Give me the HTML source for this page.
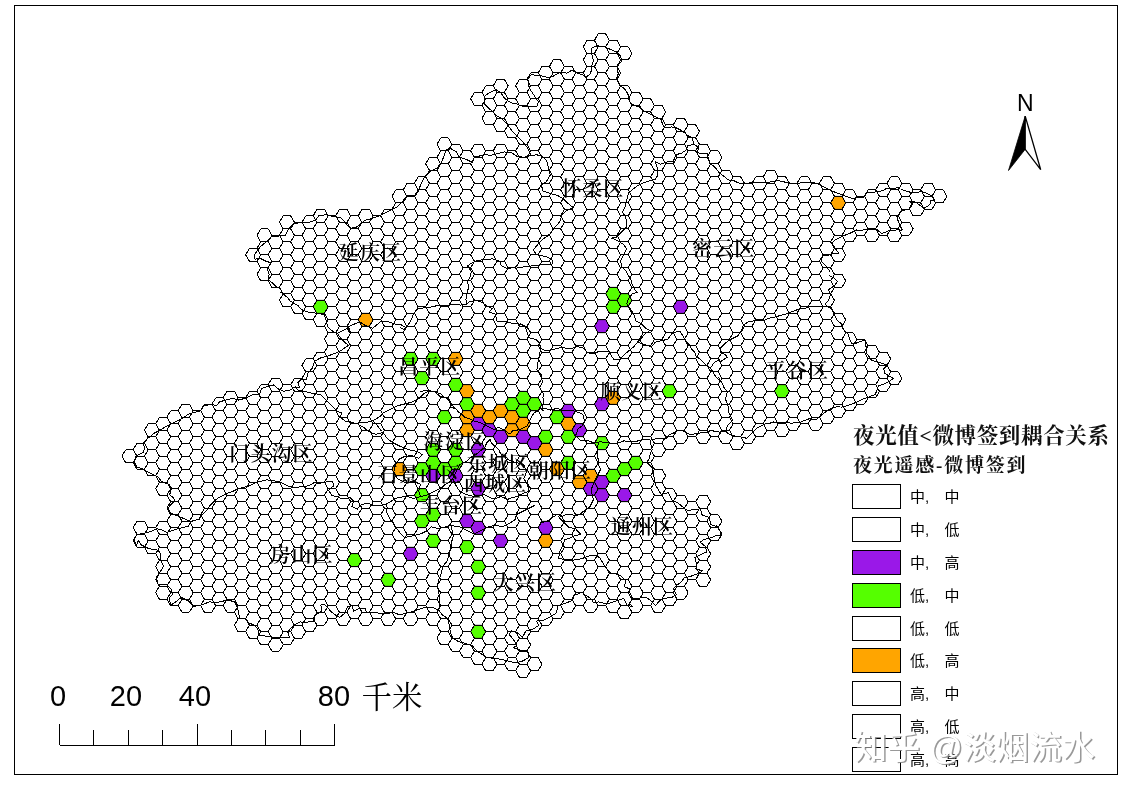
<!DOCTYPE html>
<html lang="zh"><head><meta charset="utf-8"><title>夜光值-微博签到耦合关系</title>
<style>
html,body{margin:0;padding:0;background:#fff;overflow:hidden}
svg{display:block}
.dl{font-family:"Liberation Serif","Noto Serif CJK SC",serif;font-size:20px;font-weight:600;fill:#000;letter-spacing:1.1px}
.ll{font-family:"Liberation Sans","Noto Sans CJK SC",sans-serif;font-size:15px;font-weight:400;fill:#000}
.lt{font-family:"Liberation Serif","Noto Serif CJK SC",serif;font-weight:700;fill:#111}
.sb{font-family:"Liberation Sans",sans-serif;font-size:29px;fill:#000}
.km{font-family:"Liberation Serif","Noto Serif CJK SC",serif;font-size:30.5px;fill:#000}
.wm{font-family:"Liberation Sans","Noto Sans CJK SC",sans-serif;font-size:33px;font-weight:500}
</style></head><body>
<svg width="1123" height="794" viewBox="0 0 1123 794">
<rect x="0" y="0" width="1123" height="794" fill="#fff"/>
<rect x="14.5" y="5.5" width="1103" height="769" fill="none" stroke="#000" stroke-width="1" shape-rendering="crispEdges"/>
<g id="colored"><path d="M470.68,423.74 474.43,417.24 481.93,417.24 485.68,423.74 481.93,430.24 474.43,430.24ZM481.93,430.24 485.68,423.74 493.18,423.74 496.93,430.24 493.18,436.73 485.68,436.73ZM493.18,436.73 496.93,430.24 504.43,430.24 508.18,436.73 504.43,443.23 496.93,443.23ZM515.68,436.73 519.43,430.24 526.93,430.24 530.68,436.73 526.93,443.23 519.43,443.23ZM526.93,443.23 530.68,436.73 538.18,436.73 541.93,443.23 538.18,449.73 530.68,449.73ZM470.68,449.73 474.43,443.23 481.93,443.23 485.68,449.73 481.93,456.23 474.43,456.23ZM560.68,410.74 564.43,404.25 571.93,404.25 575.68,410.74 571.93,417.24 564.43,417.24ZM571.93,430.24 575.68,423.74 583.18,423.74 586.93,430.24 583.18,436.73 575.68,436.73ZM594.43,404.25 598.18,397.75 605.68,397.75 609.43,404.25 605.68,410.74 598.18,410.74ZM425.68,475.72 429.43,469.22 436.93,469.22 440.68,475.72 436.93,482.22 429.43,482.22ZM448.18,475.72 451.93,469.22 459.43,469.22 463.18,475.72 459.43,482.22 451.93,482.22ZM470.68,488.71 474.43,482.22 481.93,482.22 485.68,488.71 481.93,495.21 474.43,495.21ZM459.43,521.2 463.18,514.7 470.68,514.7 474.43,521.2 470.68,527.7 463.18,527.7ZM470.68,527.7 474.43,521.2 481.93,521.2 485.68,527.7 481.93,534.2 474.43,534.2ZM493.18,540.69 496.93,534.2 504.43,534.2 508.18,540.69 504.43,547.19 496.93,547.19ZM403.18,553.69 406.93,547.19 414.43,547.19 418.18,553.69 414.43,560.19 406.93,560.19ZM538.18,527.7 541.93,521.2 549.43,521.2 553.18,527.7 549.43,534.2 541.93,534.2ZM583.18,488.71 586.93,482.22 594.43,482.22 598.18,488.71 594.43,495.21 586.93,495.21ZM594.43,482.22 598.18,475.72 605.68,475.72 609.43,482.22 605.68,488.71 598.18,488.71ZM594.43,495.21 598.18,488.71 605.68,488.71 609.43,495.21 605.68,501.71 598.18,501.71ZM616.93,495.21 620.68,488.71 628.18,488.71 631.93,495.21 628.18,501.71 620.68,501.71ZM594.43,326.28 598.18,319.78 605.68,319.78 609.43,326.28 605.68,332.77 598.18,332.77ZM673.18,306.78 676.93,300.29 684.43,300.29 688.18,306.78 684.43,313.28 676.93,313.28Z" fill="#9a18e8" stroke="#222" stroke-width="0.6"/><path d="M313.18,306.78 316.93,300.29 324.43,300.29 328.18,306.78 324.43,313.28 316.93,313.28ZM403.18,358.76 406.93,352.27 414.43,352.27 418.18,358.76 414.43,365.26 406.93,365.26ZM425.68,358.76 429.43,352.27 436.93,352.27 440.68,358.76 436.93,365.26 429.43,365.26ZM414.43,378.26 418.18,371.76 425.68,371.76 429.43,378.26 425.68,384.75 418.18,384.75ZM448.18,384.75 451.93,378.26 459.43,378.26 463.18,384.75 459.43,391.25 451.93,391.25ZM459.43,404.25 463.18,397.75 470.68,397.75 474.43,404.25 470.68,410.74 463.18,410.74ZM436.93,417.24 440.68,410.74 448.18,410.74 451.93,417.24 448.18,423.74 440.68,423.74ZM515.68,397.75 519.43,391.25 526.93,391.25 530.68,397.75 526.93,404.25 519.43,404.25ZM504.43,404.25 508.18,397.75 515.68,397.75 519.43,404.25 515.68,410.74 508.18,410.74ZM526.93,404.25 530.68,397.75 538.18,397.75 541.93,404.25 538.18,410.74 530.68,410.74ZM515.68,410.74 519.43,404.25 526.93,404.25 530.68,410.74 526.93,417.24 519.43,417.24ZM538.18,436.73 541.93,430.24 549.43,430.24 553.18,436.73 549.43,443.23 541.93,443.23ZM549.43,417.24 553.18,410.74 560.68,410.74 564.43,417.24 560.68,423.74 553.18,423.74ZM560.68,436.73 564.43,430.24 571.93,430.24 575.68,436.73 571.93,443.23 564.43,443.23ZM560.68,462.72 564.43,456.23 571.93,456.23 575.68,462.72 571.93,469.22 564.43,469.22ZM425.68,449.73 429.43,443.23 436.93,443.23 440.68,449.73 436.93,456.23 429.43,456.23ZM448.18,449.73 451.93,443.23 459.43,443.23 463.18,449.73 459.43,456.23 451.93,456.23ZM425.68,462.72 429.43,456.23 436.93,456.23 440.68,462.72 436.93,469.22 429.43,469.22ZM448.18,462.72 451.93,456.23 459.43,456.23 463.18,462.72 459.43,469.22 451.93,469.22ZM414.43,469.22 418.18,462.72 425.68,462.72 429.43,469.22 425.68,475.72 418.18,475.72ZM436.93,469.22 440.68,462.72 448.18,462.72 451.93,469.22 448.18,475.72 440.68,475.72ZM414.43,495.21 418.18,488.71 425.68,488.71 429.43,495.21 425.68,501.71 418.18,501.71ZM425.68,514.7 429.43,508.21 436.93,508.21 440.68,514.7 436.93,521.2 429.43,521.2ZM414.43,521.2 418.18,514.7 425.68,514.7 429.43,521.2 425.68,527.7 418.18,527.7ZM425.68,540.69 429.43,534.2 436.93,534.2 440.68,540.69 436.93,547.19 429.43,547.19ZM459.43,547.19 463.18,540.69 470.68,540.69 474.43,547.19 470.68,553.69 463.18,553.69ZM470.68,566.68 474.43,560.19 481.93,560.19 485.68,566.68 481.93,573.18 474.43,573.18ZM470.68,592.67 474.43,586.18 481.93,586.18 485.68,592.67 481.93,599.17 474.43,599.17ZM470.68,631.66 474.43,625.16 481.93,625.16 485.68,631.66 481.93,638.16 474.43,638.16ZM346.93,560.19 350.68,553.69 358.18,553.69 361.93,560.19 358.18,566.68 350.68,566.68ZM380.68,579.68 384.43,573.18 391.93,573.18 395.68,579.68 391.93,586.18 384.43,586.18ZM594.43,443.23 598.18,436.73 605.68,436.73 609.43,443.23 605.68,449.73 598.18,449.73ZM605.68,475.72 609.43,469.22 616.93,469.22 620.68,475.72 616.93,482.22 609.43,482.22ZM616.93,469.22 620.68,462.72 628.18,462.72 631.93,469.22 628.18,475.72 620.68,475.72ZM628.18,462.72 631.93,456.23 639.43,456.23 643.18,462.72 639.43,469.22 631.93,469.22ZM605.68,293.79 609.43,287.29 616.93,287.29 620.68,293.79 616.93,300.29 609.43,300.29ZM616.93,300.29 620.68,293.79 628.18,293.79 631.93,300.29 628.18,306.78 620.68,306.78ZM605.68,306.78 609.43,300.29 616.93,300.29 620.68,306.78 616.93,313.28 609.43,313.28ZM661.93,391.25 665.68,384.75 673.18,384.75 676.93,391.25 673.18,397.75 665.68,397.75ZM774.43,391.25 778.18,384.75 785.68,384.75 789.43,391.25 785.68,397.75 778.18,397.75Z" fill="#55ff00" stroke="#222" stroke-width="0.6"/><path d="M358.18,319.78 361.93,313.28 369.43,313.28 373.18,319.78 369.43,326.28 361.93,326.28ZM448.18,358.76 451.93,352.27 459.43,352.27 463.18,358.76 459.43,365.26 451.93,365.26ZM459.43,391.25 463.18,384.75 470.68,384.75 474.43,391.25 470.68,397.75 463.18,397.75ZM470.68,410.74 474.43,404.25 481.93,404.25 485.68,410.74 481.93,417.24 474.43,417.24ZM459.43,417.24 463.18,410.74 470.68,410.74 474.43,417.24 470.68,423.74 463.18,423.74ZM481.93,417.24 485.68,410.74 493.18,410.74 496.93,417.24 493.18,423.74 485.68,423.74ZM493.18,410.74 496.93,404.25 504.43,404.25 508.18,410.74 504.43,417.24 496.93,417.24ZM504.43,417.24 508.18,410.74 515.68,410.74 519.43,417.24 515.68,423.74 508.18,423.74ZM515.68,423.74 519.43,417.24 526.93,417.24 530.68,423.74 526.93,430.24 519.43,430.24ZM504.43,430.24 508.18,423.74 515.68,423.74 519.43,430.24 515.68,436.73 508.18,436.73ZM459.43,430.24 463.18,423.74 470.68,423.74 474.43,430.24 470.68,436.73 463.18,436.73ZM538.18,449.73 541.93,443.23 549.43,443.23 553.18,449.73 549.43,456.23 541.93,456.23ZM560.68,423.74 564.43,417.24 571.93,417.24 575.68,423.74 571.93,430.24 564.43,430.24ZM605.68,397.75 609.43,391.25 616.93,391.25 620.68,397.75 616.93,404.25 609.43,404.25ZM391.93,469.22 395.68,462.72 403.18,462.72 406.93,469.22 403.18,475.72 395.68,475.72ZM549.43,469.22 553.18,462.72 560.68,462.72 564.43,469.22 560.68,475.72 553.18,475.72ZM583.18,475.72 586.93,469.22 594.43,469.22 598.18,475.72 594.43,482.22 586.93,482.22ZM571.93,482.22 575.68,475.72 583.18,475.72 586.93,482.22 583.18,488.71 575.68,488.71ZM538.18,540.69 541.93,534.2 549.43,534.2 553.18,540.69 549.43,547.19 541.93,547.19ZM830.68,202.82 834.43,196.33 841.93,196.33 845.68,202.82 841.93,209.32 834.43,209.32Z" fill="#ffa500" stroke="#222" stroke-width="0.6"/></g>
<path id="grid" d="M121.93,456.23L125.68,449.73M125.68,449.73L133.18,449.73M133.18,449.73L136.93,456.23M136.93,456.23L133.18,462.72M133.18,462.72L125.68,462.72M125.68,462.72L121.93,456.23M133.18,449.73L136.93,443.23M136.93,443.23L144.43,443.23M144.43,443.23L148.18,449.73M148.18,449.73L144.43,456.23M144.43,456.23L136.93,456.23M144.43,456.23L148.18,462.72M148.18,462.72L144.43,469.22M144.43,469.22L136.93,469.22M136.93,469.22L133.18,462.72M133.18,527.7L136.93,521.2M136.93,521.2L144.43,521.2M144.43,521.2L148.18,527.7M148.18,527.7L144.43,534.2M144.43,534.2L136.93,534.2M136.93,534.2L133.18,527.7M133.18,540.69L136.93,534.2M144.43,534.2L148.18,540.69M148.18,540.69L144.43,547.19M144.43,547.19L136.93,547.19M136.93,547.19L133.18,540.69M144.43,430.24L148.18,423.74M148.18,423.74L155.68,423.74M155.68,423.74L159.43,430.24M159.43,430.24L155.68,436.73M155.68,436.73L148.18,436.73M148.18,436.73L144.43,430.24M144.43,443.23L148.18,436.73M155.68,436.73L159.43,443.23M159.43,443.23L155.68,449.73M155.68,449.73L148.18,449.73M155.68,449.73L159.43,456.23M159.43,456.23L155.68,462.72M155.68,462.72L148.18,462.72M155.68,462.72L159.43,469.22M159.43,469.22L155.68,475.72M155.68,475.72L148.18,475.72M148.18,475.72L144.43,469.22M148.18,527.7L155.68,527.7M155.68,527.7L159.43,534.2M159.43,534.2L155.68,540.69M155.68,540.69L148.18,540.69M155.68,540.69L159.43,547.19M159.43,547.19L155.68,553.69M155.68,553.69L148.18,553.69M148.18,553.69L144.43,547.19M155.68,423.74L159.43,417.24M159.43,417.24L166.93,417.24M166.93,417.24L170.68,423.74M170.68,423.74L166.93,430.24M166.93,430.24L159.43,430.24M166.93,430.24L170.68,436.73M170.68,436.73L166.93,443.23M166.93,443.23L159.43,443.23M166.93,443.23L170.68,449.73M170.68,449.73L166.93,456.23M166.93,456.23L159.43,456.23M166.93,456.23L170.68,462.72M170.68,462.72L166.93,469.22M166.93,469.22L159.43,469.22M166.93,469.22L170.68,475.72M170.68,475.72L166.93,482.22M166.93,482.22L159.43,482.22M159.43,482.22L155.68,475.72M155.68,488.71L159.43,482.22M166.93,482.22L170.68,488.71M170.68,488.71L166.93,495.21M166.93,495.21L159.43,495.21M159.43,495.21L155.68,488.71M155.68,527.7L159.43,521.2M159.43,521.2L166.93,521.2M166.93,521.2L170.68,527.7M170.68,527.7L166.93,534.2M166.93,534.2L159.43,534.2M166.93,534.2L170.68,540.69M170.68,540.69L166.93,547.19M166.93,547.19L159.43,547.19M166.93,547.19L170.68,553.69M170.68,553.69L166.93,560.19M166.93,560.19L159.43,560.19M159.43,560.19L155.68,553.69M155.68,566.68L159.43,560.19M166.93,560.19L170.68,566.68M170.68,566.68L166.93,573.18M166.93,573.18L159.43,573.18M159.43,573.18L155.68,566.68M155.68,579.68L159.43,573.18M166.93,573.18L170.68,579.68M170.68,579.68L166.93,586.18M166.93,586.18L159.43,586.18M159.43,586.18L155.68,579.68M155.68,592.67L159.43,586.18M166.93,586.18L170.68,592.67M170.68,592.67L166.93,599.17M166.93,599.17L159.43,599.17M159.43,599.17L155.68,592.67M166.93,417.24L170.68,410.74M170.68,410.74L178.18,410.74M178.18,410.74L181.93,417.24M181.93,417.24L178.18,423.74M178.18,423.74L170.68,423.74M178.18,423.74L181.93,430.24M181.93,430.24L178.18,436.73M178.18,436.73L170.68,436.73M178.18,436.73L181.93,443.23M181.93,443.23L178.18,449.73M178.18,449.73L170.68,449.73M178.18,449.73L181.93,456.23M181.93,456.23L178.18,462.72M178.18,462.72L170.68,462.72M178.18,462.72L181.93,469.22M181.93,469.22L178.18,475.72M178.18,475.72L170.68,475.72M178.18,475.72L181.93,482.22M181.93,482.22L178.18,488.71M178.18,488.71L170.68,488.71M178.18,488.71L181.93,495.21M181.93,495.21L178.18,501.71M178.18,501.71L170.68,501.71M170.68,501.71L166.93,495.21M166.93,508.21L170.68,501.71M178.18,501.71L181.93,508.21M181.93,508.21L178.18,514.7M178.18,514.7L170.68,514.7M170.68,514.7L166.93,508.21M166.93,521.2L170.68,514.7M178.18,514.7L181.93,521.2M181.93,521.2L178.18,527.7M178.18,527.7L170.68,527.7M178.18,527.7L181.93,534.2M181.93,534.2L178.18,540.69M178.18,540.69L170.68,540.69M178.18,540.69L181.93,547.19M181.93,547.19L178.18,553.69M178.18,553.69L170.68,553.69M178.18,553.69L181.93,560.19M181.93,560.19L178.18,566.68M178.18,566.68L170.68,566.68M178.18,566.68L181.93,573.18M181.93,573.18L178.18,579.68M178.18,579.68L170.68,579.68M178.18,579.68L181.93,586.18M181.93,586.18L178.18,592.67M178.18,592.67L170.68,592.67M178.18,592.67L181.93,599.17M181.93,599.17L178.18,605.67M178.18,605.67L170.68,605.67M170.68,605.67L166.93,599.17M178.18,410.74L181.93,404.25M181.93,404.25L189.43,404.25M189.43,404.25L193.18,410.74M193.18,410.74L189.43,417.24M189.43,417.24L181.93,417.24M189.43,417.24L193.18,423.74M193.18,423.74L189.43,430.24M189.43,430.24L181.93,430.24M189.43,430.24L193.18,436.73M193.18,436.73L189.43,443.23M189.43,443.23L181.93,443.23M189.43,443.23L193.18,449.73M193.18,449.73L189.43,456.23M189.43,456.23L181.93,456.23M189.43,456.23L193.18,462.72M193.18,462.72L189.43,469.22M189.43,469.22L181.93,469.22M189.43,469.22L193.18,475.72M193.18,475.72L189.43,482.22M189.43,482.22L181.93,482.22M189.43,482.22L193.18,488.71M193.18,488.71L189.43,495.21M189.43,495.21L181.93,495.21M189.43,495.21L193.18,501.71M193.18,501.71L189.43,508.21M189.43,508.21L181.93,508.21M189.43,508.21L193.18,514.7M193.18,514.7L189.43,521.2M189.43,521.2L181.93,521.2M189.43,521.2L193.18,527.7M193.18,527.7L189.43,534.2M189.43,534.2L181.93,534.2M189.43,534.2L193.18,540.69M193.18,540.69L189.43,547.19M189.43,547.19L181.93,547.19M189.43,547.19L193.18,553.69M193.18,553.69L189.43,560.19M189.43,560.19L181.93,560.19M189.43,560.19L193.18,566.68M193.18,566.68L189.43,573.18M189.43,573.18L181.93,573.18M189.43,573.18L193.18,579.68M193.18,579.68L189.43,586.18M189.43,586.18L181.93,586.18M189.43,586.18L193.18,592.67M193.18,592.67L189.43,599.17M189.43,599.17L181.93,599.17M189.43,599.17L193.18,605.67M193.18,605.67L189.43,612.17M189.43,612.17L181.93,612.17M181.93,612.17L178.18,605.67M193.18,410.74L200.68,410.74M200.68,410.74L204.43,417.24M204.43,417.24L200.68,423.74M200.68,423.74L193.18,423.74M200.68,423.74L204.43,430.24M204.43,430.24L200.68,436.73M200.68,436.73L193.18,436.73M200.68,436.73L204.43,443.23M204.43,443.23L200.68,449.73M200.68,449.73L193.18,449.73M200.68,449.73L204.43,456.23M204.43,456.23L200.68,462.72M200.68,462.72L193.18,462.72M200.68,462.72L204.43,469.22M204.43,469.22L200.68,475.72M200.68,475.72L193.18,475.72M200.68,475.72L204.43,482.22M204.43,482.22L200.68,488.71M200.68,488.71L193.18,488.71M200.68,488.71L204.43,495.21M204.43,495.21L200.68,501.71M200.68,501.71L193.18,501.71M200.68,501.71L204.43,508.21M204.43,508.21L200.68,514.7M200.68,514.7L193.18,514.7M200.68,514.7L204.43,521.2M204.43,521.2L200.68,527.7M200.68,527.7L193.18,527.7M200.68,527.7L204.43,534.2M204.43,534.2L200.68,540.69M200.68,540.69L193.18,540.69M200.68,540.69L204.43,547.19M204.43,547.19L200.68,553.69M200.68,553.69L193.18,553.69M200.68,553.69L204.43,560.19M204.43,560.19L200.68,566.68M200.68,566.68L193.18,566.68M200.68,566.68L204.43,573.18M204.43,573.18L200.68,579.68M200.68,579.68L193.18,579.68M200.68,579.68L204.43,586.18M204.43,586.18L200.68,592.67M200.68,592.67L193.18,592.67M200.68,592.67L204.43,599.17M204.43,599.17L200.68,605.67M200.68,605.67L193.18,605.67M200.68,410.74L204.43,404.25M204.43,404.25L211.93,404.25M211.93,404.25L215.68,410.74M215.68,410.74L211.93,417.24M211.93,417.24L204.43,417.24M211.93,417.24L215.68,423.74M215.68,423.74L211.93,430.24M211.93,430.24L204.43,430.24M211.93,430.24L215.68,436.73M215.68,436.73L211.93,443.23M211.93,443.23L204.43,443.23M211.93,443.23L215.68,449.73M215.68,449.73L211.93,456.23M211.93,456.23L204.43,456.23M211.93,456.23L215.68,462.72M215.68,462.72L211.93,469.22M211.93,469.22L204.43,469.22M211.93,469.22L215.68,475.72M215.68,475.72L211.93,482.22M211.93,482.22L204.43,482.22M211.93,482.22L215.68,488.71M215.68,488.71L211.93,495.21M211.93,495.21L204.43,495.21M211.93,495.21L215.68,501.71M215.68,501.71L211.93,508.21M211.93,508.21L204.43,508.21M211.93,508.21L215.68,514.7M215.68,514.7L211.93,521.2M211.93,521.2L204.43,521.2M211.93,521.2L215.68,527.7M215.68,527.7L211.93,534.2M211.93,534.2L204.43,534.2M211.93,534.2L215.68,540.69M215.68,540.69L211.93,547.19M211.93,547.19L204.43,547.19M211.93,547.19L215.68,553.69M215.68,553.69L211.93,560.19M211.93,560.19L204.43,560.19M211.93,560.19L215.68,566.68M215.68,566.68L211.93,573.18M211.93,573.18L204.43,573.18M211.93,573.18L215.68,579.68M215.68,579.68L211.93,586.18M211.93,586.18L204.43,586.18M211.93,586.18L215.68,592.67M215.68,592.67L211.93,599.17M211.93,599.17L204.43,599.17M211.93,599.17L215.68,605.67M215.68,605.67L211.93,612.17M211.93,612.17L204.43,612.17M204.43,612.17L200.68,605.67M211.93,404.25L215.68,397.75M215.68,397.75L223.18,397.75M223.18,397.75L226.93,404.25M226.93,404.25L223.18,410.74M223.18,410.74L215.68,410.74M223.18,410.74L226.93,417.24M226.93,417.24L223.18,423.74M223.18,423.74L215.68,423.74M223.18,423.74L226.93,430.24M226.93,430.24L223.18,436.73M223.18,436.73L215.68,436.73M223.18,436.73L226.93,443.23M226.93,443.23L223.18,449.73M223.18,449.73L215.68,449.73M223.18,449.73L226.93,456.23M226.93,456.23L223.18,462.72M223.18,462.72L215.68,462.72M223.18,462.72L226.93,469.22M226.93,469.22L223.18,475.72M223.18,475.72L215.68,475.72M223.18,475.72L226.93,482.22M226.93,482.22L223.18,488.71M223.18,488.71L215.68,488.71M223.18,488.71L226.93,495.21M226.93,495.21L223.18,501.71M223.18,501.71L215.68,501.71M223.18,501.71L226.93,508.21M226.93,508.21L223.18,514.7M223.18,514.7L215.68,514.7M223.18,514.7L226.93,521.2M226.93,521.2L223.18,527.7M223.18,527.7L215.68,527.7M223.18,527.7L226.93,534.2M226.93,534.2L223.18,540.69M223.18,540.69L215.68,540.69M223.18,540.69L226.93,547.19M226.93,547.19L223.18,553.69M223.18,553.69L215.68,553.69M223.18,553.69L226.93,560.19M226.93,560.19L223.18,566.68M223.18,566.68L215.68,566.68M223.18,566.68L226.93,573.18M226.93,573.18L223.18,579.68M223.18,579.68L215.68,579.68M223.18,579.68L226.93,586.18M226.93,586.18L223.18,592.67M223.18,592.67L215.68,592.67M223.18,592.67L226.93,599.17M226.93,599.17L223.18,605.67M223.18,605.67L215.68,605.67M223.18,397.75L226.93,391.25M226.93,391.25L234.43,391.25M234.43,391.25L238.18,397.75M238.18,397.75L234.43,404.25M234.43,404.25L226.93,404.25M234.43,404.25L238.18,410.74M238.18,410.74L234.43,417.24M234.43,417.24L226.93,417.24M234.43,417.24L238.18,423.74M238.18,423.74L234.43,430.24M234.43,430.24L226.93,430.24M234.43,430.24L238.18,436.73M238.18,436.73L234.43,443.23M234.43,443.23L226.93,443.23M234.43,443.23L238.18,449.73M238.18,449.73L234.43,456.23M234.43,456.23L226.93,456.23M234.43,456.23L238.18,462.72M238.18,462.72L234.43,469.22M234.43,469.22L226.93,469.22M234.43,469.22L238.18,475.72M238.18,475.72L234.43,482.22M234.43,482.22L226.93,482.22M234.43,482.22L238.18,488.71M238.18,488.71L234.43,495.21M234.43,495.21L226.93,495.21M234.43,495.21L238.18,501.71M238.18,501.71L234.43,508.21M234.43,508.21L226.93,508.21M234.43,508.21L238.18,514.7M238.18,514.7L234.43,521.2M234.43,521.2L226.93,521.2M234.43,521.2L238.18,527.7M238.18,527.7L234.43,534.2M234.43,534.2L226.93,534.2M234.43,534.2L238.18,540.69M238.18,540.69L234.43,547.19M234.43,547.19L226.93,547.19M234.43,547.19L238.18,553.69M238.18,553.69L234.43,560.19M234.43,560.19L226.93,560.19M234.43,560.19L238.18,566.68M238.18,566.68L234.43,573.18M234.43,573.18L226.93,573.18M234.43,573.18L238.18,579.68M238.18,579.68L234.43,586.18M234.43,586.18L226.93,586.18M234.43,586.18L238.18,592.67M238.18,592.67L234.43,599.17M234.43,599.17L226.93,599.17M234.43,599.17L238.18,605.67M238.18,605.67L234.43,612.17M234.43,612.17L226.93,612.17M226.93,612.17L223.18,605.67M238.18,397.75L245.68,397.75M245.68,397.75L249.43,404.25M249.43,404.25L245.68,410.74M245.68,410.74L238.18,410.74M245.68,410.74L249.43,417.24M249.43,417.24L245.68,423.74M245.68,423.74L238.18,423.74M245.68,423.74L249.43,430.24M249.43,430.24L245.68,436.73M245.68,436.73L238.18,436.73M245.68,436.73L249.43,443.23M249.43,443.23L245.68,449.73M245.68,449.73L238.18,449.73M245.68,449.73L249.43,456.23M249.43,456.23L245.68,462.72M245.68,462.72L238.18,462.72M245.68,462.72L249.43,469.22M249.43,469.22L245.68,475.72M245.68,475.72L238.18,475.72M245.68,475.72L249.43,482.22M249.43,482.22L245.68,488.71M245.68,488.71L238.18,488.71M245.68,488.71L249.43,495.21M249.43,495.21L245.68,501.71M245.68,501.71L238.18,501.71M245.68,501.71L249.43,508.21M249.43,508.21L245.68,514.7M245.68,514.7L238.18,514.7M245.68,514.7L249.43,521.2M249.43,521.2L245.68,527.7M245.68,527.7L238.18,527.7M245.68,527.7L249.43,534.2M249.43,534.2L245.68,540.69M245.68,540.69L238.18,540.69M245.68,540.69L249.43,547.19M249.43,547.19L245.68,553.69M245.68,553.69L238.18,553.69M245.68,553.69L249.43,560.19M249.43,560.19L245.68,566.68M245.68,566.68L238.18,566.68M245.68,566.68L249.43,573.18M249.43,573.18L245.68,579.68M245.68,579.68L238.18,579.68M245.68,579.68L249.43,586.18M249.43,586.18L245.68,592.67M245.68,592.67L238.18,592.67M245.68,592.67L249.43,599.17M249.43,599.17L245.68,605.67M245.68,605.67L238.18,605.67M245.68,605.67L249.43,612.17M249.43,612.17L245.68,618.66M245.68,618.66L238.18,618.66M238.18,618.66L234.43,612.17M234.43,625.16L238.18,618.66M245.68,618.66L249.43,625.16M249.43,625.16L245.68,631.66M245.68,631.66L238.18,631.66M238.18,631.66L234.43,625.16M245.68,254.8L249.43,248.31M249.43,248.31L256.93,248.31M256.93,248.31L260.68,254.8M260.68,254.8L256.93,261.3M256.93,261.3L249.43,261.3M249.43,261.3L245.68,254.8M245.68,397.75L249.43,391.25M249.43,391.25L256.93,391.25M256.93,391.25L260.68,397.75M260.68,397.75L256.93,404.25M256.93,404.25L249.43,404.25M256.93,404.25L260.68,410.74M260.68,410.74L256.93,417.24M256.93,417.24L249.43,417.24M256.93,417.24L260.68,423.74M260.68,423.74L256.93,430.24M256.93,430.24L249.43,430.24M256.93,430.24L260.68,436.73M260.68,436.73L256.93,443.23M256.93,443.23L249.43,443.23M256.93,443.23L260.68,449.73M260.68,449.73L256.93,456.23M256.93,456.23L249.43,456.23M256.93,456.23L260.68,462.72M260.68,462.72L256.93,469.22M256.93,469.22L249.43,469.22M256.93,469.22L260.68,475.72M260.68,475.72L256.93,482.22M256.93,482.22L249.43,482.22M256.93,482.22L260.68,488.71M260.68,488.71L256.93,495.21M256.93,495.21L249.43,495.21M256.93,495.21L260.68,501.71M260.68,501.71L256.93,508.21M256.93,508.21L249.43,508.21M256.93,508.21L260.68,514.7M260.68,514.7L256.93,521.2M256.93,521.2L249.43,521.2M256.93,521.2L260.68,527.7M260.68,527.7L256.93,534.2M256.93,534.2L249.43,534.2M256.93,534.2L260.68,540.69M260.68,540.69L256.93,547.19M256.93,547.19L249.43,547.19M256.93,547.19L260.68,553.69M260.68,553.69L256.93,560.19M256.93,560.19L249.43,560.19M256.93,560.19L260.68,566.68M260.68,566.68L256.93,573.18M256.93,573.18L249.43,573.18M256.93,573.18L260.68,579.68M260.68,579.68L256.93,586.18M256.93,586.18L249.43,586.18M256.93,586.18L260.68,592.67M260.68,592.67L256.93,599.17M256.93,599.17L249.43,599.17M256.93,599.17L260.68,605.67M260.68,605.67L256.93,612.17M256.93,612.17L249.43,612.17M256.93,612.17L260.68,618.66M260.68,618.66L256.93,625.16M256.93,625.16L249.43,625.16M256.93,625.16L260.68,631.66M260.68,631.66L256.93,638.16M256.93,638.16L249.43,638.16M249.43,638.16L245.68,631.66M256.93,235.31L260.68,228.81M260.68,228.81L268.18,228.81M268.18,228.81L271.93,235.31M271.93,235.31L268.18,241.81M268.18,241.81L260.68,241.81M260.68,241.81L256.93,235.31M256.93,248.31L260.68,241.81M268.18,241.81L271.93,248.31M271.93,248.31L268.18,254.81M268.18,254.81L260.68,254.81M268.18,254.8L271.93,261.3M271.93,261.3L268.18,267.8M268.18,267.8L260.68,267.8M260.68,267.8L256.93,261.3M256.93,274.3L260.68,267.8M268.18,267.8L271.93,274.3M271.93,274.3L268.18,280.79M268.18,280.79L260.68,280.79M260.68,280.79L256.93,274.3M256.93,391.25L260.68,384.75M260.68,384.75L268.18,384.75M268.18,384.75L271.93,391.25M271.93,391.25L268.18,397.75M268.18,397.75L260.68,397.75M268.18,397.75L271.93,404.25M271.93,404.25L268.18,410.74M268.18,410.74L260.68,410.74M268.18,410.74L271.93,417.24M271.93,417.24L268.18,423.74M268.18,423.74L260.68,423.74M268.18,423.74L271.93,430.24M271.93,430.24L268.18,436.73M268.18,436.73L260.68,436.73M268.18,436.73L271.93,443.23M271.93,443.23L268.18,449.73M268.18,449.73L260.68,449.73M268.18,449.73L271.93,456.23M271.93,456.23L268.18,462.72M268.18,462.72L260.68,462.72M268.18,462.72L271.93,469.22M271.93,469.22L268.18,475.72M268.18,475.72L260.68,475.72M268.18,475.72L271.93,482.22M271.93,482.22L268.18,488.71M268.18,488.71L260.68,488.71M268.18,488.71L271.93,495.21M271.93,495.21L268.18,501.71M268.18,501.71L260.68,501.71M268.18,501.71L271.93,508.21M271.93,508.21L268.18,514.7M268.18,514.7L260.68,514.7M268.18,514.7L271.93,521.2M271.93,521.2L268.18,527.7M268.18,527.7L260.68,527.7M268.18,527.7L271.93,534.2M271.93,534.2L268.18,540.69M268.18,540.69L260.68,540.69M268.18,540.69L271.93,547.19M271.93,547.19L268.18,553.69M268.18,553.69L260.68,553.69M268.18,553.69L271.93,560.19M271.93,560.19L268.18,566.68M268.18,566.68L260.68,566.68M268.18,566.68L271.93,573.18M271.93,573.18L268.18,579.68M268.18,579.68L260.68,579.68M268.18,579.68L271.93,586.18M271.93,586.18L268.18,592.67M268.18,592.67L260.68,592.67M268.18,592.67L271.93,599.17M271.93,599.17L268.18,605.67M268.18,605.67L260.68,605.67M268.18,605.67L271.93,612.17M271.93,612.17L268.18,618.66M268.18,618.66L260.68,618.66M268.18,618.66L271.93,625.16M271.93,625.16L268.18,631.66M268.18,631.66L260.68,631.66M268.18,631.66L271.93,638.16M271.93,638.16L268.18,644.65M268.18,644.65L260.68,644.65M260.68,644.65L256.93,638.16M271.93,235.31L279.43,235.31M279.43,235.31L283.18,241.81M283.18,241.81L279.43,248.31M279.43,248.31L271.93,248.31M279.43,248.31L283.18,254.8M283.18,254.8L279.43,261.3M279.43,261.3L271.93,261.3M279.43,261.3L283.18,267.8M283.18,267.8L279.43,274.3M279.43,274.3L271.93,274.3M279.43,274.3L283.18,280.79M283.18,280.79L279.43,287.29M279.43,287.29L271.93,287.29M271.93,287.29L268.18,280.79M268.18,384.75L271.93,378.26M271.93,378.26L279.43,378.26M279.43,378.26L283.18,384.75M283.18,384.75L279.43,391.25M279.43,391.25L271.93,391.25M279.43,391.25L283.18,397.75M283.18,397.75L279.43,404.25M279.43,404.25L271.93,404.25M279.43,404.25L283.18,410.74M283.18,410.74L279.43,417.24M279.43,417.24L271.93,417.24M279.43,417.24L283.18,423.74M283.18,423.74L279.43,430.24M279.43,430.24L271.93,430.24M279.43,430.24L283.18,436.73M283.18,436.73L279.43,443.23M279.43,443.23L271.93,443.23M279.43,443.23L283.18,449.73M283.18,449.73L279.43,456.23M279.43,456.23L271.93,456.23M279.43,456.23L283.18,462.72M283.18,462.72L279.43,469.22M279.43,469.22L271.93,469.22M279.43,469.22L283.18,475.72M283.18,475.72L279.43,482.22M279.43,482.22L271.93,482.22M279.43,482.22L283.18,488.71M283.18,488.71L279.43,495.21M279.43,495.21L271.93,495.21M279.43,495.21L283.18,501.71M283.18,501.71L279.43,508.21M279.43,508.21L271.93,508.21M279.43,508.21L283.18,514.7M283.18,514.7L279.43,521.2M279.43,521.2L271.93,521.2M279.43,521.2L283.18,527.7M283.18,527.7L279.43,534.2M279.43,534.2L271.93,534.2M279.43,534.2L283.18,540.69M283.18,540.69L279.43,547.19M279.43,547.19L271.93,547.19M279.43,547.19L283.18,553.69M283.18,553.69L279.43,560.19M279.43,560.19L271.93,560.19M279.43,560.19L283.18,566.68M283.18,566.68L279.43,573.18M279.43,573.18L271.93,573.18M279.43,573.18L283.18,579.68M283.18,579.68L279.43,586.18M279.43,586.18L271.93,586.18M279.43,586.18L283.18,592.67M283.18,592.67L279.43,599.17M279.43,599.17L271.93,599.17M279.43,599.17L283.18,605.67M283.18,605.67L279.43,612.17M279.43,612.17L271.93,612.17M279.43,612.17L283.18,618.66M283.18,618.66L279.43,625.16M279.43,625.16L271.93,625.16M279.43,625.16L283.18,631.66M283.18,631.66L279.43,638.16M279.43,638.16L271.93,638.16M279.43,638.16L283.18,644.65M283.18,644.65L279.43,651.15M279.43,651.15L271.93,651.15M271.93,651.15L268.18,644.65M279.43,222.32L283.18,215.82M283.18,215.82L290.68,215.82M290.68,215.82L294.43,222.32M294.43,222.32L290.68,228.81M290.68,228.81L283.18,228.81M283.18,228.81L279.43,222.32M279.43,235.31L283.18,228.81M290.68,228.81L294.43,235.31M294.43,235.31L290.68,241.81M290.68,241.81L283.18,241.81M290.68,241.81L294.43,248.31M294.43,248.31L290.68,254.81M290.68,254.81L283.18,254.81M290.68,254.8L294.43,261.3M294.43,261.3L290.68,267.8M290.68,267.8L283.18,267.8M290.68,267.8L294.43,274.3M294.43,274.3L290.68,280.79M290.68,280.79L283.18,280.79M290.68,280.79L294.43,287.29M294.43,287.29L290.68,293.79M290.68,293.79L283.18,293.79M283.18,293.79L279.43,287.29M279.43,300.29L283.18,293.79M290.68,293.79L294.43,300.29M294.43,300.29L290.68,306.78M290.68,306.78L283.18,306.78M283.18,306.78L279.43,300.29M283.18,384.75L290.68,384.75M290.68,384.75L294.43,391.25M294.43,391.25L290.68,397.75M290.68,397.75L283.18,397.75M290.68,397.75L294.43,404.25M294.43,404.25L290.68,410.74M290.68,410.74L283.18,410.74M290.68,410.74L294.43,417.24M294.43,417.24L290.68,423.74M290.68,423.74L283.18,423.74M290.68,423.74L294.43,430.24M294.43,430.24L290.68,436.73M290.68,436.73L283.18,436.73M290.68,436.73L294.43,443.23M294.43,443.23L290.68,449.73M290.68,449.73L283.18,449.73M290.68,449.73L294.43,456.23M294.43,456.23L290.68,462.72M290.68,462.72L283.18,462.72M290.68,462.72L294.43,469.22M294.43,469.22L290.68,475.72M290.68,475.72L283.18,475.72M290.68,475.72L294.43,482.22M294.43,482.22L290.68,488.71M290.68,488.71L283.18,488.71M290.68,488.71L294.43,495.21M294.43,495.21L290.68,501.71M290.68,501.71L283.18,501.71M290.68,501.71L294.43,508.21M294.43,508.21L290.68,514.7M290.68,514.7L283.18,514.7M290.68,514.7L294.43,521.2M294.43,521.2L290.68,527.7M290.68,527.7L283.18,527.7M290.68,527.7L294.43,534.2M294.43,534.2L290.68,540.69M290.68,540.69L283.18,540.69M290.68,540.69L294.43,547.19M294.43,547.19L290.68,553.69M290.68,553.69L283.18,553.69M290.68,553.69L294.43,560.19M294.43,560.19L290.68,566.68M290.68,566.68L283.18,566.68M290.68,566.68L294.43,573.18M294.43,573.18L290.68,579.68M290.68,579.68L283.18,579.68M290.68,579.68L294.43,586.18M294.43,586.18L290.68,592.67M290.68,592.67L283.18,592.67M290.68,592.67L294.43,599.17M294.43,599.17L290.68,605.67M290.68,605.67L283.18,605.67M290.68,605.67L294.43,612.17M294.43,612.17L290.68,618.66M290.68,618.66L283.18,618.66M290.68,618.66L294.43,625.16M294.43,625.16L290.68,631.66M290.68,631.66L283.18,631.66M290.68,631.66L294.43,638.16M294.43,638.16L290.68,644.65M290.68,644.65L283.18,644.65M294.43,222.32L301.93,222.32M301.93,222.32L305.68,228.81M305.68,228.81L301.93,235.31M301.93,235.31L294.43,235.31M301.93,235.31L305.68,241.81M305.68,241.81L301.93,248.31M301.93,248.31L294.43,248.31M301.93,248.31L305.68,254.8M305.68,254.8L301.93,261.3M301.93,261.3L294.43,261.3M301.93,261.3L305.68,267.8M305.68,267.8L301.93,274.3M301.93,274.3L294.43,274.3M301.93,274.3L305.68,280.79M305.68,280.79L301.93,287.29M301.93,287.29L294.43,287.29M301.93,287.29L305.68,293.79M305.68,293.79L301.93,300.29M301.93,300.29L294.43,300.29M301.93,300.29L305.68,306.78M305.68,306.78L301.93,313.28M301.93,313.28L294.43,313.28M294.43,313.28L290.68,306.78M290.68,384.75L294.43,378.26M294.43,378.26L301.93,378.26M301.93,378.26L305.68,384.75M305.68,384.75L301.93,391.25M301.93,391.25L294.43,391.25M301.93,391.25L305.68,397.75M305.68,397.75L301.93,404.25M301.93,404.25L294.43,404.25M301.93,404.25L305.68,410.74M305.68,410.74L301.93,417.24M301.93,417.24L294.43,417.24M301.93,417.24L305.68,423.74M305.68,423.74L301.93,430.24M301.93,430.24L294.43,430.24M301.93,430.24L305.68,436.73M305.68,436.73L301.93,443.23M301.93,443.23L294.43,443.23M301.93,443.23L305.68,449.73M305.68,449.73L301.93,456.23M301.93,456.23L294.43,456.23M301.93,456.23L305.68,462.72M305.68,462.72L301.93,469.22M301.93,469.22L294.43,469.22M301.93,469.22L305.68,475.72M305.68,475.72L301.93,482.22M301.93,482.22L294.43,482.22M301.93,482.22L305.68,488.71M305.68,488.71L301.93,495.21M301.93,495.21L294.43,495.21M301.93,495.21L305.68,501.71M305.68,501.71L301.93,508.21M301.93,508.21L294.43,508.21M301.93,508.21L305.68,514.7M305.68,514.7L301.93,521.2M301.93,521.2L294.43,521.2M301.93,521.2L305.68,527.7M305.68,527.7L301.93,534.2M301.93,534.2L294.43,534.2M301.93,534.2L305.68,540.69M305.68,540.69L301.93,547.19M301.93,547.19L294.43,547.19M301.93,547.19L305.68,553.69M305.68,553.69L301.93,560.19M301.93,560.19L294.43,560.19M301.93,560.19L305.68,566.68M305.68,566.68L301.93,573.18M301.93,573.18L294.43,573.18M301.93,573.18L305.68,579.68M305.68,579.68L301.93,586.18M301.93,586.18L294.43,586.18M301.93,586.18L305.68,592.67M305.68,592.67L301.93,599.17M301.93,599.17L294.43,599.17M301.93,599.17L305.68,605.67M305.68,605.67L301.93,612.17M301.93,612.17L294.43,612.17M301.93,612.17L305.68,618.66M305.68,618.66L301.93,625.16M301.93,625.16L294.43,625.16M301.93,625.16L305.68,631.66M305.68,631.66L301.93,638.16M301.93,638.16L294.43,638.16M301.93,222.32L305.68,215.82M305.68,215.82L313.18,215.82M313.18,215.82L316.93,222.32M316.93,222.32L313.18,228.81M313.18,228.81L305.68,228.81M313.18,228.81L316.93,235.31M316.93,235.31L313.18,241.81M313.18,241.81L305.68,241.81M313.18,241.81L316.93,248.31M316.93,248.31L313.18,254.81M313.18,254.81L305.68,254.81M313.18,254.8L316.93,261.3M316.93,261.3L313.18,267.8M313.18,267.8L305.68,267.8M313.18,267.8L316.93,274.3M316.93,274.3L313.18,280.79M313.18,280.79L305.68,280.79M313.18,280.79L316.93,287.29M316.93,287.29L313.18,293.79M313.18,293.79L305.68,293.79M313.18,293.79L316.93,300.29M316.93,300.29L313.18,306.78M313.18,306.78L305.68,306.78M313.18,306.78L316.93,313.28M316.93,313.28L313.18,319.78M313.18,319.78L305.68,319.78M305.68,319.78L301.93,313.28M301.93,365.26L305.68,358.76M305.68,358.76L313.18,358.76M313.18,358.76L316.93,365.26M316.93,365.26L313.18,371.76M313.18,371.76L305.68,371.76M305.68,371.76L301.93,365.26M301.93,378.26L305.68,371.76M313.18,371.76L316.93,378.26M316.93,378.26L313.18,384.75M313.18,384.75L305.68,384.75M313.18,384.75L316.93,391.25M316.93,391.25L313.18,397.75M313.18,397.75L305.68,397.75M313.18,397.75L316.93,404.25M316.93,404.25L313.18,410.74M313.18,410.74L305.68,410.74M313.18,410.74L316.93,417.24M316.93,417.24L313.18,423.74M313.18,423.74L305.68,423.74M313.18,423.74L316.93,430.24M316.93,430.24L313.18,436.73M313.18,436.73L305.68,436.73M313.18,436.73L316.93,443.23M316.93,443.23L313.18,449.73M313.18,449.73L305.68,449.73M313.18,449.73L316.93,456.23M316.93,456.23L313.18,462.72M313.18,462.72L305.68,462.72M313.18,462.72L316.93,469.22M316.93,469.22L313.18,475.72M313.18,475.72L305.68,475.72M313.18,475.72L316.93,482.22M316.93,482.22L313.18,488.71M313.18,488.71L305.68,488.71M313.18,488.71L316.93,495.21M316.93,495.21L313.18,501.71M313.18,501.71L305.68,501.71M313.18,501.71L316.93,508.21M316.93,508.21L313.18,514.7M313.18,514.7L305.68,514.7M313.18,514.7L316.93,521.2M316.93,521.2L313.18,527.7M313.18,527.7L305.68,527.7M313.18,527.7L316.93,534.2M316.93,534.2L313.18,540.69M313.18,540.69L305.68,540.69M313.18,540.69L316.93,547.19M316.93,547.19L313.18,553.69M313.18,553.69L305.68,553.69M313.18,553.69L316.93,560.19M316.93,560.19L313.18,566.68M313.18,566.68L305.68,566.68M313.18,566.68L316.93,573.18M316.93,573.18L313.18,579.68M313.18,579.68L305.68,579.68M313.18,579.68L316.93,586.18M316.93,586.18L313.18,592.67M313.18,592.67L305.68,592.67M313.18,592.67L316.93,599.17M316.93,599.17L313.18,605.67M313.18,605.67L305.68,605.67M313.18,605.67L316.93,612.17M316.93,612.17L313.18,618.66M313.18,618.66L305.68,618.66M313.18,618.66L316.93,625.16M316.93,625.16L313.18,631.66M313.18,631.66L305.68,631.66M313.18,215.82L316.93,209.32M316.93,209.32L324.43,209.32M324.43,209.32L328.18,215.82M328.18,215.82L324.43,222.32M324.43,222.32L316.93,222.32M324.43,222.32L328.18,228.81M328.18,228.81L324.43,235.31M324.43,235.31L316.93,235.31M324.43,235.31L328.18,241.81M328.18,241.81L324.43,248.31M324.43,248.31L316.93,248.31M324.43,248.31L328.18,254.8M328.18,254.8L324.43,261.3M324.43,261.3L316.93,261.3M324.43,261.3L328.18,267.8M328.18,267.8L324.43,274.3M324.43,274.3L316.93,274.3M324.43,274.3L328.18,280.79M328.18,280.79L324.43,287.29M324.43,287.29L316.93,287.29M324.43,287.29L328.18,293.79M328.18,293.79L324.43,300.29M324.43,300.29L316.93,300.29M324.43,300.29L328.18,306.78M328.18,306.78L324.43,313.28M324.43,313.28L316.93,313.28M324.43,313.28L328.18,319.78M328.18,319.78L324.43,326.28M324.43,326.28L316.93,326.28M316.93,326.28L313.18,319.78M313.18,358.76L316.93,352.27M316.93,352.27L324.43,352.27M324.43,352.27L328.18,358.76M328.18,358.76L324.43,365.26M324.43,365.26L316.93,365.26M324.43,365.26L328.18,371.76M328.18,371.76L324.43,378.26M324.43,378.26L316.93,378.26M324.43,378.26L328.18,384.75M328.18,384.75L324.43,391.25M324.43,391.25L316.93,391.25M324.43,391.25L328.18,397.75M328.18,397.75L324.43,404.25M324.43,404.25L316.93,404.25M324.43,404.25L328.18,410.74M328.18,410.74L324.43,417.24M324.43,417.24L316.93,417.24M324.43,417.24L328.18,423.74M328.18,423.74L324.43,430.24M324.43,430.24L316.93,430.24M324.43,430.24L328.18,436.73M328.18,436.73L324.43,443.23M324.43,443.23L316.93,443.23M324.43,443.23L328.18,449.73M328.18,449.73L324.43,456.23M324.43,456.23L316.93,456.23M324.43,456.23L328.18,462.72M328.18,462.72L324.43,469.22M324.43,469.22L316.93,469.22M324.43,469.22L328.18,475.72M328.18,475.72L324.43,482.22M324.43,482.22L316.93,482.22M324.43,482.22L328.18,488.71M328.18,488.71L324.43,495.21M324.43,495.21L316.93,495.21M324.43,495.21L328.18,501.71M328.18,501.71L324.43,508.21M324.43,508.21L316.93,508.21M324.43,508.21L328.18,514.7M328.18,514.7L324.43,521.2M324.43,521.2L316.93,521.2M324.43,521.2L328.18,527.7M328.18,527.7L324.43,534.2M324.43,534.2L316.93,534.2M324.43,534.2L328.18,540.69M328.18,540.69L324.43,547.19M324.43,547.19L316.93,547.19M324.43,547.19L328.18,553.69M328.18,553.69L324.43,560.19M324.43,560.19L316.93,560.19M324.43,560.19L328.18,566.68M328.18,566.68L324.43,573.18M324.43,573.18L316.93,573.18M324.43,573.18L328.18,579.68M328.18,579.68L324.43,586.18M324.43,586.18L316.93,586.18M324.43,586.18L328.18,592.67M328.18,592.67L324.43,599.17M324.43,599.17L316.93,599.17M324.43,599.17L328.18,605.67M328.18,605.67L324.43,612.17M324.43,612.17L316.93,612.17M324.43,612.17L328.18,618.66M328.18,618.66L324.43,625.16M324.43,625.16L316.93,625.16M328.18,215.82L335.68,215.82M335.68,215.82L339.43,222.32M339.43,222.32L335.68,228.81M335.68,228.81L328.18,228.81M335.68,228.81L339.43,235.31M339.43,235.31L335.68,241.81M335.68,241.81L328.18,241.81M335.68,241.81L339.43,248.31M339.43,248.31L335.68,254.81M335.68,254.81L328.18,254.81M335.68,254.8L339.43,261.3M339.43,261.3L335.68,267.8M335.68,267.8L328.18,267.8M335.68,267.8L339.43,274.3M339.43,274.3L335.68,280.79M335.68,280.79L328.18,280.79M335.68,280.79L339.43,287.29M339.43,287.29L335.68,293.79M335.68,293.79L328.18,293.79M335.68,293.79L339.43,300.29M339.43,300.29L335.68,306.78M335.68,306.78L328.18,306.78M335.68,306.78L339.43,313.28M339.43,313.28L335.68,319.78M335.68,319.78L328.18,319.78M335.68,319.78L339.43,326.28M339.43,326.28L335.68,332.77M335.68,332.77L328.18,332.77M328.18,332.77L324.43,326.28M324.43,339.27L328.18,332.77M335.68,332.77L339.43,339.27M339.43,339.27L335.68,345.77M335.68,345.77L328.18,345.77M328.18,345.77L324.43,339.27M324.43,352.27L328.18,345.77M335.68,345.77L339.43,352.27M339.43,352.27L335.68,358.76M335.68,358.76L328.18,358.76M335.68,358.76L339.43,365.26M339.43,365.26L335.68,371.76M335.68,371.76L328.18,371.76M335.68,371.76L339.43,378.26M339.43,378.26L335.68,384.75M335.68,384.75L328.18,384.75M335.68,384.75L339.43,391.25M339.43,391.25L335.68,397.75M335.68,397.75L328.18,397.75M335.68,397.75L339.43,404.25M339.43,404.25L335.68,410.74M335.68,410.74L328.18,410.74M335.68,410.74L339.43,417.24M339.43,417.24L335.68,423.74M335.68,423.74L328.18,423.74M335.68,423.74L339.43,430.24M339.43,430.24L335.68,436.73M335.68,436.73L328.18,436.73M335.68,436.73L339.43,443.23M339.43,443.23L335.68,449.73M335.68,449.73L328.18,449.73M335.68,449.73L339.43,456.23M339.43,456.23L335.68,462.72M335.68,462.72L328.18,462.72M335.68,462.72L339.43,469.22M339.43,469.22L335.68,475.72M335.68,475.72L328.18,475.72M335.68,475.72L339.43,482.22M339.43,482.22L335.68,488.71M335.68,488.71L328.18,488.71M335.68,488.71L339.43,495.21M339.43,495.21L335.68,501.71M335.68,501.71L328.18,501.71M335.68,501.71L339.43,508.21M339.43,508.21L335.68,514.7M335.68,514.7L328.18,514.7M335.68,514.7L339.43,521.2M339.43,521.2L335.68,527.7M335.68,527.7L328.18,527.7M335.68,527.7L339.43,534.2M339.43,534.2L335.68,540.69M335.68,540.69L328.18,540.69M335.68,540.69L339.43,547.19M339.43,547.19L335.68,553.69M335.68,553.69L328.18,553.69M335.68,553.69L339.43,560.19M339.43,560.19L335.68,566.68M335.68,566.68L328.18,566.68M335.68,566.68L339.43,573.18M339.43,573.18L335.68,579.68M335.68,579.68L328.18,579.68M335.68,579.68L339.43,586.18M339.43,586.18L335.68,592.67M335.68,592.67L328.18,592.67M335.68,592.67L339.43,599.17M339.43,599.17L335.68,605.67M335.68,605.67L328.18,605.67M335.68,605.67L339.43,612.17M339.43,612.17L335.68,618.66M335.68,618.66L328.18,618.66M335.68,215.82L339.43,209.32M339.43,209.32L346.93,209.32M346.93,209.32L350.68,215.82M350.68,215.82L346.93,222.32M346.93,222.32L339.43,222.32M346.93,222.32L350.68,228.81M350.68,228.81L346.93,235.31M346.93,235.31L339.43,235.31M346.93,235.31L350.68,241.81M350.68,241.81L346.93,248.31M346.93,248.31L339.43,248.31M346.93,248.31L350.68,254.8M350.68,254.8L346.93,261.3M346.93,261.3L339.43,261.3M346.93,261.3L350.68,267.8M350.68,267.8L346.93,274.3M346.93,274.3L339.43,274.3M346.93,274.3L350.68,280.79M350.68,280.79L346.93,287.29M346.93,287.29L339.43,287.29M346.93,287.29L350.68,293.79M350.68,293.79L346.93,300.29M346.93,300.29L339.43,300.29M346.93,300.29L350.68,306.78M350.68,306.78L346.93,313.28M346.93,313.28L339.43,313.28M346.93,313.28L350.68,319.78M350.68,319.78L346.93,326.28M346.93,326.28L339.43,326.28M346.93,326.28L350.68,332.77M350.68,332.77L346.93,339.27M346.93,339.27L339.43,339.27M346.93,339.27L350.68,345.77M350.68,345.77L346.93,352.27M346.93,352.27L339.43,352.27M346.93,352.27L350.68,358.76M350.68,358.76L346.93,365.26M346.93,365.26L339.43,365.26M346.93,365.26L350.68,371.76M350.68,371.76L346.93,378.26M346.93,378.26L339.43,378.26M346.93,378.26L350.68,384.75M350.68,384.75L346.93,391.25M346.93,391.25L339.43,391.25M346.93,391.25L350.68,397.75M350.68,397.75L346.93,404.25M346.93,404.25L339.43,404.25M346.93,404.25L350.68,410.74M350.68,410.74L346.93,417.24M346.93,417.24L339.43,417.24M346.93,417.24L350.68,423.74M350.68,423.74L346.93,430.24M346.93,430.24L339.43,430.24M346.93,430.24L350.68,436.73M350.68,436.73L346.93,443.23M346.93,443.23L339.43,443.23M346.93,443.23L350.68,449.73M350.68,449.73L346.93,456.23M346.93,456.23L339.43,456.23M346.93,456.23L350.68,462.72M350.68,462.72L346.93,469.22M346.93,469.22L339.43,469.22M346.93,469.22L350.68,475.72M350.68,475.72L346.93,482.22M346.93,482.22L339.43,482.22M346.93,482.22L350.68,488.71M350.68,488.71L346.93,495.21M346.93,495.21L339.43,495.21M346.93,495.21L350.68,501.71M350.68,501.71L346.93,508.21M346.93,508.21L339.43,508.21M346.93,508.21L350.68,514.7M350.68,514.7L346.93,521.2M346.93,521.2L339.43,521.2M346.93,521.2L350.68,527.7M350.68,527.7L346.93,534.2M346.93,534.2L339.43,534.2M346.93,534.2L350.68,540.69M350.68,540.69L346.93,547.19M346.93,547.19L339.43,547.19M346.93,547.19L350.68,553.69M350.68,553.69L346.93,560.19M346.93,560.19L339.43,560.19M346.93,560.19L350.68,566.68M350.68,566.68L346.93,573.18M346.93,573.18L339.43,573.18M346.93,573.18L350.68,579.68M350.68,579.68L346.93,586.18M346.93,586.18L339.43,586.18M346.93,586.18L350.68,592.67M350.68,592.67L346.93,599.17M346.93,599.17L339.43,599.17M346.93,599.17L350.68,605.67M350.68,605.67L346.93,612.17M346.93,612.17L339.43,612.17M346.93,612.17L350.68,618.66M350.68,618.66L346.93,625.16M346.93,625.16L339.43,625.16M339.43,625.16L335.68,618.66M350.68,215.82L358.18,215.82M358.18,215.82L361.93,222.32M361.93,222.32L358.18,228.81M358.18,228.81L350.68,228.81M358.18,228.81L361.93,235.31M361.93,235.31L358.18,241.81M358.18,241.81L350.68,241.81M358.18,241.81L361.93,248.31M361.93,248.31L358.18,254.81M358.18,254.81L350.68,254.81M358.18,254.8L361.93,261.3M361.93,261.3L358.18,267.8M358.18,267.8L350.68,267.8M358.18,267.8L361.93,274.3M361.93,274.3L358.18,280.79M358.18,280.79L350.68,280.79M358.18,280.79L361.93,287.29M361.93,287.29L358.18,293.79M358.18,293.79L350.68,293.79M358.18,293.79L361.93,300.29M361.93,300.29L358.18,306.78M358.18,306.78L350.68,306.78M358.18,306.78L361.93,313.28M361.93,313.28L358.18,319.78M358.18,319.78L350.68,319.78M358.18,319.78L361.93,326.28M361.93,326.28L358.18,332.77M358.18,332.77L350.68,332.77M358.18,332.77L361.93,339.27M361.93,339.27L358.18,345.77M358.18,345.77L350.68,345.77M358.18,345.77L361.93,352.27M361.93,352.27L358.18,358.76M358.18,358.76L350.68,358.76M358.18,358.76L361.93,365.26M361.93,365.26L358.18,371.76M358.18,371.76L350.68,371.76M358.18,371.76L361.93,378.26M361.93,378.26L358.18,384.75M358.18,384.75L350.68,384.75M358.18,384.75L361.93,391.25M361.93,391.25L358.18,397.75M358.18,397.75L350.68,397.75M358.18,397.75L361.93,404.25M361.93,404.25L358.18,410.74M358.18,410.74L350.68,410.74M358.18,410.74L361.93,417.24M361.93,417.24L358.18,423.74M358.18,423.74L350.68,423.74M358.18,423.74L361.93,430.24M361.93,430.24L358.18,436.73M358.18,436.73L350.68,436.73M358.18,436.73L361.93,443.23M361.93,443.23L358.18,449.73M358.18,449.73L350.68,449.73M358.18,449.73L361.93,456.23M361.93,456.23L358.18,462.72M358.18,462.72L350.68,462.72M358.18,462.72L361.93,469.22M361.93,469.22L358.18,475.72M358.18,475.72L350.68,475.72M358.18,475.72L361.93,482.22M361.93,482.22L358.18,488.71M358.18,488.71L350.68,488.71M358.18,488.71L361.93,495.21M361.93,495.21L358.18,501.71M358.18,501.71L350.68,501.71M358.18,501.71L361.93,508.21M361.93,508.21L358.18,514.7M358.18,514.7L350.68,514.7M358.18,514.7L361.93,521.2M361.93,521.2L358.18,527.7M358.18,527.7L350.68,527.7M358.18,527.7L361.93,534.2M361.93,534.2L358.18,540.69M358.18,540.69L350.68,540.69M358.18,540.69L361.93,547.19M361.93,547.19L358.18,553.69M358.18,553.69L350.68,553.69M358.18,553.69L361.93,560.19M361.93,560.19L358.18,566.68M358.18,566.68L350.68,566.68M358.18,566.68L361.93,573.18M361.93,573.18L358.18,579.68M358.18,579.68L350.68,579.68M358.18,579.68L361.93,586.18M361.93,586.18L358.18,592.67M358.18,592.67L350.68,592.67M358.18,592.67L361.93,599.17M361.93,599.17L358.18,605.67M358.18,605.67L350.68,605.67M358.18,605.67L361.93,612.17M361.93,612.17L358.18,618.66M358.18,618.66L350.68,618.66M358.18,215.82L361.93,209.32M361.93,209.32L369.43,209.32M369.43,209.32L373.18,215.82M373.18,215.82L369.43,222.32M369.43,222.32L361.93,222.32M369.43,222.32L373.18,228.81M373.18,228.81L369.43,235.31M369.43,235.31L361.93,235.31M369.43,235.31L373.18,241.81M373.18,241.81L369.43,248.31M369.43,248.31L361.93,248.31M369.43,248.31L373.18,254.8M373.18,254.8L369.43,261.3M369.43,261.3L361.93,261.3M369.43,261.3L373.18,267.8M373.18,267.8L369.43,274.3M369.43,274.3L361.93,274.3M369.43,274.3L373.18,280.79M373.18,280.79L369.43,287.29M369.43,287.29L361.93,287.29M369.43,287.29L373.18,293.79M373.18,293.79L369.43,300.29M369.43,300.29L361.93,300.29M369.43,300.29L373.18,306.78M373.18,306.78L369.43,313.28M369.43,313.28L361.93,313.28M369.43,313.28L373.18,319.78M373.18,319.78L369.43,326.28M369.43,326.28L361.93,326.28M369.43,326.28L373.18,332.77M373.18,332.77L369.43,339.27M369.43,339.27L361.93,339.27M369.43,339.27L373.18,345.77M373.18,345.77L369.43,352.27M369.43,352.27L361.93,352.27M369.43,352.27L373.18,358.76M373.18,358.76L369.43,365.26M369.43,365.26L361.93,365.26M369.43,365.26L373.18,371.76M373.18,371.76L369.43,378.26M369.43,378.26L361.93,378.26M369.43,378.26L373.18,384.75M373.18,384.75L369.43,391.25M369.43,391.25L361.93,391.25M369.43,391.25L373.18,397.75M373.18,397.75L369.43,404.25M369.43,404.25L361.93,404.25M369.43,404.25L373.18,410.74M373.18,410.74L369.43,417.24M369.43,417.24L361.93,417.24M369.43,417.24L373.18,423.74M373.18,423.74L369.43,430.24M369.43,430.24L361.93,430.24M369.43,430.24L373.18,436.73M373.18,436.73L369.43,443.23M369.43,443.23L361.93,443.23M369.43,443.23L373.18,449.73M373.18,449.73L369.43,456.23M369.43,456.23L361.93,456.23M369.43,456.23L373.18,462.72M373.18,462.72L369.43,469.22M369.43,469.22L361.93,469.22M369.43,469.22L373.18,475.72M373.18,475.72L369.43,482.22M369.43,482.22L361.93,482.22M369.43,482.22L373.18,488.71M373.18,488.71L369.43,495.21M369.43,495.21L361.93,495.21M369.43,495.21L373.18,501.71M373.18,501.71L369.43,508.21M369.43,508.21L361.93,508.21M369.43,508.21L373.18,514.7M373.18,514.7L369.43,521.2M369.43,521.2L361.93,521.2M369.43,521.2L373.18,527.7M373.18,527.7L369.43,534.2M369.43,534.2L361.93,534.2M369.43,534.2L373.18,540.69M373.18,540.69L369.43,547.19M369.43,547.19L361.93,547.19M369.43,547.19L373.18,553.69M373.18,553.69L369.43,560.19M369.43,560.19L361.93,560.19M369.43,560.19L373.18,566.68M373.18,566.68L369.43,573.18M369.43,573.18L361.93,573.18M369.43,573.18L373.18,579.68M373.18,579.68L369.43,586.18M369.43,586.18L361.93,586.18M369.43,586.18L373.18,592.67M373.18,592.67L369.43,599.17M369.43,599.17L361.93,599.17M369.43,599.17L373.18,605.67M373.18,605.67L369.43,612.17M369.43,612.17L361.93,612.17M369.43,612.17L373.18,618.66M373.18,618.66L369.43,625.16M369.43,625.16L361.93,625.16M361.93,625.16L358.18,618.66M373.18,215.82L380.68,215.82M380.68,215.82L384.43,222.32M384.43,222.32L380.68,228.81M380.68,228.81L373.18,228.81M380.68,228.81L384.43,235.31M384.43,235.31L380.68,241.81M380.68,241.81L373.18,241.81M380.68,241.81L384.43,248.31M384.43,248.31L380.68,254.81M380.68,254.81L373.18,254.81M380.68,254.8L384.43,261.3M384.43,261.3L380.68,267.8M380.68,267.8L373.18,267.8M380.68,267.8L384.43,274.3M384.43,274.3L380.68,280.79M380.68,280.79L373.18,280.79M380.68,280.79L384.43,287.29M384.43,287.29L380.68,293.79M380.68,293.79L373.18,293.79M380.68,293.79L384.43,300.29M384.43,300.29L380.68,306.78M380.68,306.78L373.18,306.78M380.68,306.78L384.43,313.28M384.43,313.28L380.68,319.78M380.68,319.78L373.18,319.78M380.68,319.78L384.43,326.28M384.43,326.28L380.68,332.77M380.68,332.77L373.18,332.77M380.68,332.77L384.43,339.27M384.43,339.27L380.68,345.77M380.68,345.77L373.18,345.77M380.68,345.77L384.43,352.27M384.43,352.27L380.68,358.76M380.68,358.76L373.18,358.76M380.68,358.76L384.43,365.26M384.43,365.26L380.68,371.76M380.68,371.76L373.18,371.76M380.68,371.76L384.43,378.26M384.43,378.26L380.68,384.75M380.68,384.75L373.18,384.75M380.68,384.75L384.43,391.25M384.43,391.25L380.68,397.75M380.68,397.75L373.18,397.75M380.68,397.75L384.43,404.25M384.43,404.25L380.68,410.74M380.68,410.74L373.18,410.74M380.68,410.74L384.43,417.24M384.43,417.24L380.68,423.74M380.68,423.74L373.18,423.74M380.68,423.74L384.43,430.24M384.43,430.24L380.68,436.73M380.68,436.73L373.18,436.73M380.68,436.73L384.43,443.23M384.43,443.23L380.68,449.73M380.68,449.73L373.18,449.73M380.68,449.73L384.43,456.23M384.43,456.23L380.68,462.72M380.68,462.72L373.18,462.72M380.68,462.72L384.43,469.22M384.43,469.22L380.68,475.72M380.68,475.72L373.18,475.72M380.68,475.72L384.43,482.22M384.43,482.22L380.68,488.71M380.68,488.71L373.18,488.71M380.68,488.71L384.43,495.21M384.43,495.21L380.68,501.71M380.68,501.71L373.18,501.71M380.68,501.71L384.43,508.21M384.43,508.21L380.68,514.7M380.68,514.7L373.18,514.7M380.68,514.7L384.43,521.2M384.43,521.2L380.68,527.7M380.68,527.7L373.18,527.7M380.68,527.7L384.43,534.2M384.43,534.2L380.68,540.69M380.68,540.69L373.18,540.69M380.68,540.69L384.43,547.19M384.43,547.19L380.68,553.69M380.68,553.69L373.18,553.69M380.68,553.69L384.43,560.19M384.43,560.19L380.68,566.68M380.68,566.68L373.18,566.68M380.68,566.68L384.43,573.18M384.43,573.18L380.68,579.68M380.68,579.68L373.18,579.68M380.68,579.68L384.43,586.18M384.43,586.18L380.68,592.67M380.68,592.67L373.18,592.67M380.68,592.67L384.43,599.17M384.43,599.17L380.68,605.67M380.68,605.67L373.18,605.67M380.68,605.67L384.43,612.17M384.43,612.17L380.68,618.66M380.68,618.66L373.18,618.66M380.68,215.82L384.43,209.32M384.43,209.32L391.93,209.32M391.93,209.32L395.68,215.82M395.68,215.82L391.93,222.32M391.93,222.32L384.43,222.32M391.93,222.32L395.68,228.81M395.68,228.81L391.93,235.31M391.93,235.31L384.43,235.31M391.93,235.31L395.68,241.81M395.68,241.81L391.93,248.31M391.93,248.31L384.43,248.31M391.93,248.31L395.68,254.8M395.68,254.8L391.93,261.3M391.93,261.3L384.43,261.3M391.93,261.3L395.68,267.8M395.68,267.8L391.93,274.3M391.93,274.3L384.43,274.3M391.93,274.3L395.68,280.79M395.68,280.79L391.93,287.29M391.93,287.29L384.43,287.29M391.93,287.29L395.68,293.79M395.68,293.79L391.93,300.29M391.93,300.29L384.43,300.29M391.93,300.29L395.68,306.78M395.68,306.78L391.93,313.28M391.93,313.28L384.43,313.28M391.93,313.28L395.68,319.78M395.68,319.78L391.93,326.28M391.93,326.28L384.43,326.28M391.93,326.28L395.68,332.77M395.68,332.77L391.93,339.27M391.93,339.27L384.43,339.27M391.93,339.27L395.68,345.77M395.68,345.77L391.93,352.27M391.93,352.27L384.43,352.27M391.93,352.27L395.68,358.76M395.68,358.76L391.93,365.26M391.93,365.26L384.43,365.26M391.93,365.26L395.68,371.76M395.68,371.76L391.93,378.26M391.93,378.26L384.43,378.26M391.93,378.26L395.68,384.75M395.68,384.75L391.93,391.25M391.93,391.25L384.43,391.25M391.93,391.25L395.68,397.75M395.68,397.75L391.93,404.25M391.93,404.25L384.43,404.25M391.93,404.25L395.68,410.74M395.68,410.74L391.93,417.24M391.93,417.24L384.43,417.24M391.93,417.24L395.68,423.74M395.68,423.74L391.93,430.24M391.93,430.24L384.43,430.24M391.93,430.24L395.68,436.73M395.68,436.73L391.93,443.23M391.93,443.23L384.43,443.23M391.93,443.23L395.68,449.73M395.68,449.73L391.93,456.23M391.93,456.23L384.43,456.23M391.93,456.23L395.68,462.72M395.68,462.72L391.93,469.22M391.93,469.22L384.43,469.22M391.93,469.22L395.68,475.72M395.68,475.72L391.93,482.22M391.93,482.22L384.43,482.22M391.93,482.22L395.68,488.71M395.68,488.71L391.93,495.21M391.93,495.21L384.43,495.21M391.93,495.21L395.68,501.71M395.68,501.71L391.93,508.21M391.93,508.21L384.43,508.21M391.93,508.21L395.68,514.7M395.68,514.7L391.93,521.2M391.93,521.2L384.43,521.2M391.93,521.2L395.68,527.7M395.68,527.7L391.93,534.2M391.93,534.2L384.43,534.2M391.93,534.2L395.68,540.69M395.68,540.69L391.93,547.19M391.93,547.19L384.43,547.19M391.93,547.19L395.68,553.69M395.68,553.69L391.93,560.19M391.93,560.19L384.43,560.19M391.93,560.19L395.68,566.68M395.68,566.68L391.93,573.18M391.93,573.18L384.43,573.18M391.93,573.18L395.68,579.68M395.68,579.68L391.93,586.18M391.93,586.18L384.43,586.18M391.93,586.18L395.68,592.67M395.68,592.67L391.93,599.17M391.93,599.17L384.43,599.17M391.93,599.17L395.68,605.67M395.68,605.67L391.93,612.17M391.93,612.17L384.43,612.17M391.93,612.17L395.68,618.66M395.68,618.66L391.93,625.16M391.93,625.16L384.43,625.16M384.43,625.16L380.68,618.66M391.93,196.33L395.68,189.83M395.68,189.83L403.18,189.83M403.18,189.83L406.93,196.33M406.93,196.33L403.18,202.82M403.18,202.82L395.68,202.82M395.68,202.82L391.93,196.33M391.93,209.32L395.68,202.82M403.18,202.82L406.93,209.32M406.93,209.32L403.18,215.82M403.18,215.82L395.68,215.82M403.18,215.82L406.93,222.32M406.93,222.32L403.18,228.81M403.18,228.81L395.68,228.81M403.18,228.81L406.93,235.31M406.93,235.31L403.18,241.81M403.18,241.81L395.68,241.81M403.18,241.81L406.93,248.31M406.93,248.31L403.18,254.81M403.18,254.81L395.68,254.81M403.18,254.8L406.93,261.3M406.93,261.3L403.18,267.8M403.18,267.8L395.68,267.8M403.18,267.8L406.93,274.3M406.93,274.3L403.18,280.79M403.18,280.79L395.68,280.79M403.18,280.79L406.93,287.29M406.93,287.29L403.18,293.79M403.18,293.79L395.68,293.79M403.18,293.79L406.93,300.29M406.93,300.29L403.18,306.78M403.18,306.78L395.68,306.78M403.18,306.78L406.93,313.28M406.93,313.28L403.18,319.78M403.18,319.78L395.68,319.78M403.18,319.78L406.93,326.28M406.93,326.28L403.18,332.77M403.18,332.77L395.68,332.77M403.18,332.77L406.93,339.27M406.93,339.27L403.18,345.77M403.18,345.77L395.68,345.77M403.18,345.77L406.93,352.27M406.93,352.27L403.18,358.76M403.18,358.76L395.68,358.76M403.18,358.76L406.93,365.26M406.93,365.26L403.18,371.76M403.18,371.76L395.68,371.76M403.18,371.76L406.93,378.26M406.93,378.26L403.18,384.75M403.18,384.75L395.68,384.75M403.18,384.75L406.93,391.25M406.93,391.25L403.18,397.75M403.18,397.75L395.68,397.75M403.18,397.75L406.93,404.25M406.93,404.25L403.18,410.74M403.18,410.74L395.68,410.74M403.18,410.74L406.93,417.24M406.93,417.24L403.18,423.74M403.18,423.74L395.68,423.74M403.18,423.74L406.93,430.24M406.93,430.24L403.18,436.73M403.18,436.73L395.68,436.73M403.18,436.73L406.93,443.23M406.93,443.23L403.18,449.73M403.18,449.73L395.68,449.73M403.18,449.73L406.93,456.23M406.93,456.23L403.18,462.72M403.18,462.72L395.68,462.72M403.18,462.72L406.93,469.22M406.93,469.22L403.18,475.72M403.18,475.72L395.68,475.72M403.18,475.72L406.93,482.22M406.93,482.22L403.18,488.71M403.18,488.71L395.68,488.71M403.18,488.71L406.93,495.21M406.93,495.21L403.18,501.71M403.18,501.71L395.68,501.71M403.18,501.71L406.93,508.21M406.93,508.21L403.18,514.7M403.18,514.7L395.68,514.7M403.18,514.7L406.93,521.2M406.93,521.2L403.18,527.7M403.18,527.7L395.68,527.7M403.18,527.7L406.93,534.2M406.93,534.2L403.18,540.69M403.18,540.69L395.68,540.69M403.18,540.69L406.93,547.19M406.93,547.19L403.18,553.69M403.18,553.69L395.68,553.69M403.18,553.69L406.93,560.19M406.93,560.19L403.18,566.68M403.18,566.68L395.68,566.68M403.18,566.68L406.93,573.18M406.93,573.18L403.18,579.68M403.18,579.68L395.68,579.68M403.18,579.68L406.93,586.18M406.93,586.18L403.18,592.67M403.18,592.67L395.68,592.67M403.18,592.67L406.93,599.17M406.93,599.17L403.18,605.67M403.18,605.67L395.68,605.67M403.18,605.67L406.93,612.17M406.93,612.17L403.18,618.66M403.18,618.66L395.68,618.66M403.18,189.83L406.93,183.33M406.93,183.33L414.43,183.33M414.43,183.33L418.18,189.83M418.18,189.83L414.43,196.33M414.43,196.33L406.93,196.33M414.43,196.33L418.18,202.82M418.18,202.82L414.43,209.32M414.43,209.32L406.93,209.32M414.43,209.32L418.18,215.82M418.18,215.82L414.43,222.32M414.43,222.32L406.93,222.32M414.43,222.32L418.18,228.81M418.18,228.81L414.43,235.31M414.43,235.31L406.93,235.31M414.43,235.31L418.18,241.81M418.18,241.81L414.43,248.31M414.43,248.31L406.93,248.31M414.43,248.31L418.18,254.8M418.18,254.8L414.43,261.3M414.43,261.3L406.93,261.3M414.43,261.3L418.18,267.8M418.18,267.8L414.43,274.3M414.43,274.3L406.93,274.3M414.43,274.3L418.18,280.79M418.18,280.79L414.43,287.29M414.43,287.29L406.93,287.29M414.43,287.29L418.18,293.79M418.18,293.79L414.43,300.29M414.43,300.29L406.93,300.29M414.43,300.29L418.18,306.78M418.18,306.78L414.43,313.28M414.43,313.28L406.93,313.28M414.43,313.28L418.18,319.78M418.18,319.78L414.43,326.28M414.43,326.28L406.93,326.28M414.43,326.28L418.18,332.77M418.18,332.77L414.43,339.27M414.43,339.27L406.93,339.27M414.43,339.27L418.18,345.77M418.18,345.77L414.43,352.27M414.43,352.27L406.93,352.27M414.43,352.27L418.18,358.76M418.18,358.76L414.43,365.26M414.43,365.26L406.93,365.26M414.43,365.26L418.18,371.76M418.18,371.76L414.43,378.26M414.43,378.26L406.93,378.26M414.43,378.26L418.18,384.75M418.18,384.75L414.43,391.25M414.43,391.25L406.93,391.25M414.43,391.25L418.18,397.75M418.18,397.75L414.43,404.25M414.43,404.25L406.93,404.25M414.43,404.25L418.18,410.74M418.18,410.74L414.43,417.24M414.43,417.24L406.93,417.24M414.43,417.24L418.18,423.74M418.18,423.74L414.43,430.24M414.43,430.24L406.93,430.24M414.43,430.24L418.18,436.73M418.18,436.73L414.43,443.23M414.43,443.23L406.93,443.23M414.43,443.23L418.18,449.73M418.18,449.73L414.43,456.23M414.43,456.23L406.93,456.23M414.43,456.23L418.18,462.72M418.18,462.72L414.43,469.22M414.43,469.22L406.93,469.22M414.43,469.22L418.18,475.72M418.18,475.72L414.43,482.22M414.43,482.22L406.93,482.22M414.43,482.22L418.18,488.71M418.18,488.71L414.43,495.21M414.43,495.21L406.93,495.21M414.43,495.21L418.18,501.71M418.18,501.71L414.43,508.21M414.43,508.21L406.93,508.21M414.43,508.21L418.18,514.7M418.18,514.7L414.43,521.2M414.43,521.2L406.93,521.2M414.43,521.2L418.18,527.7M418.18,527.7L414.43,534.2M414.43,534.2L406.93,534.2M414.43,534.2L418.18,540.69M418.18,540.69L414.43,547.19M414.43,547.19L406.93,547.19M414.43,547.19L418.18,553.69M418.18,553.69L414.43,560.19M414.43,560.19L406.93,560.19M414.43,560.19L418.18,566.68M418.18,566.68L414.43,573.18M414.43,573.18L406.93,573.18M414.43,573.18L418.18,579.68M418.18,579.68L414.43,586.18M414.43,586.18L406.93,586.18M414.43,586.18L418.18,592.67M418.18,592.67L414.43,599.17M414.43,599.17L406.93,599.17M414.43,599.17L418.18,605.67M418.18,605.67L414.43,612.17M414.43,612.17L406.93,612.17M414.43,612.17L418.18,618.66M418.18,618.66L414.43,625.16M414.43,625.16L406.93,625.16M406.93,625.16L403.18,618.66M414.43,183.33L418.18,176.84M418.18,176.84L425.68,176.84M425.68,176.84L429.43,183.33M429.43,183.33L425.68,189.83M425.68,189.83L418.18,189.83M425.68,189.83L429.43,196.33M429.43,196.33L425.68,202.82M425.68,202.82L418.18,202.82M425.68,202.82L429.43,209.32M429.43,209.32L425.68,215.82M425.68,215.82L418.18,215.82M425.68,215.82L429.43,222.32M429.43,222.32L425.68,228.81M425.68,228.81L418.18,228.81M425.68,228.81L429.43,235.31M429.43,235.31L425.68,241.81M425.68,241.81L418.18,241.81M425.68,241.81L429.43,248.31M429.43,248.31L425.68,254.81M425.68,254.81L418.18,254.81M425.68,254.8L429.43,261.3M429.43,261.3L425.68,267.8M425.68,267.8L418.18,267.8M425.68,267.8L429.43,274.3M429.43,274.3L425.68,280.79M425.68,280.79L418.18,280.79M425.68,280.79L429.43,287.29M429.43,287.29L425.68,293.79M425.68,293.79L418.18,293.79M425.68,293.79L429.43,300.29M429.43,300.29L425.68,306.78M425.68,306.78L418.18,306.78M425.68,306.78L429.43,313.28M429.43,313.28L425.68,319.78M425.68,319.78L418.18,319.78M425.68,319.78L429.43,326.28M429.43,326.28L425.68,332.77M425.68,332.77L418.18,332.77M425.68,332.77L429.43,339.27M429.43,339.27L425.68,345.77M425.68,345.77L418.18,345.77M425.68,345.77L429.43,352.27M429.43,352.27L425.68,358.76M425.68,358.76L418.18,358.76M425.68,358.76L429.43,365.26M429.43,365.26L425.68,371.76M425.68,371.76L418.18,371.76M425.68,371.76L429.43,378.26M429.43,378.26L425.68,384.75M425.68,384.75L418.18,384.75M425.68,384.75L429.43,391.25M429.43,391.25L425.68,397.75M425.68,397.75L418.18,397.75M425.68,397.75L429.43,404.25M429.43,404.25L425.68,410.74M425.68,410.74L418.18,410.74M425.68,410.74L429.43,417.24M429.43,417.24L425.68,423.74M425.68,423.74L418.18,423.74M425.68,423.74L429.43,430.24M429.43,430.24L425.68,436.73M425.68,436.73L418.18,436.73M425.68,436.73L429.43,443.23M429.43,443.23L425.68,449.73M425.68,449.73L418.18,449.73M425.68,449.73L429.43,456.23M429.43,456.23L425.68,462.72M425.68,462.72L418.18,462.72M425.68,462.72L429.43,469.22M429.43,469.22L425.68,475.72M425.68,475.72L418.18,475.72M425.68,475.72L429.43,482.22M429.43,482.22L425.68,488.71M425.68,488.71L418.18,488.71M425.68,488.71L429.43,495.21M429.43,495.21L425.68,501.71M425.68,501.71L418.18,501.71M425.68,501.71L429.43,508.21M429.43,508.21L425.68,514.7M425.68,514.7L418.18,514.7M425.68,514.7L429.43,521.2M429.43,521.2L425.68,527.7M425.68,527.7L418.18,527.7M425.68,527.7L429.43,534.2M429.43,534.2L425.68,540.69M425.68,540.69L418.18,540.69M425.68,540.69L429.43,547.19M429.43,547.19L425.68,553.69M425.68,553.69L418.18,553.69M425.68,553.69L429.43,560.19M429.43,560.19L425.68,566.68M425.68,566.68L418.18,566.68M425.68,566.68L429.43,573.18M429.43,573.18L425.68,579.68M425.68,579.68L418.18,579.68M425.68,579.68L429.43,586.18M429.43,586.18L425.68,592.67M425.68,592.67L418.18,592.67M425.68,592.67L429.43,599.17M429.43,599.17L425.68,605.67M425.68,605.67L418.18,605.67M425.68,605.67L429.43,612.17M429.43,612.17L425.68,618.66M425.68,618.66L418.18,618.66M425.68,163.84L429.43,157.34M429.43,157.34L436.93,157.34M436.93,157.34L440.68,163.84M440.68,163.84L436.93,170.34M436.93,170.34L429.43,170.34M429.43,170.34L425.68,163.84M425.68,176.84L429.43,170.34M436.93,170.34L440.68,176.84M440.68,176.84L436.93,183.33M436.93,183.33L429.43,183.33M436.93,183.33L440.68,189.83M440.68,189.83L436.93,196.33M436.93,196.33L429.43,196.33M436.93,196.33L440.68,202.82M440.68,202.82L436.93,209.32M436.93,209.32L429.43,209.32M436.93,209.32L440.68,215.82M440.68,215.82L436.93,222.32M436.93,222.32L429.43,222.32M436.93,222.32L440.68,228.81M440.68,228.81L436.93,235.31M436.93,235.31L429.43,235.31M436.93,235.31L440.68,241.81M440.68,241.81L436.93,248.31M436.93,248.31L429.43,248.31M436.93,248.31L440.68,254.8M440.68,254.8L436.93,261.3M436.93,261.3L429.43,261.3M436.93,261.3L440.68,267.8M440.68,267.8L436.93,274.3M436.93,274.3L429.43,274.3M436.93,274.3L440.68,280.79M440.68,280.79L436.93,287.29M436.93,287.29L429.43,287.29M436.93,287.29L440.68,293.79M440.68,293.79L436.93,300.29M436.93,300.29L429.43,300.29M436.93,300.29L440.68,306.78M440.68,306.78L436.93,313.28M436.93,313.28L429.43,313.28M436.93,313.28L440.68,319.78M440.68,319.78L436.93,326.28M436.93,326.28L429.43,326.28M436.93,326.28L440.68,332.77M440.68,332.77L436.93,339.27M436.93,339.27L429.43,339.27M436.93,339.27L440.68,345.77M440.68,345.77L436.93,352.27M436.93,352.27L429.43,352.27M436.93,352.27L440.68,358.76M440.68,358.76L436.93,365.26M436.93,365.26L429.43,365.26M436.93,365.26L440.68,371.76M440.68,371.76L436.93,378.26M436.93,378.26L429.43,378.26M436.93,378.26L440.68,384.75M440.68,384.75L436.93,391.25M436.93,391.25L429.43,391.25M436.93,391.25L440.68,397.75M440.68,397.75L436.93,404.25M436.93,404.25L429.43,404.25M436.93,404.25L440.68,410.74M440.68,410.74L436.93,417.24M436.93,417.24L429.43,417.24M436.93,417.24L440.68,423.74M440.68,423.74L436.93,430.24M436.93,430.24L429.43,430.24M436.93,430.24L440.68,436.73M440.68,436.73L436.93,443.23M436.93,443.23L429.43,443.23M436.93,443.23L440.68,449.73M440.68,449.73L436.93,456.23M436.93,456.23L429.43,456.23M436.93,456.23L440.68,462.72M440.68,462.72L436.93,469.22M436.93,469.22L429.43,469.22M436.93,469.22L440.68,475.72M440.68,475.72L436.93,482.22M436.93,482.22L429.43,482.22M436.93,482.22L440.68,488.71M440.68,488.71L436.93,495.21M436.93,495.21L429.43,495.21M436.93,495.21L440.68,501.71M440.68,501.71L436.93,508.21M436.93,508.21L429.43,508.21M436.93,508.21L440.68,514.7M440.68,514.7L436.93,521.2M436.93,521.2L429.43,521.2M436.93,521.2L440.68,527.7M440.68,527.7L436.93,534.2M436.93,534.2L429.43,534.2M436.93,534.2L440.68,540.69M440.68,540.69L436.93,547.19M436.93,547.19L429.43,547.19M436.93,547.19L440.68,553.69M440.68,553.69L436.93,560.19M436.93,560.19L429.43,560.19M436.93,560.19L440.68,566.68M440.68,566.68L436.93,573.18M436.93,573.18L429.43,573.18M436.93,573.18L440.68,579.68M440.68,579.68L436.93,586.18M436.93,586.18L429.43,586.18M436.93,586.18L440.68,592.67M440.68,592.67L436.93,599.17M436.93,599.17L429.43,599.17M436.93,599.17L440.68,605.67M440.68,605.67L436.93,612.17M436.93,612.17L429.43,612.17M436.93,612.17L440.68,618.66M440.68,618.66L436.93,625.16M436.93,625.16L429.43,625.16M429.43,625.16L425.68,618.66M436.93,144.35L440.68,137.85M440.68,137.85L448.18,137.85M448.18,137.85L451.93,144.35M451.93,144.35L448.18,150.84M448.18,150.84L440.68,150.84M440.68,150.84L436.93,144.35M436.93,157.34L440.68,150.84M448.18,150.84L451.93,157.34M451.93,157.34L448.18,163.84M448.18,163.84L440.68,163.84M448.18,163.84L451.93,170.34M451.93,170.34L448.18,176.84M448.18,176.84L440.68,176.84M448.18,176.84L451.93,183.33M451.93,183.33L448.18,189.83M448.18,189.83L440.68,189.83M448.18,189.83L451.93,196.33M451.93,196.33L448.18,202.82M448.18,202.82L440.68,202.82M448.18,202.82L451.93,209.32M451.93,209.32L448.18,215.82M448.18,215.82L440.68,215.82M448.18,215.82L451.93,222.32M451.93,222.32L448.18,228.81M448.18,228.81L440.68,228.81M448.18,228.81L451.93,235.31M451.93,235.31L448.18,241.81M448.18,241.81L440.68,241.81M448.18,241.81L451.93,248.31M451.93,248.31L448.18,254.81M448.18,254.81L440.68,254.81M448.18,254.8L451.93,261.3M451.93,261.3L448.18,267.8M448.18,267.8L440.68,267.8M448.18,267.8L451.93,274.3M451.93,274.3L448.18,280.79M448.18,280.79L440.68,280.79M448.18,280.79L451.93,287.29M451.93,287.29L448.18,293.79M448.18,293.79L440.68,293.79M448.18,293.79L451.93,300.29M451.93,300.29L448.18,306.78M448.18,306.78L440.68,306.78M448.18,306.78L451.93,313.28M451.93,313.28L448.18,319.78M448.18,319.78L440.68,319.78M448.18,319.78L451.93,326.28M451.93,326.28L448.18,332.77M448.18,332.77L440.68,332.77M448.18,332.77L451.93,339.27M451.93,339.27L448.18,345.77M448.18,345.77L440.68,345.77M448.18,345.77L451.93,352.27M451.93,352.27L448.18,358.76M448.18,358.76L440.68,358.76M448.18,358.76L451.93,365.26M451.93,365.26L448.18,371.76M448.18,371.76L440.68,371.76M448.18,371.76L451.93,378.26M451.93,378.26L448.18,384.75M448.18,384.75L440.68,384.75M448.18,384.75L451.93,391.25M451.93,391.25L448.18,397.75M448.18,397.75L440.68,397.75M448.18,397.75L451.93,404.25M451.93,404.25L448.18,410.74M448.18,410.74L440.68,410.74M448.18,410.74L451.93,417.24M451.93,417.24L448.18,423.74M448.18,423.74L440.68,423.74M448.18,423.74L451.93,430.24M451.93,430.24L448.18,436.73M448.18,436.73L440.68,436.73M448.18,436.73L451.93,443.23M451.93,443.23L448.18,449.73M448.18,449.73L440.68,449.73M448.18,449.73L451.93,456.23M451.93,456.23L448.18,462.72M448.18,462.72L440.68,462.72M448.18,462.72L451.93,469.22M451.93,469.22L448.18,475.72M448.18,475.72L440.68,475.72M448.18,475.72L451.93,482.22M451.93,482.22L448.18,488.71M448.18,488.71L440.68,488.71M448.18,488.71L451.93,495.21M451.93,495.21L448.18,501.71M448.18,501.71L440.68,501.71M448.18,501.71L451.93,508.21M451.93,508.21L448.18,514.7M448.18,514.7L440.68,514.7M448.18,514.7L451.93,521.2M451.93,521.2L448.18,527.7M448.18,527.7L440.68,527.7M448.18,527.7L451.93,534.2M451.93,534.2L448.18,540.69M448.18,540.69L440.68,540.69M448.18,540.69L451.93,547.19M451.93,547.19L448.18,553.69M448.18,553.69L440.68,553.69M448.18,553.69L451.93,560.19M451.93,560.19L448.18,566.68M448.18,566.68L440.68,566.68M448.18,566.68L451.93,573.18M451.93,573.18L448.18,579.68M448.18,579.68L440.68,579.68M448.18,579.68L451.93,586.18M451.93,586.18L448.18,592.67M448.18,592.67L440.68,592.67M448.18,592.67L451.93,599.17M451.93,599.17L448.18,605.67M448.18,605.67L440.68,605.67M448.18,605.67L451.93,612.17M451.93,612.17L448.18,618.66M448.18,618.66L440.68,618.66M448.18,618.66L451.93,625.16M451.93,625.16L448.18,631.66M448.18,631.66L440.68,631.66M440.68,631.66L436.93,625.16M436.93,638.16L440.68,631.66M448.18,631.66L451.93,638.16M451.93,638.16L448.18,644.65M448.18,644.65L440.68,644.65M440.68,644.65L436.93,638.16M451.93,144.35L459.43,144.35M459.43,144.35L463.18,150.84M463.18,150.84L459.43,157.34M459.43,157.34L451.93,157.34M459.43,157.34L463.18,163.84M463.18,163.84L459.43,170.34M459.43,170.34L451.93,170.34M459.43,170.34L463.18,176.84M463.18,176.84L459.43,183.33M459.43,183.33L451.93,183.33M459.43,183.33L463.18,189.83M463.18,189.83L459.43,196.33M459.43,196.33L451.93,196.33M459.43,196.33L463.18,202.82M463.18,202.82L459.43,209.32M459.43,209.32L451.93,209.32M459.43,209.32L463.18,215.82M463.18,215.82L459.43,222.32M459.43,222.32L451.93,222.32M459.43,222.32L463.18,228.81M463.18,228.81L459.43,235.31M459.43,235.31L451.93,235.31M459.43,235.31L463.18,241.81M463.18,241.81L459.43,248.31M459.43,248.31L451.93,248.31M459.43,248.31L463.18,254.8M463.18,254.8L459.43,261.3M459.43,261.3L451.93,261.3M459.43,261.3L463.18,267.8M463.18,267.8L459.43,274.3M459.43,274.3L451.93,274.3M459.43,274.3L463.18,280.79M463.18,280.79L459.43,287.29M459.43,287.29L451.93,287.29M459.43,287.29L463.18,293.79M463.18,293.79L459.43,300.29M459.43,300.29L451.93,300.29M459.43,300.29L463.18,306.78M463.18,306.78L459.43,313.28M459.43,313.28L451.93,313.28M459.43,313.28L463.18,319.78M463.18,319.78L459.43,326.28M459.43,326.28L451.93,326.28M459.43,326.28L463.18,332.77M463.18,332.77L459.43,339.27M459.43,339.27L451.93,339.27M459.43,339.27L463.18,345.77M463.18,345.77L459.43,352.27M459.43,352.27L451.93,352.27M459.43,352.27L463.18,358.76M463.18,358.76L459.43,365.26M459.43,365.26L451.93,365.26M459.43,365.26L463.18,371.76M463.18,371.76L459.43,378.26M459.43,378.26L451.93,378.26M459.43,378.26L463.18,384.75M463.18,384.75L459.43,391.25M459.43,391.25L451.93,391.25M459.43,391.25L463.18,397.75M463.18,397.75L459.43,404.25M459.43,404.25L451.93,404.25M459.43,404.25L463.18,410.74M463.18,410.74L459.43,417.24M459.43,417.24L451.93,417.24M459.43,417.24L463.18,423.74M463.18,423.74L459.43,430.24M459.43,430.24L451.93,430.24M459.43,430.24L463.18,436.73M463.18,436.73L459.43,443.23M459.43,443.23L451.93,443.23M459.43,443.23L463.18,449.73M463.18,449.73L459.43,456.23M459.43,456.23L451.93,456.23M459.43,456.23L463.18,462.72M463.18,462.72L459.43,469.22M459.43,469.22L451.93,469.22M459.43,469.22L463.18,475.72M463.18,475.72L459.43,482.22M459.43,482.22L451.93,482.22M459.43,482.22L463.18,488.71M463.18,488.71L459.43,495.21M459.43,495.21L451.93,495.21M459.43,495.21L463.18,501.71M463.18,501.71L459.43,508.21M459.43,508.21L451.93,508.21M459.43,508.21L463.18,514.7M463.18,514.7L459.43,521.2M459.43,521.2L451.93,521.2M459.43,521.2L463.18,527.7M463.18,527.7L459.43,534.2M459.43,534.2L451.93,534.2M459.43,534.2L463.18,540.69M463.18,540.69L459.43,547.19M459.43,547.19L451.93,547.19M459.43,547.19L463.18,553.69M463.18,553.69L459.43,560.19M459.43,560.19L451.93,560.19M459.43,560.19L463.18,566.68M463.18,566.68L459.43,573.18M459.43,573.18L451.93,573.18M459.43,573.18L463.18,579.68M463.18,579.68L459.43,586.18M459.43,586.18L451.93,586.18M459.43,586.18L463.18,592.67M463.18,592.67L459.43,599.17M459.43,599.17L451.93,599.17M459.43,599.17L463.18,605.67M463.18,605.67L459.43,612.17M459.43,612.17L451.93,612.17M459.43,612.17L463.18,618.66M463.18,618.66L459.43,625.16M459.43,625.16L451.93,625.16M459.43,625.16L463.18,631.66M463.18,631.66L459.43,638.16M459.43,638.16L451.93,638.16M459.43,638.16L463.18,644.65M463.18,644.65L459.43,651.15M459.43,651.15L451.93,651.15M451.93,651.15L448.18,644.65M463.18,150.84L470.68,150.84M470.68,150.84L474.43,157.34M474.43,157.34L470.68,163.84M470.68,163.84L463.18,163.84M470.68,163.84L474.43,170.34M474.43,170.34L470.68,176.84M470.68,176.84L463.18,176.84M470.68,176.84L474.43,183.33M474.43,183.33L470.68,189.83M470.68,189.83L463.18,189.83M470.68,189.83L474.43,196.33M474.43,196.33L470.68,202.82M470.68,202.82L463.18,202.82M470.68,202.82L474.43,209.32M474.43,209.32L470.68,215.82M470.68,215.82L463.18,215.82M470.68,215.82L474.43,222.32M474.43,222.32L470.68,228.81M470.68,228.81L463.18,228.81M470.68,228.81L474.43,235.31M474.43,235.31L470.68,241.81M470.68,241.81L463.18,241.81M470.68,241.81L474.43,248.31M474.43,248.31L470.68,254.81M470.68,254.81L463.18,254.81M470.68,254.8L474.43,261.3M474.43,261.3L470.68,267.8M470.68,267.8L463.18,267.8M470.68,267.8L474.43,274.3M474.43,274.3L470.68,280.79M470.68,280.79L463.18,280.79M470.68,280.79L474.43,287.29M474.43,287.29L470.68,293.79M470.68,293.79L463.18,293.79M470.68,293.79L474.43,300.29M474.43,300.29L470.68,306.78M470.68,306.78L463.18,306.78M470.68,306.78L474.43,313.28M474.43,313.28L470.68,319.78M470.68,319.78L463.18,319.78M470.68,319.78L474.43,326.28M474.43,326.28L470.68,332.77M470.68,332.77L463.18,332.77M470.68,332.77L474.43,339.27M474.43,339.27L470.68,345.77M470.68,345.77L463.18,345.77M470.68,345.77L474.43,352.27M474.43,352.27L470.68,358.76M470.68,358.76L463.18,358.76M470.68,358.76L474.43,365.26M474.43,365.26L470.68,371.76M470.68,371.76L463.18,371.76M470.68,371.76L474.43,378.26M474.43,378.26L470.68,384.75M470.68,384.75L463.18,384.75M470.68,384.75L474.43,391.25M474.43,391.25L470.68,397.75M470.68,397.75L463.18,397.75M470.68,397.75L474.43,404.25M474.43,404.25L470.68,410.74M470.68,410.74L463.18,410.74M470.68,410.74L474.43,417.24M474.43,417.24L470.68,423.74M470.68,423.74L463.18,423.74M470.68,423.74L474.43,430.24M474.43,430.24L470.68,436.73M470.68,436.73L463.18,436.73M470.68,436.73L474.43,443.23M474.43,443.23L470.68,449.73M470.68,449.73L463.18,449.73M470.68,449.73L474.43,456.23M474.43,456.23L470.68,462.72M470.68,462.72L463.18,462.72M470.68,462.72L474.43,469.22M474.43,469.22L470.68,475.72M470.68,475.72L463.18,475.72M470.68,475.72L474.43,482.22M474.43,482.22L470.68,488.71M470.68,488.71L463.18,488.71M470.68,488.71L474.43,495.21M474.43,495.21L470.68,501.71M470.68,501.71L463.18,501.71M470.68,501.71L474.43,508.21M474.43,508.21L470.68,514.7M470.68,514.7L463.18,514.7M470.68,514.7L474.43,521.2M474.43,521.2L470.68,527.7M470.68,527.7L463.18,527.7M470.68,527.7L474.43,534.2M474.43,534.2L470.68,540.69M470.68,540.69L463.18,540.69M470.68,540.69L474.43,547.19M474.43,547.19L470.68,553.69M470.68,553.69L463.18,553.69M470.68,553.69L474.43,560.19M474.43,560.19L470.68,566.68M470.68,566.68L463.18,566.68M470.68,566.68L474.43,573.18M474.43,573.18L470.68,579.68M470.68,579.68L463.18,579.68M470.68,579.68L474.43,586.18M474.43,586.18L470.68,592.67M470.68,592.67L463.18,592.67M470.68,592.67L474.43,599.17M474.43,599.17L470.68,605.67M470.68,605.67L463.18,605.67M470.68,605.67L474.43,612.17M474.43,612.17L470.68,618.66M470.68,618.66L463.18,618.66M470.68,618.66L474.43,625.16M474.43,625.16L470.68,631.66M470.68,631.66L463.18,631.66M470.68,631.66L474.43,638.16M474.43,638.16L470.68,644.65M470.68,644.65L463.18,644.65M470.68,644.65L474.43,651.15M474.43,651.15L470.68,657.65M470.68,657.65L463.18,657.65M463.18,657.65L459.43,651.15M470.68,98.86L474.43,92.37M474.43,92.37L481.93,92.37M481.93,92.37L485.68,98.86M485.68,98.86L481.93,105.36M481.93,105.36L474.43,105.36M474.43,105.36L470.68,98.86M470.68,150.84L474.43,144.35M474.43,144.35L481.93,144.35M481.93,144.35L485.68,150.84M485.68,150.84L481.93,157.34M481.93,157.34L474.43,157.34M481.93,157.34L485.68,163.84M485.68,163.84L481.93,170.34M481.93,170.34L474.43,170.34M481.93,170.34L485.68,176.84M485.68,176.84L481.93,183.33M481.93,183.33L474.43,183.33M481.93,183.33L485.68,189.83M485.68,189.83L481.93,196.33M481.93,196.33L474.43,196.33M481.93,196.33L485.68,202.82M485.68,202.82L481.93,209.32M481.93,209.32L474.43,209.32M481.93,209.32L485.68,215.82M485.68,215.82L481.93,222.32M481.93,222.32L474.43,222.32M481.93,222.32L485.68,228.81M485.68,228.81L481.93,235.31M481.93,235.31L474.43,235.31M481.93,235.31L485.68,241.81M485.68,241.81L481.93,248.31M481.93,248.31L474.43,248.31M481.93,248.31L485.68,254.8M485.68,254.8L481.93,261.3M481.93,261.3L474.43,261.3M481.93,261.3L485.68,267.8M485.68,267.8L481.93,274.3M481.93,274.3L474.43,274.3M481.93,274.3L485.68,280.79M485.68,280.79L481.93,287.29M481.93,287.29L474.43,287.29M481.93,287.29L485.68,293.79M485.68,293.79L481.93,300.29M481.93,300.29L474.43,300.29M481.93,300.29L485.68,306.78M485.68,306.78L481.93,313.28M481.93,313.28L474.43,313.28M481.93,313.28L485.68,319.78M485.68,319.78L481.93,326.28M481.93,326.28L474.43,326.28M481.93,326.28L485.68,332.77M485.68,332.77L481.93,339.27M481.93,339.27L474.43,339.27M481.93,339.27L485.68,345.77M485.68,345.77L481.93,352.27M481.93,352.27L474.43,352.27M481.93,352.27L485.68,358.76M485.68,358.76L481.93,365.26M481.93,365.26L474.43,365.26M481.93,365.26L485.68,371.76M485.68,371.76L481.93,378.26M481.93,378.26L474.43,378.26M481.93,378.26L485.68,384.75M485.68,384.75L481.93,391.25M481.93,391.25L474.43,391.25M481.93,391.25L485.68,397.75M485.68,397.75L481.93,404.25M481.93,404.25L474.43,404.25M481.93,404.25L485.68,410.74M485.68,410.74L481.93,417.24M481.93,417.24L474.43,417.24M481.93,417.24L485.68,423.74M485.68,423.74L481.93,430.24M481.93,430.24L474.43,430.24M481.93,430.24L485.68,436.73M485.68,436.73L481.93,443.23M481.93,443.23L474.43,443.23M481.93,443.23L485.68,449.73M485.68,449.73L481.93,456.23M481.93,456.23L474.43,456.23M481.93,456.23L485.68,462.72M485.68,462.72L481.93,469.22M481.93,469.22L474.43,469.22M481.93,469.22L485.68,475.72M485.68,475.72L481.93,482.22M481.93,482.22L474.43,482.22M481.93,482.22L485.68,488.71M485.68,488.71L481.93,495.21M481.93,495.21L474.43,495.21M481.93,495.21L485.68,501.71M485.68,501.71L481.93,508.21M481.93,508.21L474.43,508.21M481.93,508.21L485.68,514.7M485.68,514.7L481.93,521.2M481.93,521.2L474.43,521.2M481.93,521.2L485.68,527.7M485.68,527.7L481.93,534.2M481.93,534.2L474.43,534.2M481.93,534.2L485.68,540.69M485.68,540.69L481.93,547.19M481.93,547.19L474.43,547.19M481.93,547.19L485.68,553.69M485.68,553.69L481.93,560.19M481.93,560.19L474.43,560.19M481.93,560.19L485.68,566.68M485.68,566.68L481.93,573.18M481.93,573.18L474.43,573.18M481.93,573.18L485.68,579.68M485.68,579.68L481.93,586.18M481.93,586.18L474.43,586.18M481.93,586.18L485.68,592.67M485.68,592.67L481.93,599.17M481.93,599.17L474.43,599.17M481.93,599.17L485.68,605.67M485.68,605.67L481.93,612.17M481.93,612.17L474.43,612.17M481.93,612.17L485.68,618.66M485.68,618.66L481.93,625.16M481.93,625.16L474.43,625.16M481.93,625.16L485.68,631.66M485.68,631.66L481.93,638.16M481.93,638.16L474.43,638.16M481.93,638.16L485.68,644.65M485.68,644.65L481.93,651.15M481.93,651.15L474.43,651.15M481.93,651.15L485.68,657.65M485.68,657.65L481.93,664.15M481.93,664.15L474.43,664.15M474.43,664.15L470.68,657.65M481.93,92.37L485.68,85.87M485.68,85.87L493.18,85.87M493.18,85.87L496.93,92.37M496.93,92.37L493.18,98.87M493.18,98.87L485.68,98.87M493.18,98.86L496.93,105.36M496.93,105.36L493.18,111.86M493.18,111.86L485.68,111.86M485.68,111.86L481.93,105.36M481.93,118.36L485.68,111.86M493.18,111.86L496.93,118.36M496.93,118.36L493.18,124.86M493.18,124.86L485.68,124.86M485.68,124.86L481.93,118.36M485.68,150.84L493.18,150.84M493.18,150.84L496.93,157.34M496.93,157.34L493.18,163.84M493.18,163.84L485.68,163.84M493.18,163.84L496.93,170.34M496.93,170.34L493.18,176.84M493.18,176.84L485.68,176.84M493.18,176.84L496.93,183.33M496.93,183.33L493.18,189.83M493.18,189.83L485.68,189.83M493.18,189.83L496.93,196.33M496.93,196.33L493.18,202.82M493.18,202.82L485.68,202.82M493.18,202.82L496.93,209.32M496.93,209.32L493.18,215.82M493.18,215.82L485.68,215.82M493.18,215.82L496.93,222.32M496.93,222.32L493.18,228.81M493.18,228.81L485.68,228.81M493.18,228.81L496.93,235.31M496.93,235.31L493.18,241.81M493.18,241.81L485.68,241.81M493.18,241.81L496.93,248.31M496.93,248.31L493.18,254.81M493.18,254.81L485.68,254.81M493.18,254.8L496.93,261.3M496.93,261.3L493.18,267.8M493.18,267.8L485.68,267.8M493.18,267.8L496.93,274.3M496.93,274.3L493.18,280.79M493.18,280.79L485.68,280.79M493.18,280.79L496.93,287.29M496.93,287.29L493.18,293.79M493.18,293.79L485.68,293.79M493.18,293.79L496.93,300.29M496.93,300.29L493.18,306.78M493.18,306.78L485.68,306.78M493.18,306.78L496.93,313.28M496.93,313.28L493.18,319.78M493.18,319.78L485.68,319.78M493.18,319.78L496.93,326.28M496.93,326.28L493.18,332.77M493.18,332.77L485.68,332.77M493.18,332.77L496.93,339.27M496.93,339.27L493.18,345.77M493.18,345.77L485.68,345.77M493.18,345.77L496.93,352.27M496.93,352.27L493.18,358.76M493.18,358.76L485.68,358.76M493.18,358.76L496.93,365.26M496.93,365.26L493.18,371.76M493.18,371.76L485.68,371.76M493.18,371.76L496.93,378.26M496.93,378.26L493.18,384.75M493.18,384.75L485.68,384.75M493.18,384.75L496.93,391.25M496.93,391.25L493.18,397.75M493.18,397.75L485.68,397.75M493.18,397.75L496.93,404.25M496.93,404.25L493.18,410.74M493.18,410.74L485.68,410.74M493.18,410.74L496.93,417.24M496.93,417.24L493.18,423.74M493.18,423.74L485.68,423.74M493.18,423.74L496.93,430.24M496.93,430.24L493.18,436.73M493.18,436.73L485.68,436.73M493.18,436.73L496.93,443.23M496.93,443.23L493.18,449.73M493.18,449.73L485.68,449.73M493.18,449.73L496.93,456.23M496.93,456.23L493.18,462.72M493.18,462.72L485.68,462.72M493.18,462.72L496.93,469.22M496.93,469.22L493.18,475.72M493.18,475.72L485.68,475.72M493.18,475.72L496.93,482.22M496.93,482.22L493.18,488.71M493.18,488.71L485.68,488.71M493.18,488.71L496.93,495.21M496.93,495.21L493.18,501.71M493.18,501.71L485.68,501.71M493.18,501.71L496.93,508.21M496.93,508.21L493.18,514.7M493.18,514.7L485.68,514.7M493.18,514.7L496.93,521.2M496.93,521.2L493.18,527.7M493.18,527.7L485.68,527.7M493.18,527.7L496.93,534.2M496.93,534.2L493.18,540.69M493.18,540.69L485.68,540.69M493.18,540.69L496.93,547.19M496.93,547.19L493.18,553.69M493.18,553.69L485.68,553.69M493.18,553.69L496.93,560.19M496.93,560.19L493.18,566.68M493.18,566.68L485.68,566.68M493.18,566.68L496.93,573.18M496.93,573.18L493.18,579.68M493.18,579.68L485.68,579.68M493.18,579.68L496.93,586.18M496.93,586.18L493.18,592.67M493.18,592.67L485.68,592.67M493.18,592.67L496.93,599.17M496.93,599.17L493.18,605.67M493.18,605.67L485.68,605.67M493.18,605.67L496.93,612.17M496.93,612.17L493.18,618.66M493.18,618.66L485.68,618.66M493.18,618.66L496.93,625.16M496.93,625.16L493.18,631.66M493.18,631.66L485.68,631.66M493.18,631.66L496.93,638.16M496.93,638.16L493.18,644.65M493.18,644.65L485.68,644.65M493.18,644.65L496.93,651.15M496.93,651.15L493.18,657.65M493.18,657.65L485.68,657.65M493.18,657.65L496.93,664.15M496.93,664.15L493.18,670.64M493.18,670.64L485.68,670.64M485.68,670.64L481.93,664.15M493.18,85.87L496.93,79.37M496.93,79.37L504.43,79.37M504.43,79.37L508.18,85.87M508.18,85.87L504.43,92.37M504.43,92.37L496.93,92.37M504.43,92.37L508.18,98.86M508.18,98.86L504.43,105.36M504.43,105.36L496.93,105.36M504.43,105.36L508.18,111.86M508.18,111.86L504.43,118.36M504.43,118.36L496.93,118.36M504.43,118.36L508.18,124.86M508.18,124.86L504.43,131.35M504.43,131.35L496.93,131.35M496.93,131.35L493.18,124.86M493.18,150.84L496.93,144.35M496.93,144.35L504.43,144.35M504.43,144.35L508.18,150.84M508.18,150.84L504.43,157.34M504.43,157.34L496.93,157.34M504.43,157.34L508.18,163.84M508.18,163.84L504.43,170.34M504.43,170.34L496.93,170.34M504.43,170.34L508.18,176.84M508.18,176.84L504.43,183.33M504.43,183.33L496.93,183.33M504.43,183.33L508.18,189.83M508.18,189.83L504.43,196.33M504.43,196.33L496.93,196.33M504.43,196.33L508.18,202.82M508.18,202.82L504.43,209.32M504.43,209.32L496.93,209.32M504.43,209.32L508.18,215.82M508.18,215.82L504.43,222.32M504.43,222.32L496.93,222.32M504.43,222.32L508.18,228.81M508.18,228.81L504.43,235.31M504.43,235.31L496.93,235.31M504.43,235.31L508.18,241.81M508.18,241.81L504.43,248.31M504.43,248.31L496.93,248.31M504.43,248.31L508.18,254.8M508.18,254.8L504.43,261.3M504.43,261.3L496.93,261.3M504.43,261.3L508.18,267.8M508.18,267.8L504.43,274.3M504.43,274.3L496.93,274.3M504.43,274.3L508.18,280.79M508.18,280.79L504.43,287.29M504.43,287.29L496.93,287.29M504.43,287.29L508.18,293.79M508.18,293.79L504.43,300.29M504.43,300.29L496.93,300.29M504.43,300.29L508.18,306.78M508.18,306.78L504.43,313.28M504.43,313.28L496.93,313.28M504.43,313.28L508.18,319.78M508.18,319.78L504.43,326.28M504.43,326.28L496.93,326.28M504.43,326.28L508.18,332.77M508.18,332.77L504.43,339.27M504.43,339.27L496.93,339.27M504.43,339.27L508.18,345.77M508.18,345.77L504.43,352.27M504.43,352.27L496.93,352.27M504.43,352.27L508.18,358.76M508.18,358.76L504.43,365.26M504.43,365.26L496.93,365.26M504.43,365.26L508.18,371.76M508.18,371.76L504.43,378.26M504.43,378.26L496.93,378.26M504.43,378.26L508.18,384.75M508.18,384.75L504.43,391.25M504.43,391.25L496.93,391.25M504.43,391.25L508.18,397.75M508.18,397.75L504.43,404.25M504.43,404.25L496.93,404.25M504.43,404.25L508.18,410.74M508.18,410.74L504.43,417.24M504.43,417.24L496.93,417.24M504.43,417.24L508.18,423.74M508.18,423.74L504.43,430.24M504.43,430.24L496.93,430.24M504.43,430.24L508.18,436.73M508.18,436.73L504.43,443.23M504.43,443.23L496.93,443.23M504.43,443.23L508.18,449.73M508.18,449.73L504.43,456.23M504.43,456.23L496.93,456.23M504.43,456.23L508.18,462.72M508.18,462.72L504.43,469.22M504.43,469.22L496.93,469.22M504.43,469.22L508.18,475.72M508.18,475.72L504.43,482.22M504.43,482.22L496.93,482.22M504.43,482.22L508.18,488.71M508.18,488.71L504.43,495.21M504.43,495.21L496.93,495.21M504.43,495.21L508.18,501.71M508.18,501.71L504.43,508.21M504.43,508.21L496.93,508.21M504.43,508.21L508.18,514.7M508.18,514.7L504.43,521.2M504.43,521.2L496.93,521.2M504.43,521.2L508.18,527.7M508.18,527.7L504.43,534.2M504.43,534.2L496.93,534.2M504.43,534.2L508.18,540.69M508.18,540.69L504.43,547.19M504.43,547.19L496.93,547.19M504.43,547.19L508.18,553.69M508.18,553.69L504.43,560.19M504.43,560.19L496.93,560.19M504.43,560.19L508.18,566.68M508.18,566.68L504.43,573.18M504.43,573.18L496.93,573.18M504.43,573.18L508.18,579.68M508.18,579.68L504.43,586.18M504.43,586.18L496.93,586.18M504.43,586.18L508.18,592.67M508.18,592.67L504.43,599.17M504.43,599.17L496.93,599.17M504.43,599.17L508.18,605.67M508.18,605.67L504.43,612.17M504.43,612.17L496.93,612.17M504.43,612.17L508.18,618.66M508.18,618.66L504.43,625.16M504.43,625.16L496.93,625.16M504.43,625.16L508.18,631.66M508.18,631.66L504.43,638.16M504.43,638.16L496.93,638.16M504.43,638.16L508.18,644.65M508.18,644.65L504.43,651.15M504.43,651.15L496.93,651.15M504.43,651.15L508.18,657.65M508.18,657.65L504.43,664.15M504.43,664.15L496.93,664.15M508.18,98.86L515.68,98.86M515.68,98.86L519.43,105.36M519.43,105.36L515.68,111.86M515.68,111.86L508.18,111.86M515.68,111.86L519.43,118.36M519.43,118.36L515.68,124.86M515.68,124.86L508.18,124.86M515.68,124.85L519.43,131.35M519.43,131.35L515.68,137.85M515.68,137.85L508.18,137.85M508.18,137.85L504.43,131.35M508.18,150.84L515.68,150.84M515.68,150.84L519.43,157.34M519.43,157.34L515.68,163.84M515.68,163.84L508.18,163.84M515.68,163.84L519.43,170.34M519.43,170.34L515.68,176.84M515.68,176.84L508.18,176.84M515.68,176.84L519.43,183.33M519.43,183.33L515.68,189.83M515.68,189.83L508.18,189.83M515.68,189.83L519.43,196.33M519.43,196.33L515.68,202.82M515.68,202.82L508.18,202.82M515.68,202.82L519.43,209.32M519.43,209.32L515.68,215.82M515.68,215.82L508.18,215.82M515.68,215.82L519.43,222.32M519.43,222.32L515.68,228.81M515.68,228.81L508.18,228.81M515.68,228.81L519.43,235.31M519.43,235.31L515.68,241.81M515.68,241.81L508.18,241.81M515.68,241.81L519.43,248.31M519.43,248.31L515.68,254.81M515.68,254.81L508.18,254.81M515.68,254.8L519.43,261.3M519.43,261.3L515.68,267.8M515.68,267.8L508.18,267.8M515.68,267.8L519.43,274.3M519.43,274.3L515.68,280.79M515.68,280.79L508.18,280.79M515.68,280.79L519.43,287.29M519.43,287.29L515.68,293.79M515.68,293.79L508.18,293.79M515.68,293.79L519.43,300.29M519.43,300.29L515.68,306.78M515.68,306.78L508.18,306.78M515.68,306.78L519.43,313.28M519.43,313.28L515.68,319.78M515.68,319.78L508.18,319.78M515.68,319.78L519.43,326.28M519.43,326.28L515.68,332.77M515.68,332.77L508.18,332.77M515.68,332.77L519.43,339.27M519.43,339.27L515.68,345.77M515.68,345.77L508.18,345.77M515.68,345.77L519.43,352.27M519.43,352.27L515.68,358.76M515.68,358.76L508.18,358.76M515.68,358.76L519.43,365.26M519.43,365.26L515.68,371.76M515.68,371.76L508.18,371.76M515.68,371.76L519.43,378.26M519.43,378.26L515.68,384.75M515.68,384.75L508.18,384.75M515.68,384.75L519.43,391.25M519.43,391.25L515.68,397.75M515.68,397.75L508.18,397.75M515.68,397.75L519.43,404.25M519.43,404.25L515.68,410.74M515.68,410.74L508.18,410.74M515.68,410.74L519.43,417.24M519.43,417.24L515.68,423.74M515.68,423.74L508.18,423.74M515.68,423.74L519.43,430.24M519.43,430.24L515.68,436.73M515.68,436.73L508.18,436.73M515.68,436.73L519.43,443.23M519.43,443.23L515.68,449.73M515.68,449.73L508.18,449.73M515.68,449.73L519.43,456.23M519.43,456.23L515.68,462.72M515.68,462.72L508.18,462.72M515.68,462.72L519.43,469.22M519.43,469.22L515.68,475.72M515.68,475.72L508.18,475.72M515.68,475.72L519.43,482.22M519.43,482.22L515.68,488.71M515.68,488.71L508.18,488.71M515.68,488.71L519.43,495.21M519.43,495.21L515.68,501.71M515.68,501.71L508.18,501.71M515.68,501.71L519.43,508.21M519.43,508.21L515.68,514.7M515.68,514.7L508.18,514.7M515.68,514.7L519.43,521.2M519.43,521.2L515.68,527.7M515.68,527.7L508.18,527.7M515.68,527.7L519.43,534.2M519.43,534.2L515.68,540.69M515.68,540.69L508.18,540.69M515.68,540.69L519.43,547.19M519.43,547.19L515.68,553.69M515.68,553.69L508.18,553.69M515.68,553.69L519.43,560.19M519.43,560.19L515.68,566.68M515.68,566.68L508.18,566.68M515.68,566.68L519.43,573.18M519.43,573.18L515.68,579.68M515.68,579.68L508.18,579.68M515.68,579.68L519.43,586.18M519.43,586.18L515.68,592.67M515.68,592.67L508.18,592.67M515.68,592.67L519.43,599.17M519.43,599.17L515.68,605.67M515.68,605.67L508.18,605.67M515.68,605.67L519.43,612.17M519.43,612.17L515.68,618.66M515.68,618.66L508.18,618.66M515.68,618.66L519.43,625.16M519.43,625.16L515.68,631.66M515.68,631.66L508.18,631.66M515.68,631.66L519.43,638.16M519.43,638.16L515.68,644.65M515.68,644.65L508.18,644.65M515.68,644.65L519.43,651.15M519.43,651.15L515.68,657.65M515.68,657.65L508.18,657.65M515.68,657.65L519.43,664.15M519.43,664.15L515.68,670.64M515.68,670.64L508.18,670.64M508.18,670.64L504.43,664.15M515.68,85.87L519.43,79.37M519.43,79.37L526.93,79.37M526.93,79.37L530.68,85.87M530.68,85.87L526.93,92.37M526.93,92.37L519.43,92.37M519.43,92.37L515.68,85.87M515.68,98.86L519.43,92.37M526.93,92.37L530.68,98.86M530.68,98.86L526.93,105.36M526.93,105.36L519.43,105.36M526.93,105.36L530.68,111.86M530.68,111.86L526.93,118.36M526.93,118.36L519.43,118.36M526.93,118.36L530.68,124.86M530.68,124.86L526.93,131.35M526.93,131.35L519.43,131.35M526.93,131.35L530.68,137.85M530.68,137.85L526.93,144.35M526.93,144.35L519.43,144.35M519.43,144.35L515.68,137.85M515.68,150.84L519.43,144.35M526.93,144.35L530.68,150.84M530.68,150.84L526.93,157.34M526.93,157.34L519.43,157.34M526.93,157.34L530.68,163.84M530.68,163.84L526.93,170.34M526.93,170.34L519.43,170.34M526.93,170.34L530.68,176.84M530.68,176.84L526.93,183.33M526.93,183.33L519.43,183.33M526.93,183.33L530.68,189.83M530.68,189.83L526.93,196.33M526.93,196.33L519.43,196.33M526.93,196.33L530.68,202.82M530.68,202.82L526.93,209.32M526.93,209.32L519.43,209.32M526.93,209.32L530.68,215.82M530.68,215.82L526.93,222.32M526.93,222.32L519.43,222.32M526.93,222.32L530.68,228.81M530.68,228.81L526.93,235.31M526.93,235.31L519.43,235.31M526.93,235.31L530.68,241.81M530.68,241.81L526.93,248.31M526.93,248.31L519.43,248.31M526.93,248.31L530.68,254.8M530.68,254.8L526.93,261.3M526.93,261.3L519.43,261.3M526.93,261.3L530.68,267.8M530.68,267.8L526.93,274.3M526.93,274.3L519.43,274.3M526.93,274.3L530.68,280.79M530.68,280.79L526.93,287.29M526.93,287.29L519.43,287.29M526.93,287.29L530.68,293.79M530.68,293.79L526.93,300.29M526.93,300.29L519.43,300.29M526.93,300.29L530.68,306.78M530.68,306.78L526.93,313.28M526.93,313.28L519.43,313.28M526.93,313.28L530.68,319.78M530.68,319.78L526.93,326.28M526.93,326.28L519.43,326.28M526.93,326.28L530.68,332.77M530.68,332.77L526.93,339.27M526.93,339.27L519.43,339.27M526.93,339.27L530.68,345.77M530.68,345.77L526.93,352.27M526.93,352.27L519.43,352.27M526.93,352.27L530.68,358.76M530.68,358.76L526.93,365.26M526.93,365.26L519.43,365.26M526.93,365.26L530.68,371.76M530.68,371.76L526.93,378.26M526.93,378.26L519.43,378.26M526.93,378.26L530.68,384.75M530.68,384.75L526.93,391.25M526.93,391.25L519.43,391.25M526.93,391.25L530.68,397.75M530.68,397.75L526.93,404.25M526.93,404.25L519.43,404.25M526.93,404.25L530.68,410.74M530.68,410.74L526.93,417.24M526.93,417.24L519.43,417.24M526.93,417.24L530.68,423.74M530.68,423.74L526.93,430.24M526.93,430.24L519.43,430.24M526.93,430.24L530.68,436.73M530.68,436.73L526.93,443.23M526.93,443.23L519.43,443.23M526.93,443.23L530.68,449.73M530.68,449.73L526.93,456.23M526.93,456.23L519.43,456.23M526.93,456.23L530.68,462.72M530.68,462.72L526.93,469.22M526.93,469.22L519.43,469.22M526.93,469.22L530.68,475.72M530.68,475.72L526.93,482.22M526.93,482.22L519.43,482.22M526.93,482.22L530.68,488.71M530.68,488.71L526.93,495.21M526.93,495.21L519.43,495.21M526.93,495.21L530.68,501.71M530.68,501.71L526.93,508.21M526.93,508.21L519.43,508.21M526.93,508.21L530.68,514.7M530.68,514.7L526.93,521.2M526.93,521.2L519.43,521.2M526.93,521.2L530.68,527.7M530.68,527.7L526.93,534.2M526.93,534.2L519.43,534.2M526.93,534.2L530.68,540.69M530.68,540.69L526.93,547.19M526.93,547.19L519.43,547.19M526.93,547.19L530.68,553.69M530.68,553.69L526.93,560.19M526.93,560.19L519.43,560.19M526.93,560.19L530.68,566.68M530.68,566.68L526.93,573.18M526.93,573.18L519.43,573.18M526.93,573.18L530.68,579.68M530.68,579.68L526.93,586.18M526.93,586.18L519.43,586.18M526.93,586.18L530.68,592.67M530.68,592.67L526.93,599.17M526.93,599.17L519.43,599.17M526.93,599.17L530.68,605.67M530.68,605.67L526.93,612.17M526.93,612.17L519.43,612.17M526.93,612.17L530.68,618.66M530.68,618.66L526.93,625.16M526.93,625.16L519.43,625.16M526.93,625.16L530.68,631.66M530.68,631.66L526.93,638.16M526.93,638.16L519.43,638.16M526.93,638.16L530.68,644.65M530.68,644.65L526.93,651.15M526.93,651.15L519.43,651.15M526.93,651.15L530.68,657.65M530.68,657.65L526.93,664.15M526.93,664.15L519.43,664.15M526.93,664.15L530.68,670.64M530.68,670.64L526.93,677.14M526.93,677.14L519.43,677.14M519.43,677.14L515.68,670.64M526.93,79.37L530.68,72.88M530.68,72.88L538.18,72.88M538.18,72.88L541.93,79.37M541.93,79.37L538.18,85.87M538.18,85.87L530.68,85.87M538.18,85.87L541.93,92.37M541.93,92.37L538.18,98.87M538.18,98.87L530.68,98.87M538.18,98.86L541.93,105.36M541.93,105.36L538.18,111.86M538.18,111.86L530.68,111.86M538.18,111.86L541.93,118.36M541.93,118.36L538.18,124.86M538.18,124.86L530.68,124.86M538.18,124.85L541.93,131.35M541.93,131.35L538.18,137.85M538.18,137.85L530.68,137.85M538.18,137.85L541.93,144.35M541.93,144.35L538.18,150.84M538.18,150.84L530.68,150.84M538.18,150.84L541.93,157.34M541.93,157.34L538.18,163.84M538.18,163.84L530.68,163.84M538.18,163.84L541.93,170.34M541.93,170.34L538.18,176.84M538.18,176.84L530.68,176.84M538.18,176.84L541.93,183.33M541.93,183.33L538.18,189.83M538.18,189.83L530.68,189.83M538.18,189.83L541.93,196.33M541.93,196.33L538.18,202.82M538.18,202.82L530.68,202.82M538.18,202.82L541.93,209.32M541.93,209.32L538.18,215.82M538.18,215.82L530.68,215.82M538.18,215.82L541.93,222.32M541.93,222.32L538.18,228.81M538.18,228.81L530.68,228.81M538.18,228.81L541.93,235.31M541.93,235.31L538.18,241.81M538.18,241.81L530.68,241.81M538.18,241.81L541.93,248.31M541.93,248.31L538.18,254.81M538.18,254.81L530.68,254.81M538.18,254.8L541.93,261.3M541.93,261.3L538.18,267.8M538.18,267.8L530.68,267.8M538.18,267.8L541.93,274.3M541.93,274.3L538.18,280.79M538.18,280.79L530.68,280.79M538.18,280.79L541.93,287.29M541.93,287.29L538.18,293.79M538.18,293.79L530.68,293.79M538.18,293.79L541.93,300.29M541.93,300.29L538.18,306.78M538.18,306.78L530.68,306.78M538.18,306.78L541.93,313.28M541.93,313.28L538.18,319.78M538.18,319.78L530.68,319.78M538.18,319.78L541.93,326.28M541.93,326.28L538.18,332.77M538.18,332.77L530.68,332.77M538.18,332.77L541.93,339.27M541.93,339.27L538.18,345.77M538.18,345.77L530.68,345.77M538.18,345.77L541.93,352.27M541.93,352.27L538.18,358.76M538.18,358.76L530.68,358.76M538.18,358.76L541.93,365.26M541.93,365.26L538.18,371.76M538.18,371.76L530.68,371.76M538.18,371.76L541.93,378.26M541.93,378.26L538.18,384.75M538.18,384.75L530.68,384.75M538.18,384.75L541.93,391.25M541.93,391.25L538.18,397.75M538.18,397.75L530.68,397.75M538.18,397.75L541.93,404.25M541.93,404.25L538.18,410.74M538.18,410.74L530.68,410.74M538.18,410.74L541.93,417.24M541.93,417.24L538.18,423.74M538.18,423.74L530.68,423.74M538.18,423.74L541.93,430.24M541.93,430.24L538.18,436.73M538.18,436.73L530.68,436.73M538.18,436.73L541.93,443.23M541.93,443.23L538.18,449.73M538.18,449.73L530.68,449.73M538.18,449.73L541.93,456.23M541.93,456.23L538.18,462.72M538.18,462.72L530.68,462.72M538.18,462.72L541.93,469.22M541.93,469.22L538.18,475.72M538.18,475.72L530.68,475.72M538.18,475.72L541.93,482.22M541.93,482.22L538.18,488.71M538.18,488.71L530.68,488.71M538.18,488.71L541.93,495.21M541.93,495.21L538.18,501.71M538.18,501.71L530.68,501.71M538.18,501.71L541.93,508.21M541.93,508.21L538.18,514.7M538.18,514.7L530.68,514.7M538.18,514.7L541.93,521.2M541.93,521.2L538.18,527.7M538.18,527.7L530.68,527.7M538.18,527.7L541.93,534.2M541.93,534.2L538.18,540.69M538.18,540.69L530.68,540.69M538.18,540.69L541.93,547.19M541.93,547.19L538.18,553.69M538.18,553.69L530.68,553.69M538.18,553.69L541.93,560.19M541.93,560.19L538.18,566.68M538.18,566.68L530.68,566.68M538.18,566.68L541.93,573.18M541.93,573.18L538.18,579.68M538.18,579.68L530.68,579.68M538.18,579.68L541.93,586.18M541.93,586.18L538.18,592.67M538.18,592.67L530.68,592.67M538.18,592.67L541.93,599.17M541.93,599.17L538.18,605.67M538.18,605.67L530.68,605.67M538.18,605.67L541.93,612.17M541.93,612.17L538.18,618.66M538.18,618.66L530.68,618.66M538.18,618.66L541.93,625.16M541.93,625.16L538.18,631.66M538.18,631.66L530.68,631.66M530.68,657.65L538.18,657.65M538.18,657.65L541.93,664.15M541.93,664.15L538.18,670.64M538.18,670.64L530.68,670.64M538.18,72.88L541.93,66.38M541.93,66.38L549.43,66.38M549.43,66.38L553.18,72.88M553.18,72.88L549.43,79.37M549.43,79.37L541.93,79.37M549.43,79.37L553.18,85.87M553.18,85.87L549.43,92.37M549.43,92.37L541.93,92.37M549.43,92.37L553.18,98.86M553.18,98.86L549.43,105.36M549.43,105.36L541.93,105.36M549.43,105.36L553.18,111.86M553.18,111.86L549.43,118.36M549.43,118.36L541.93,118.36M549.43,118.36L553.18,124.86M553.18,124.86L549.43,131.35M549.43,131.35L541.93,131.35M549.43,131.35L553.18,137.85M553.18,137.85L549.43,144.35M549.43,144.35L541.93,144.35M549.43,144.35L553.18,150.84M553.18,150.84L549.43,157.34M549.43,157.34L541.93,157.34M549.43,157.34L553.18,163.84M553.18,163.84L549.43,170.34M549.43,170.34L541.93,170.34M549.43,170.34L553.18,176.84M553.18,176.84L549.43,183.33M549.43,183.33L541.93,183.33M549.43,183.33L553.18,189.83M553.18,189.83L549.43,196.33M549.43,196.33L541.93,196.33M549.43,196.33L553.18,202.82M553.18,202.82L549.43,209.32M549.43,209.32L541.93,209.32M549.43,209.32L553.18,215.82M553.18,215.82L549.43,222.32M549.43,222.32L541.93,222.32M549.43,222.32L553.18,228.81M553.18,228.81L549.43,235.31M549.43,235.31L541.93,235.31M549.43,235.31L553.18,241.81M553.18,241.81L549.43,248.31M549.43,248.31L541.93,248.31M549.43,248.31L553.18,254.8M553.18,254.8L549.43,261.3M549.43,261.3L541.93,261.3M549.43,261.3L553.18,267.8M553.18,267.8L549.43,274.3M549.43,274.3L541.93,274.3M549.43,274.3L553.18,280.79M553.18,280.79L549.43,287.29M549.43,287.29L541.93,287.29M549.43,287.29L553.18,293.79M553.18,293.79L549.43,300.29M549.43,300.29L541.93,300.29M549.43,300.29L553.18,306.78M553.18,306.78L549.43,313.28M549.43,313.28L541.93,313.28M549.43,313.28L553.18,319.78M553.18,319.78L549.43,326.28M549.43,326.28L541.93,326.28M549.43,326.28L553.18,332.77M553.18,332.77L549.43,339.27M549.43,339.27L541.93,339.27M549.43,339.27L553.18,345.77M553.18,345.77L549.43,352.27M549.43,352.27L541.93,352.27M549.43,352.27L553.18,358.76M553.18,358.76L549.43,365.26M549.43,365.26L541.93,365.26M549.43,365.26L553.18,371.76M553.18,371.76L549.43,378.26M549.43,378.26L541.93,378.26M549.43,378.26L553.18,384.75M553.18,384.75L549.43,391.25M549.43,391.25L541.93,391.25M549.43,391.25L553.18,397.75M553.18,397.75L549.43,404.25M549.43,404.25L541.93,404.25M549.43,404.25L553.18,410.74M553.18,410.74L549.43,417.24M549.43,417.24L541.93,417.24M549.43,417.24L553.18,423.74M553.18,423.74L549.43,430.24M549.43,430.24L541.93,430.24M549.43,430.24L553.18,436.73M553.18,436.73L549.43,443.23M549.43,443.23L541.93,443.23M549.43,443.23L553.18,449.73M553.18,449.73L549.43,456.23M549.43,456.23L541.93,456.23M549.43,456.23L553.18,462.72M553.18,462.72L549.43,469.22M549.43,469.22L541.93,469.22M549.43,469.22L553.18,475.72M553.18,475.72L549.43,482.22M549.43,482.22L541.93,482.22M549.43,482.22L553.18,488.71M553.18,488.71L549.43,495.21M549.43,495.21L541.93,495.21M549.43,495.21L553.18,501.71M553.18,501.71L549.43,508.21M549.43,508.21L541.93,508.21M549.43,508.21L553.18,514.7M553.18,514.7L549.43,521.2M549.43,521.2L541.93,521.2M549.43,521.2L553.18,527.7M553.18,527.7L549.43,534.2M549.43,534.2L541.93,534.2M549.43,534.2L553.18,540.69M553.18,540.69L549.43,547.19M549.43,547.19L541.93,547.19M549.43,547.19L553.18,553.69M553.18,553.69L549.43,560.19M549.43,560.19L541.93,560.19M549.43,560.19L553.18,566.68M553.18,566.68L549.43,573.18M549.43,573.18L541.93,573.18M549.43,573.18L553.18,579.68M553.18,579.68L549.43,586.18M549.43,586.18L541.93,586.18M549.43,586.18L553.18,592.67M553.18,592.67L549.43,599.17M549.43,599.17L541.93,599.17M549.43,599.17L553.18,605.67M553.18,605.67L549.43,612.17M549.43,612.17L541.93,612.17M549.43,612.17L553.18,618.66M553.18,618.66L549.43,625.16M549.43,625.16L541.93,625.16M549.43,66.38L553.18,59.88M553.18,59.88L560.68,59.88M560.68,59.88L564.43,66.38M564.43,66.38L560.68,72.88M560.68,72.88L553.18,72.88M560.68,72.88L564.43,79.37M564.43,79.37L560.68,85.87M560.68,85.87L553.18,85.87M560.68,85.87L564.43,92.37M564.43,92.37L560.68,98.87M560.68,98.87L553.18,98.87M560.68,98.86L564.43,105.36M564.43,105.36L560.68,111.86M560.68,111.86L553.18,111.86M560.68,111.86L564.43,118.36M564.43,118.36L560.68,124.86M560.68,124.86L553.18,124.86M560.68,124.85L564.43,131.35M564.43,131.35L560.68,137.85M560.68,137.85L553.18,137.85M560.68,137.85L564.43,144.35M564.43,144.35L560.68,150.84M560.68,150.84L553.18,150.84M560.68,150.84L564.43,157.34M564.43,157.34L560.68,163.84M560.68,163.84L553.18,163.84M560.68,163.84L564.43,170.34M564.43,170.34L560.68,176.84M560.68,176.84L553.18,176.84M560.68,176.84L564.43,183.33M564.43,183.33L560.68,189.83M560.68,189.83L553.18,189.83M560.68,189.83L564.43,196.33M564.43,196.33L560.68,202.82M560.68,202.82L553.18,202.82M560.68,202.82L564.43,209.32M564.43,209.32L560.68,215.82M560.68,215.82L553.18,215.82M560.68,215.82L564.43,222.32M564.43,222.32L560.68,228.81M560.68,228.81L553.18,228.81M560.68,228.81L564.43,235.31M564.43,235.31L560.68,241.81M560.68,241.81L553.18,241.81M560.68,241.81L564.43,248.31M564.43,248.31L560.68,254.81M560.68,254.81L553.18,254.81M560.68,254.8L564.43,261.3M564.43,261.3L560.68,267.8M560.68,267.8L553.18,267.8M560.68,267.8L564.43,274.3M564.43,274.3L560.68,280.79M560.68,280.79L553.18,280.79M560.68,280.79L564.43,287.29M564.43,287.29L560.68,293.79M560.68,293.79L553.18,293.79M560.68,293.79L564.43,300.29M564.43,300.29L560.68,306.78M560.68,306.78L553.18,306.78M560.68,306.78L564.43,313.28M564.43,313.28L560.68,319.78M560.68,319.78L553.18,319.78M560.68,319.78L564.43,326.28M564.43,326.28L560.68,332.77M560.68,332.77L553.18,332.77M560.68,332.77L564.43,339.27M564.43,339.27L560.68,345.77M560.68,345.77L553.18,345.77M560.68,345.77L564.43,352.27M564.43,352.27L560.68,358.76M560.68,358.76L553.18,358.76M560.68,358.76L564.43,365.26M564.43,365.26L560.68,371.76M560.68,371.76L553.18,371.76M560.68,371.76L564.43,378.26M564.43,378.26L560.68,384.75M560.68,384.75L553.18,384.75M560.68,384.75L564.43,391.25M564.43,391.25L560.68,397.75M560.68,397.75L553.18,397.75M560.68,397.75L564.43,404.25M564.43,404.25L560.68,410.74M560.68,410.74L553.18,410.74M560.68,410.74L564.43,417.24M564.43,417.24L560.68,423.74M560.68,423.74L553.18,423.74M560.68,423.74L564.43,430.24M564.43,430.24L560.68,436.73M560.68,436.73L553.18,436.73M560.68,436.73L564.43,443.23M564.43,443.23L560.68,449.73M560.68,449.73L553.18,449.73M560.68,449.73L564.43,456.23M564.43,456.23L560.68,462.72M560.68,462.72L553.18,462.72M560.68,462.72L564.43,469.22M564.43,469.22L560.68,475.72M560.68,475.72L553.18,475.72M560.68,475.72L564.43,482.22M564.43,482.22L560.68,488.71M560.68,488.71L553.18,488.71M560.68,488.71L564.43,495.21M564.43,495.21L560.68,501.71M560.68,501.71L553.18,501.71M560.68,501.71L564.43,508.21M564.43,508.21L560.68,514.7M560.68,514.7L553.18,514.7M560.68,514.7L564.43,521.2M564.43,521.2L560.68,527.7M560.68,527.7L553.18,527.7M560.68,527.7L564.43,534.2M564.43,534.2L560.68,540.69M560.68,540.69L553.18,540.69M560.68,540.69L564.43,547.19M564.43,547.19L560.68,553.69M560.68,553.69L553.18,553.69M560.68,553.69L564.43,560.19M564.43,560.19L560.68,566.68M560.68,566.68L553.18,566.68M560.68,566.68L564.43,573.18M564.43,573.18L560.68,579.68M560.68,579.68L553.18,579.68M560.68,579.68L564.43,586.18M564.43,586.18L560.68,592.67M560.68,592.67L553.18,592.67M560.68,592.67L564.43,599.17M564.43,599.17L560.68,605.67M560.68,605.67L553.18,605.67M560.68,605.67L564.43,612.17M564.43,612.17L560.68,618.66M560.68,618.66L553.18,618.66M564.43,66.38L571.93,66.38M571.93,66.38L575.68,72.88M575.68,72.88L571.93,79.37M571.93,79.37L564.43,79.37M571.93,79.37L575.68,85.87M575.68,85.87L571.93,92.37M571.93,92.37L564.43,92.37M571.93,92.37L575.68,98.86M575.68,98.86L571.93,105.36M571.93,105.36L564.43,105.36M571.93,105.36L575.68,111.86M575.68,111.86L571.93,118.36M571.93,118.36L564.43,118.36M571.93,118.36L575.68,124.86M575.68,124.86L571.93,131.35M571.93,131.35L564.43,131.35M571.93,131.35L575.68,137.85M575.68,137.85L571.93,144.35M571.93,144.35L564.43,144.35M571.93,144.35L575.68,150.84M575.68,150.84L571.93,157.34M571.93,157.34L564.43,157.34M571.93,157.34L575.68,163.84M575.68,163.84L571.93,170.34M571.93,170.34L564.43,170.34M571.93,170.34L575.68,176.84M575.68,176.84L571.93,183.33M571.93,183.33L564.43,183.33M571.93,183.33L575.68,189.83M575.68,189.83L571.93,196.33M571.93,196.33L564.43,196.33M571.93,196.33L575.68,202.82M575.68,202.82L571.93,209.32M571.93,209.32L564.43,209.32M571.93,209.32L575.68,215.82M575.68,215.82L571.93,222.32M571.93,222.32L564.43,222.32M571.93,222.32L575.68,228.81M575.68,228.81L571.93,235.31M571.93,235.31L564.43,235.31M571.93,235.31L575.68,241.81M575.68,241.81L571.93,248.31M571.93,248.31L564.43,248.31M571.93,248.31L575.68,254.8M575.68,254.8L571.93,261.3M571.93,261.3L564.43,261.3M571.93,261.3L575.68,267.8M575.68,267.8L571.93,274.3M571.93,274.3L564.43,274.3M571.93,274.3L575.68,280.79M575.68,280.79L571.93,287.29M571.93,287.29L564.43,287.29M571.93,287.29L575.68,293.79M575.68,293.79L571.93,300.29M571.93,300.29L564.43,300.29M571.93,300.29L575.68,306.78M575.68,306.78L571.93,313.28M571.93,313.28L564.43,313.28M571.93,313.28L575.68,319.78M575.68,319.78L571.93,326.28M571.93,326.28L564.43,326.28M571.93,326.28L575.68,332.77M575.68,332.77L571.93,339.27M571.93,339.27L564.43,339.27M571.93,339.27L575.68,345.77M575.68,345.77L571.93,352.27M571.93,352.27L564.43,352.27M571.93,352.27L575.68,358.76M575.68,358.76L571.93,365.26M571.93,365.26L564.43,365.26M571.93,365.26L575.68,371.76M575.68,371.76L571.93,378.26M571.93,378.26L564.43,378.26M571.93,378.26L575.68,384.75M575.68,384.75L571.93,391.25M571.93,391.25L564.43,391.25M571.93,391.25L575.68,397.75M575.68,397.75L571.93,404.25M571.93,404.25L564.43,404.25M571.93,404.25L575.68,410.74M575.68,410.74L571.93,417.24M571.93,417.24L564.43,417.24M571.93,417.24L575.68,423.74M575.68,423.74L571.93,430.24M571.93,430.24L564.43,430.24M571.93,430.24L575.68,436.73M575.68,436.73L571.93,443.23M571.93,443.23L564.43,443.23M571.93,443.23L575.68,449.73M575.68,449.73L571.93,456.23M571.93,456.23L564.43,456.23M571.93,456.23L575.68,462.72M575.68,462.72L571.93,469.22M571.93,469.22L564.43,469.22M571.93,469.22L575.68,475.72M575.68,475.72L571.93,482.22M571.93,482.22L564.43,482.22M571.93,482.22L575.68,488.71M575.68,488.71L571.93,495.21M571.93,495.21L564.43,495.21M571.93,495.21L575.68,501.71M575.68,501.71L571.93,508.21M571.93,508.21L564.43,508.21M571.93,508.21L575.68,514.7M575.68,514.7L571.93,521.2M571.93,521.2L564.43,521.2M571.93,521.2L575.68,527.7M575.68,527.7L571.93,534.2M571.93,534.2L564.43,534.2M571.93,534.2L575.68,540.69M575.68,540.69L571.93,547.19M571.93,547.19L564.43,547.19M571.93,547.19L575.68,553.69M575.68,553.69L571.93,560.19M571.93,560.19L564.43,560.19M571.93,560.19L575.68,566.68M575.68,566.68L571.93,573.18M571.93,573.18L564.43,573.18M571.93,573.18L575.68,579.68M575.68,579.68L571.93,586.18M571.93,586.18L564.43,586.18M571.93,586.18L575.68,592.67M575.68,592.67L571.93,599.17M571.93,599.17L564.43,599.17M571.93,599.17L575.68,605.67M575.68,605.67L571.93,612.17M571.93,612.17L564.43,612.17M575.68,72.88L583.18,72.88M583.18,72.88L586.93,79.37M586.93,79.37L583.18,85.87M583.18,85.87L575.68,85.87M583.18,85.87L586.93,92.37M586.93,92.37L583.18,98.87M583.18,98.87L575.68,98.87M583.18,98.86L586.93,105.36M586.93,105.36L583.18,111.86M583.18,111.86L575.68,111.86M583.18,111.86L586.93,118.36M586.93,118.36L583.18,124.86M583.18,124.86L575.68,124.86M583.18,124.85L586.93,131.35M586.93,131.35L583.18,137.85M583.18,137.85L575.68,137.85M583.18,137.85L586.93,144.35M586.93,144.35L583.18,150.84M583.18,150.84L575.68,150.84M583.18,150.84L586.93,157.34M586.93,157.34L583.18,163.84M583.18,163.84L575.68,163.84M583.18,163.84L586.93,170.34M586.93,170.34L583.18,176.84M583.18,176.84L575.68,176.84M583.18,176.84L586.93,183.33M586.93,183.33L583.18,189.83M583.18,189.83L575.68,189.83M583.18,189.83L586.93,196.33M586.93,196.33L583.18,202.82M583.18,202.82L575.68,202.82M583.18,202.82L586.93,209.32M586.93,209.32L583.18,215.82M583.18,215.82L575.68,215.82M583.18,215.82L586.93,222.32M586.93,222.32L583.18,228.81M583.18,228.81L575.68,228.81M583.18,228.81L586.93,235.31M586.93,235.31L583.18,241.81M583.18,241.81L575.68,241.81M583.18,241.81L586.93,248.31M586.93,248.31L583.18,254.81M583.18,254.81L575.68,254.81M583.18,254.8L586.93,261.3M586.93,261.3L583.18,267.8M583.18,267.8L575.68,267.8M583.18,267.8L586.93,274.3M586.93,274.3L583.18,280.79M583.18,280.79L575.68,280.79M583.18,280.79L586.93,287.29M586.93,287.29L583.18,293.79M583.18,293.79L575.68,293.79M583.18,293.79L586.93,300.29M586.93,300.29L583.18,306.78M583.18,306.78L575.68,306.78M583.18,306.78L586.93,313.28M586.93,313.28L583.18,319.78M583.18,319.78L575.68,319.78M583.18,319.78L586.93,326.28M586.93,326.28L583.18,332.77M583.18,332.77L575.68,332.77M583.18,332.77L586.93,339.27M586.93,339.27L583.18,345.77M583.18,345.77L575.68,345.77M583.18,345.77L586.93,352.27M586.93,352.27L583.18,358.76M583.18,358.76L575.68,358.76M583.18,358.76L586.93,365.26M586.93,365.26L583.18,371.76M583.18,371.76L575.68,371.76M583.18,371.76L586.93,378.26M586.93,378.26L583.18,384.75M583.18,384.75L575.68,384.75M583.18,384.75L586.93,391.25M586.93,391.25L583.18,397.75M583.18,397.75L575.68,397.75M583.18,397.75L586.93,404.25M586.93,404.25L583.18,410.74M583.18,410.74L575.68,410.74M583.18,410.74L586.93,417.24M586.93,417.24L583.18,423.74M583.18,423.74L575.68,423.74M583.18,423.74L586.93,430.24M586.93,430.24L583.18,436.73M583.18,436.73L575.68,436.73M583.18,436.73L586.93,443.23M586.93,443.23L583.18,449.73M583.18,449.73L575.68,449.73M583.18,449.73L586.93,456.23M586.93,456.23L583.18,462.72M583.18,462.72L575.68,462.72M583.18,462.72L586.93,469.22M586.93,469.22L583.18,475.72M583.18,475.72L575.68,475.72M583.18,475.72L586.93,482.22M586.93,482.22L583.18,488.71M583.18,488.71L575.68,488.71M583.18,488.71L586.93,495.21M586.93,495.21L583.18,501.71M583.18,501.71L575.68,501.71M583.18,501.71L586.93,508.21M586.93,508.21L583.18,514.7M583.18,514.7L575.68,514.7M583.18,514.7L586.93,521.2M586.93,521.2L583.18,527.7M583.18,527.7L575.68,527.7M583.18,527.7L586.93,534.2M586.93,534.2L583.18,540.69M583.18,540.69L575.68,540.69M583.18,540.69L586.93,547.19M586.93,547.19L583.18,553.69M583.18,553.69L575.68,553.69M583.18,553.69L586.93,560.19M586.93,560.19L583.18,566.68M583.18,566.68L575.68,566.68M583.18,566.68L586.93,573.18M586.93,573.18L583.18,579.68M583.18,579.68L575.68,579.68M583.18,579.68L586.93,586.18M586.93,586.18L583.18,592.67M583.18,592.67L575.68,592.67M583.18,592.67L586.93,599.17M586.93,599.17L583.18,605.67M583.18,605.67L575.68,605.67M583.18,46.88L586.93,40.39M586.93,40.39L594.43,40.39M594.43,40.39L598.18,46.88M598.18,46.88L594.43,53.38M594.43,53.38L586.93,53.38M586.93,53.38L583.18,46.88M583.18,59.88L586.93,53.38M594.43,53.38L598.18,59.88M598.18,59.88L594.43,66.38M594.43,66.38L586.93,66.38M586.93,66.38L583.18,59.88M583.18,72.88L586.93,66.38M594.43,66.38L598.18,72.88M598.18,72.88L594.43,79.37M594.43,79.37L586.93,79.37M594.43,79.37L598.18,85.87M598.18,85.87L594.43,92.37M594.43,92.37L586.93,92.37M594.43,92.37L598.18,98.86M598.18,98.86L594.43,105.36M594.43,105.36L586.93,105.36M594.43,105.36L598.18,111.86M598.18,111.86L594.43,118.36M594.43,118.36L586.93,118.36M594.43,118.36L598.18,124.86M598.18,124.86L594.43,131.35M594.43,131.35L586.93,131.35M594.43,131.35L598.18,137.85M598.18,137.85L594.43,144.35M594.43,144.35L586.93,144.35M594.43,144.35L598.18,150.84M598.18,150.84L594.43,157.34M594.43,157.34L586.93,157.34M594.43,157.34L598.18,163.84M598.18,163.84L594.43,170.34M594.43,170.34L586.93,170.34M594.43,170.34L598.18,176.84M598.18,176.84L594.43,183.33M594.43,183.33L586.93,183.33M594.43,183.33L598.18,189.83M598.18,189.83L594.43,196.33M594.43,196.33L586.93,196.33M594.43,196.33L598.18,202.82M598.18,202.82L594.43,209.32M594.43,209.32L586.93,209.32M594.43,209.32L598.18,215.82M598.18,215.82L594.43,222.32M594.43,222.32L586.93,222.32M594.43,222.32L598.18,228.81M598.18,228.81L594.43,235.31M594.43,235.31L586.93,235.31M594.43,235.31L598.18,241.81M598.18,241.81L594.43,248.31M594.43,248.31L586.93,248.31M594.43,248.31L598.18,254.8M598.18,254.8L594.43,261.3M594.43,261.3L586.93,261.3M594.43,261.3L598.18,267.8M598.18,267.8L594.43,274.3M594.43,274.3L586.93,274.3M594.43,274.3L598.18,280.79M598.18,280.79L594.43,287.29M594.43,287.29L586.93,287.29M594.43,287.29L598.18,293.79M598.18,293.79L594.43,300.29M594.43,300.29L586.93,300.29M594.43,300.29L598.18,306.78M598.18,306.78L594.43,313.28M594.43,313.28L586.93,313.28M594.43,313.28L598.18,319.78M598.18,319.78L594.43,326.28M594.43,326.28L586.93,326.28M594.43,326.28L598.18,332.77M598.18,332.77L594.43,339.27M594.43,339.27L586.93,339.27M594.43,339.27L598.18,345.77M598.18,345.77L594.43,352.27M594.43,352.27L586.93,352.27M594.43,352.27L598.18,358.76M598.18,358.76L594.43,365.26M594.43,365.26L586.93,365.26M594.43,365.26L598.18,371.76M598.18,371.76L594.43,378.26M594.43,378.26L586.93,378.26M594.43,378.26L598.18,384.75M598.18,384.75L594.43,391.25M594.43,391.25L586.93,391.25M594.43,391.25L598.18,397.75M598.18,397.75L594.43,404.25M594.43,404.25L586.93,404.25M594.43,404.25L598.18,410.74M598.18,410.74L594.43,417.24M594.43,417.24L586.93,417.24M594.43,417.24L598.18,423.74M598.18,423.74L594.43,430.24M594.43,430.24L586.93,430.24M594.43,430.24L598.18,436.73M598.18,436.73L594.43,443.23M594.43,443.23L586.93,443.23M594.43,443.23L598.18,449.73M598.18,449.73L594.43,456.23M594.43,456.23L586.93,456.23M594.43,456.23L598.18,462.72M598.18,462.72L594.43,469.22M594.43,469.22L586.93,469.22M594.43,469.22L598.18,475.72M598.18,475.72L594.43,482.22M594.43,482.22L586.93,482.22M594.43,482.22L598.18,488.71M598.18,488.71L594.43,495.21M594.43,495.21L586.93,495.21M594.43,495.21L598.18,501.71M598.18,501.71L594.43,508.21M594.43,508.21L586.93,508.21M594.43,508.21L598.18,514.7M598.18,514.7L594.43,521.2M594.43,521.2L586.93,521.2M594.43,521.2L598.18,527.7M598.18,527.7L594.43,534.2M594.43,534.2L586.93,534.2M594.43,534.2L598.18,540.69M598.18,540.69L594.43,547.19M594.43,547.19L586.93,547.19M594.43,547.19L598.18,553.69M598.18,553.69L594.43,560.19M594.43,560.19L586.93,560.19M594.43,560.19L598.18,566.68M598.18,566.68L594.43,573.18M594.43,573.18L586.93,573.18M594.43,573.18L598.18,579.68M598.18,579.68L594.43,586.18M594.43,586.18L586.93,586.18M594.43,586.18L598.18,592.67M598.18,592.67L594.43,599.17M594.43,599.17L586.93,599.17M594.43,599.17L598.18,605.67M598.18,605.67L594.43,612.17M594.43,612.17L586.93,612.17M586.93,612.17L583.18,605.67M594.43,40.39L598.18,33.89M598.18,33.89L605.68,33.89M605.68,33.89L609.43,40.39M609.43,40.39L605.68,46.89M605.68,46.89L598.18,46.89M605.68,46.88L609.43,53.38M609.43,53.38L605.68,59.88M605.68,59.88L598.18,59.88M605.68,59.88L609.43,66.38M609.43,66.38L605.68,72.88M605.68,72.88L598.18,72.88M605.68,72.88L609.43,79.37M609.43,79.37L605.68,85.87M605.68,85.87L598.18,85.87M605.68,85.87L609.43,92.37M609.43,92.37L605.68,98.87M605.68,98.87L598.18,98.87M605.68,98.86L609.43,105.36M609.43,105.36L605.68,111.86M605.68,111.86L598.18,111.86M605.68,111.86L609.43,118.36M609.43,118.36L605.68,124.86M605.68,124.86L598.18,124.86M605.68,124.85L609.43,131.35M609.43,131.35L605.68,137.85M605.68,137.85L598.18,137.85M605.68,137.85L609.43,144.35M609.43,144.35L605.68,150.84M605.68,150.84L598.18,150.84M605.68,150.84L609.43,157.34M609.43,157.34L605.68,163.84M605.68,163.84L598.18,163.84M605.68,163.84L609.43,170.34M609.43,170.34L605.68,176.84M605.68,176.84L598.18,176.84M605.68,176.84L609.43,183.33M609.43,183.33L605.68,189.83M605.68,189.83L598.18,189.83M605.68,189.83L609.43,196.33M609.43,196.33L605.68,202.82M605.68,202.82L598.18,202.82M605.68,202.82L609.43,209.32M609.43,209.32L605.68,215.82M605.68,215.82L598.18,215.82M605.68,215.82L609.43,222.32M609.43,222.32L605.68,228.81M605.68,228.81L598.18,228.81M605.68,228.81L609.43,235.31M609.43,235.31L605.68,241.81M605.68,241.81L598.18,241.81M605.68,241.81L609.43,248.31M609.43,248.31L605.68,254.81M605.68,254.81L598.18,254.81M605.68,254.8L609.43,261.3M609.43,261.3L605.68,267.8M605.68,267.8L598.18,267.8M605.68,267.8L609.43,274.3M609.43,274.3L605.68,280.79M605.68,280.79L598.18,280.79M605.68,280.79L609.43,287.29M609.43,287.29L605.68,293.79M605.68,293.79L598.18,293.79M605.68,293.79L609.43,300.29M609.43,300.29L605.68,306.78M605.68,306.78L598.18,306.78M605.68,306.78L609.43,313.28M609.43,313.28L605.68,319.78M605.68,319.78L598.18,319.78M605.68,319.78L609.43,326.28M609.43,326.28L605.68,332.77M605.68,332.77L598.18,332.77M605.68,332.77L609.43,339.27M609.43,339.27L605.68,345.77M605.68,345.77L598.18,345.77M605.68,345.77L609.43,352.27M609.43,352.27L605.68,358.76M605.68,358.76L598.18,358.76M605.68,358.76L609.43,365.26M609.43,365.26L605.68,371.76M605.68,371.76L598.18,371.76M605.68,371.76L609.43,378.26M609.43,378.26L605.68,384.75M605.68,384.75L598.18,384.75M605.68,384.75L609.43,391.25M609.43,391.25L605.68,397.75M605.68,397.75L598.18,397.75M605.68,397.75L609.43,404.25M609.43,404.25L605.68,410.74M605.68,410.74L598.18,410.74M605.68,410.74L609.43,417.24M609.43,417.24L605.68,423.74M605.68,423.74L598.18,423.74M605.68,423.74L609.43,430.24M609.43,430.24L605.68,436.73M605.68,436.73L598.18,436.73M605.68,436.73L609.43,443.23M609.43,443.23L605.68,449.73M605.68,449.73L598.18,449.73M605.68,449.73L609.43,456.23M609.43,456.23L605.68,462.72M605.68,462.72L598.18,462.72M605.68,462.72L609.43,469.22M609.43,469.22L605.68,475.72M605.68,475.72L598.18,475.72M605.68,475.72L609.43,482.22M609.43,482.22L605.68,488.71M605.68,488.71L598.18,488.71M605.68,488.71L609.43,495.21M609.43,495.21L605.68,501.71M605.68,501.71L598.18,501.71M605.68,501.71L609.43,508.21M609.43,508.21L605.68,514.7M605.68,514.7L598.18,514.7M605.68,514.7L609.43,521.2M609.43,521.2L605.68,527.7M605.68,527.7L598.18,527.7M605.68,527.7L609.43,534.2M609.43,534.2L605.68,540.69M605.68,540.69L598.18,540.69M605.68,540.69L609.43,547.19M609.43,547.19L605.68,553.69M605.68,553.69L598.18,553.69M605.68,553.69L609.43,560.19M609.43,560.19L605.68,566.68M605.68,566.68L598.18,566.68M605.68,566.68L609.43,573.18M609.43,573.18L605.68,579.68M605.68,579.68L598.18,579.68M605.68,579.68L609.43,586.18M609.43,586.18L605.68,592.67M605.68,592.67L598.18,592.67M605.68,592.67L609.43,599.17M609.43,599.17L605.68,605.67M605.68,605.67L598.18,605.67M609.43,40.39L616.93,40.39M616.93,40.39L620.68,46.88M620.68,46.88L616.93,53.38M616.93,53.38L609.43,53.38M616.93,53.38L620.68,59.88M620.68,59.88L616.93,66.38M616.93,66.38L609.43,66.38M616.93,66.38L620.68,72.88M620.68,72.88L616.93,79.37M616.93,79.37L609.43,79.37M616.93,79.37L620.68,85.87M620.68,85.87L616.93,92.37M616.93,92.37L609.43,92.37M616.93,92.37L620.68,98.86M620.68,98.86L616.93,105.36M616.93,105.36L609.43,105.36M616.93,105.36L620.68,111.86M620.68,111.86L616.93,118.36M616.93,118.36L609.43,118.36M616.93,118.36L620.68,124.86M620.68,124.86L616.93,131.35M616.93,131.35L609.43,131.35M616.93,131.35L620.68,137.85M620.68,137.85L616.93,144.35M616.93,144.35L609.43,144.35M616.93,144.35L620.68,150.84M620.68,150.84L616.93,157.34M616.93,157.34L609.43,157.34M616.93,157.34L620.68,163.84M620.68,163.84L616.93,170.34M616.93,170.34L609.43,170.34M616.93,170.34L620.68,176.84M620.68,176.84L616.93,183.33M616.93,183.33L609.43,183.33M616.93,183.33L620.68,189.83M620.68,189.83L616.93,196.33M616.93,196.33L609.43,196.33M616.93,196.33L620.68,202.82M620.68,202.82L616.93,209.32M616.93,209.32L609.43,209.32M616.93,209.32L620.68,215.82M620.68,215.82L616.93,222.32M616.93,222.32L609.43,222.32M616.93,222.32L620.68,228.81M620.68,228.81L616.93,235.31M616.93,235.31L609.43,235.31M616.93,235.31L620.68,241.81M620.68,241.81L616.93,248.31M616.93,248.31L609.43,248.31M616.93,248.31L620.68,254.8M620.68,254.8L616.93,261.3M616.93,261.3L609.43,261.3M616.93,261.3L620.68,267.8M620.68,267.8L616.93,274.3M616.93,274.3L609.43,274.3M616.93,274.3L620.68,280.79M620.68,280.79L616.93,287.29M616.93,287.29L609.43,287.29M616.93,287.29L620.68,293.79M620.68,293.79L616.93,300.29M616.93,300.29L609.43,300.29M616.93,300.29L620.68,306.78M620.68,306.78L616.93,313.28M616.93,313.28L609.43,313.28M616.93,313.28L620.68,319.78M620.68,319.78L616.93,326.28M616.93,326.28L609.43,326.28M616.93,326.28L620.68,332.77M620.68,332.77L616.93,339.27M616.93,339.27L609.43,339.27M616.93,339.27L620.68,345.77M620.68,345.77L616.93,352.27M616.93,352.27L609.43,352.27M616.93,352.27L620.68,358.76M620.68,358.76L616.93,365.26M616.93,365.26L609.43,365.26M616.93,365.26L620.68,371.76M620.68,371.76L616.93,378.26M616.93,378.26L609.43,378.26M616.93,378.26L620.68,384.75M620.68,384.75L616.93,391.25M616.93,391.25L609.43,391.25M616.93,391.25L620.68,397.75M620.68,397.75L616.93,404.25M616.93,404.25L609.43,404.25M616.93,404.25L620.68,410.74M620.68,410.74L616.93,417.24M616.93,417.24L609.43,417.24M616.93,417.24L620.68,423.74M620.68,423.74L616.93,430.24M616.93,430.24L609.43,430.24M616.93,430.24L620.68,436.73M620.68,436.73L616.93,443.23M616.93,443.23L609.43,443.23M616.93,443.23L620.68,449.73M620.68,449.73L616.93,456.23M616.93,456.23L609.43,456.23M616.93,456.23L620.68,462.72M620.68,462.72L616.93,469.22M616.93,469.22L609.43,469.22M616.93,469.22L620.68,475.72M620.68,475.72L616.93,482.22M616.93,482.22L609.43,482.22M616.93,482.22L620.68,488.71M620.68,488.71L616.93,495.21M616.93,495.21L609.43,495.21M616.93,495.21L620.68,501.71M620.68,501.71L616.93,508.21M616.93,508.21L609.43,508.21M616.93,508.21L620.68,514.7M620.68,514.7L616.93,521.2M616.93,521.2L609.43,521.2M616.93,521.2L620.68,527.7M620.68,527.7L616.93,534.2M616.93,534.2L609.43,534.2M616.93,534.2L620.68,540.69M620.68,540.69L616.93,547.19M616.93,547.19L609.43,547.19M616.93,547.19L620.68,553.69M620.68,553.69L616.93,560.19M616.93,560.19L609.43,560.19M616.93,560.19L620.68,566.68M620.68,566.68L616.93,573.18M616.93,573.18L609.43,573.18M616.93,573.18L620.68,579.68M620.68,579.68L616.93,586.18M616.93,586.18L609.43,586.18M616.93,586.18L620.68,592.67M620.68,592.67L616.93,599.17M616.93,599.17L609.43,599.17M616.93,599.17L620.68,605.67M620.68,605.67L616.93,612.17M616.93,612.17L609.43,612.17M609.43,612.17L605.68,605.67M620.68,46.88L628.18,46.88M628.18,46.88L631.93,53.38M631.93,53.38L628.18,59.88M628.18,59.88L620.68,59.88M620.68,85.87L628.18,85.87M628.18,85.87L631.93,92.37M631.93,92.37L628.18,98.87M628.18,98.87L620.68,98.87M628.18,98.86L631.93,105.36M631.93,105.36L628.18,111.86M628.18,111.86L620.68,111.86M628.18,111.86L631.93,118.36M631.93,118.36L628.18,124.86M628.18,124.86L620.68,124.86M628.18,124.85L631.93,131.35M631.93,131.35L628.18,137.85M628.18,137.85L620.68,137.85M628.18,137.85L631.93,144.35M631.93,144.35L628.18,150.84M628.18,150.84L620.68,150.84M628.18,150.84L631.93,157.34M631.93,157.34L628.18,163.84M628.18,163.84L620.68,163.84M628.18,163.84L631.93,170.34M631.93,170.34L628.18,176.84M628.18,176.84L620.68,176.84M628.18,176.84L631.93,183.33M631.93,183.33L628.18,189.83M628.18,189.83L620.68,189.83M628.18,189.83L631.93,196.33M631.93,196.33L628.18,202.82M628.18,202.82L620.68,202.82M628.18,202.82L631.93,209.32M631.93,209.32L628.18,215.82M628.18,215.82L620.68,215.82M628.18,215.82L631.93,222.32M631.93,222.32L628.18,228.81M628.18,228.81L620.68,228.81M628.18,228.81L631.93,235.31M631.93,235.31L628.18,241.81M628.18,241.81L620.68,241.81M628.18,241.81L631.93,248.31M631.93,248.31L628.18,254.81M628.18,254.81L620.68,254.81M628.18,254.8L631.93,261.3M631.93,261.3L628.18,267.8M628.18,267.8L620.68,267.8M628.18,267.8L631.93,274.3M631.93,274.3L628.18,280.79M628.18,280.79L620.68,280.79M628.18,280.79L631.93,287.29M631.93,287.29L628.18,293.79M628.18,293.79L620.68,293.79M628.18,293.79L631.93,300.29M631.93,300.29L628.18,306.78M628.18,306.78L620.68,306.78M628.18,306.78L631.93,313.28M631.93,313.28L628.18,319.78M628.18,319.78L620.68,319.78M628.18,319.78L631.93,326.28M631.93,326.28L628.18,332.77M628.18,332.77L620.68,332.77M628.18,332.77L631.93,339.27M631.93,339.27L628.18,345.77M628.18,345.77L620.68,345.77M628.18,345.77L631.93,352.27M631.93,352.27L628.18,358.76M628.18,358.76L620.68,358.76M628.18,358.76L631.93,365.26M631.93,365.26L628.18,371.76M628.18,371.76L620.68,371.76M628.18,371.76L631.93,378.26M631.93,378.26L628.18,384.75M628.18,384.75L620.68,384.75M628.18,384.75L631.93,391.25M631.93,391.25L628.18,397.75M628.18,397.75L620.68,397.75M628.18,397.75L631.93,404.25M631.93,404.25L628.18,410.74M628.18,410.74L620.68,410.74M628.18,410.74L631.93,417.24M631.93,417.24L628.18,423.74M628.18,423.74L620.68,423.74M628.18,423.74L631.93,430.24M631.93,430.24L628.18,436.73M628.18,436.73L620.68,436.73M628.18,436.73L631.93,443.23M631.93,443.23L628.18,449.73M628.18,449.73L620.68,449.73M628.18,449.73L631.93,456.23M631.93,456.23L628.18,462.72M628.18,462.72L620.68,462.72M628.18,462.72L631.93,469.22M631.93,469.22L628.18,475.72M628.18,475.72L620.68,475.72M628.18,475.72L631.93,482.22M631.93,482.22L628.18,488.71M628.18,488.71L620.68,488.71M628.18,488.71L631.93,495.21M631.93,495.21L628.18,501.71M628.18,501.71L620.68,501.71M628.18,501.71L631.93,508.21M631.93,508.21L628.18,514.7M628.18,514.7L620.68,514.7M628.18,514.7L631.93,521.2M631.93,521.2L628.18,527.7M628.18,527.7L620.68,527.7M628.18,527.7L631.93,534.2M631.93,534.2L628.18,540.69M628.18,540.69L620.68,540.69M628.18,540.69L631.93,547.19M631.93,547.19L628.18,553.69M628.18,553.69L620.68,553.69M628.18,553.69L631.93,560.19M631.93,560.19L628.18,566.68M628.18,566.68L620.68,566.68M628.18,566.68L631.93,573.18M631.93,573.18L628.18,579.68M628.18,579.68L620.68,579.68M628.18,579.68L631.93,586.18M631.93,586.18L628.18,592.67M628.18,592.67L620.68,592.67M628.18,592.67L631.93,599.17M631.93,599.17L628.18,605.67M628.18,605.67L620.68,605.67M628.18,605.67L631.93,612.17M631.93,612.17L628.18,618.66M628.18,618.66L620.68,618.66M620.68,618.66L616.93,612.17M631.93,92.37L639.43,92.37M639.43,92.37L643.18,98.86M643.18,98.86L639.43,105.36M639.43,105.36L631.93,105.36M639.43,105.36L643.18,111.86M643.18,111.86L639.43,118.36M639.43,118.36L631.93,118.36M639.43,118.36L643.18,124.86M643.18,124.86L639.43,131.35M639.43,131.35L631.93,131.35M639.43,131.35L643.18,137.85M643.18,137.85L639.43,144.35M639.43,144.35L631.93,144.35M639.43,144.35L643.18,150.84M643.18,150.84L639.43,157.34M639.43,157.34L631.93,157.34M639.43,157.34L643.18,163.84M643.18,163.84L639.43,170.34M639.43,170.34L631.93,170.34M639.43,170.34L643.18,176.84M643.18,176.84L639.43,183.33M639.43,183.33L631.93,183.33M639.43,183.33L643.18,189.83M643.18,189.83L639.43,196.33M639.43,196.33L631.93,196.33M639.43,196.33L643.18,202.82M643.18,202.82L639.43,209.32M639.43,209.32L631.93,209.32M639.43,209.32L643.18,215.82M643.18,215.82L639.43,222.32M639.43,222.32L631.93,222.32M639.43,222.32L643.18,228.81M643.18,228.81L639.43,235.31M639.43,235.31L631.93,235.31M639.43,235.31L643.18,241.81M643.18,241.81L639.43,248.31M639.43,248.31L631.93,248.31M639.43,248.31L643.18,254.8M643.18,254.8L639.43,261.3M639.43,261.3L631.93,261.3M639.43,261.3L643.18,267.8M643.18,267.8L639.43,274.3M639.43,274.3L631.93,274.3M639.43,274.3L643.18,280.79M643.18,280.79L639.43,287.29M639.43,287.29L631.93,287.29M639.43,287.29L643.18,293.79M643.18,293.79L639.43,300.29M639.43,300.29L631.93,300.29M639.43,300.29L643.18,306.78M643.18,306.78L639.43,313.28M639.43,313.28L631.93,313.28M639.43,313.28L643.18,319.78M643.18,319.78L639.43,326.28M639.43,326.28L631.93,326.28M639.43,326.28L643.18,332.77M643.18,332.77L639.43,339.27M639.43,339.27L631.93,339.27M639.43,339.27L643.18,345.77M643.18,345.77L639.43,352.27M639.43,352.27L631.93,352.27M639.43,352.27L643.18,358.76M643.18,358.76L639.43,365.26M639.43,365.26L631.93,365.26M639.43,365.26L643.18,371.76M643.18,371.76L639.43,378.26M639.43,378.26L631.93,378.26M639.43,378.26L643.18,384.75M643.18,384.75L639.43,391.25M639.43,391.25L631.93,391.25M639.43,391.25L643.18,397.75M643.18,397.75L639.43,404.25M639.43,404.25L631.93,404.25M639.43,404.25L643.18,410.74M643.18,410.74L639.43,417.24M639.43,417.24L631.93,417.24M639.43,417.24L643.18,423.74M643.18,423.74L639.43,430.24M639.43,430.24L631.93,430.24M639.43,430.24L643.18,436.73M643.18,436.73L639.43,443.23M639.43,443.23L631.93,443.23M639.43,443.23L643.18,449.73M643.18,449.73L639.43,456.23M639.43,456.23L631.93,456.23M639.43,456.23L643.18,462.72M643.18,462.72L639.43,469.22M639.43,469.22L631.93,469.22M639.43,469.22L643.18,475.72M643.18,475.72L639.43,482.22M639.43,482.22L631.93,482.22M639.43,482.22L643.18,488.71M643.18,488.71L639.43,495.21M639.43,495.21L631.93,495.21M639.43,495.21L643.18,501.71M643.18,501.71L639.43,508.21M639.43,508.21L631.93,508.21M639.43,508.21L643.18,514.7M643.18,514.7L639.43,521.2M639.43,521.2L631.93,521.2M639.43,521.2L643.18,527.7M643.18,527.7L639.43,534.2M639.43,534.2L631.93,534.2M639.43,534.2L643.18,540.69M643.18,540.69L639.43,547.19M639.43,547.19L631.93,547.19M639.43,547.19L643.18,553.69M643.18,553.69L639.43,560.19M639.43,560.19L631.93,560.19M639.43,560.19L643.18,566.68M643.18,566.68L639.43,573.18M639.43,573.18L631.93,573.18M639.43,573.18L643.18,579.68M643.18,579.68L639.43,586.18M639.43,586.18L631.93,586.18M639.43,586.18L643.18,592.67M643.18,592.67L639.43,599.17M639.43,599.17L631.93,599.17M639.43,599.17L643.18,605.67M643.18,605.67L639.43,612.17M639.43,612.17L631.93,612.17M643.18,98.86L650.68,98.86M650.68,98.86L654.43,105.36M654.43,105.36L650.68,111.86M650.68,111.86L643.18,111.86M650.68,111.86L654.43,118.36M654.43,118.36L650.68,124.86M650.68,124.86L643.18,124.86M650.68,124.85L654.43,131.35M654.43,131.35L650.68,137.85M650.68,137.85L643.18,137.85M650.68,137.85L654.43,144.35M654.43,144.35L650.68,150.84M650.68,150.84L643.18,150.84M650.68,150.84L654.43,157.34M654.43,157.34L650.68,163.84M650.68,163.84L643.18,163.84M650.68,163.84L654.43,170.34M654.43,170.34L650.68,176.84M650.68,176.84L643.18,176.84M650.68,176.84L654.43,183.33M654.43,183.33L650.68,189.83M650.68,189.83L643.18,189.83M650.68,189.83L654.43,196.33M654.43,196.33L650.68,202.82M650.68,202.82L643.18,202.82M650.68,202.82L654.43,209.32M654.43,209.32L650.68,215.82M650.68,215.82L643.18,215.82M650.68,215.82L654.43,222.32M654.43,222.32L650.68,228.81M650.68,228.81L643.18,228.81M650.68,228.81L654.43,235.31M654.43,235.31L650.68,241.81M650.68,241.81L643.18,241.81M650.68,241.81L654.43,248.31M654.43,248.31L650.68,254.81M650.68,254.81L643.18,254.81M650.68,254.8L654.43,261.3M654.43,261.3L650.68,267.8M650.68,267.8L643.18,267.8M650.68,267.8L654.43,274.3M654.43,274.3L650.68,280.79M650.68,280.79L643.18,280.79M650.68,280.79L654.43,287.29M654.43,287.29L650.68,293.79M650.68,293.79L643.18,293.79M650.68,293.79L654.43,300.29M654.43,300.29L650.68,306.78M650.68,306.78L643.18,306.78M650.68,306.78L654.43,313.28M654.43,313.28L650.68,319.78M650.68,319.78L643.18,319.78M650.68,319.78L654.43,326.28M654.43,326.28L650.68,332.77M650.68,332.77L643.18,332.77M650.68,332.77L654.43,339.27M654.43,339.27L650.68,345.77M650.68,345.77L643.18,345.77M650.68,345.77L654.43,352.27M654.43,352.27L650.68,358.76M650.68,358.76L643.18,358.76M650.68,358.76L654.43,365.26M654.43,365.26L650.68,371.76M650.68,371.76L643.18,371.76M650.68,371.76L654.43,378.26M654.43,378.26L650.68,384.75M650.68,384.75L643.18,384.75M650.68,384.75L654.43,391.25M654.43,391.25L650.68,397.75M650.68,397.75L643.18,397.75M650.68,397.75L654.43,404.25M654.43,404.25L650.68,410.74M650.68,410.74L643.18,410.74M650.68,410.74L654.43,417.24M654.43,417.24L650.68,423.74M650.68,423.74L643.18,423.74M650.68,423.74L654.43,430.24M654.43,430.24L650.68,436.73M650.68,436.73L643.18,436.73M650.68,436.73L654.43,443.23M654.43,443.23L650.68,449.73M650.68,449.73L643.18,449.73M650.68,449.73L654.43,456.23M654.43,456.23L650.68,462.72M650.68,462.72L643.18,462.72M650.68,462.72L654.43,469.22M654.43,469.22L650.68,475.72M650.68,475.72L643.18,475.72M650.68,475.72L654.43,482.22M654.43,482.22L650.68,488.71M650.68,488.71L643.18,488.71M650.68,488.71L654.43,495.21M654.43,495.21L650.68,501.71M650.68,501.71L643.18,501.71M650.68,501.71L654.43,508.21M654.43,508.21L650.68,514.7M650.68,514.7L643.18,514.7M650.68,514.7L654.43,521.2M654.43,521.2L650.68,527.7M650.68,527.7L643.18,527.7M650.68,527.7L654.43,534.2M654.43,534.2L650.68,540.69M650.68,540.69L643.18,540.69M650.68,540.69L654.43,547.19M654.43,547.19L650.68,553.69M650.68,553.69L643.18,553.69M650.68,553.69L654.43,560.19M654.43,560.19L650.68,566.68M650.68,566.68L643.18,566.68M650.68,566.68L654.43,573.18M654.43,573.18L650.68,579.68M650.68,579.68L643.18,579.68M650.68,579.68L654.43,586.18M654.43,586.18L650.68,592.67M650.68,592.67L643.18,592.67M650.68,592.67L654.43,599.17M654.43,599.17L650.68,605.67M650.68,605.67L643.18,605.67M654.43,105.36L661.93,105.36M661.93,105.36L665.68,111.86M665.68,111.86L661.93,118.36M661.93,118.36L654.43,118.36M661.93,118.36L665.68,124.86M665.68,124.86L661.93,131.35M661.93,131.35L654.43,131.35M661.93,131.35L665.68,137.85M665.68,137.85L661.93,144.35M661.93,144.35L654.43,144.35M661.93,144.35L665.68,150.84M665.68,150.84L661.93,157.34M661.93,157.34L654.43,157.34M661.93,157.34L665.68,163.84M665.68,163.84L661.93,170.34M661.93,170.34L654.43,170.34M661.93,170.34L665.68,176.84M665.68,176.84L661.93,183.33M661.93,183.33L654.43,183.33M661.93,183.33L665.68,189.83M665.68,189.83L661.93,196.33M661.93,196.33L654.43,196.33M661.93,196.33L665.68,202.82M665.68,202.82L661.93,209.32M661.93,209.32L654.43,209.32M661.93,209.32L665.68,215.82M665.68,215.82L661.93,222.32M661.93,222.32L654.43,222.32M661.93,222.32L665.68,228.81M665.68,228.81L661.93,235.31M661.93,235.31L654.43,235.31M661.93,235.31L665.68,241.81M665.68,241.81L661.93,248.31M661.93,248.31L654.43,248.31M661.93,248.31L665.68,254.8M665.68,254.8L661.93,261.3M661.93,261.3L654.43,261.3M661.93,261.3L665.68,267.8M665.68,267.8L661.93,274.3M661.93,274.3L654.43,274.3M661.93,274.3L665.68,280.79M665.68,280.79L661.93,287.29M661.93,287.29L654.43,287.29M661.93,287.29L665.68,293.79M665.68,293.79L661.93,300.29M661.93,300.29L654.43,300.29M661.93,300.29L665.68,306.78M665.68,306.78L661.93,313.28M661.93,313.28L654.43,313.28M661.93,313.28L665.68,319.78M665.68,319.78L661.93,326.28M661.93,326.28L654.43,326.28M661.93,326.28L665.68,332.77M665.68,332.77L661.93,339.27M661.93,339.27L654.43,339.27M661.93,339.27L665.68,345.77M665.68,345.77L661.93,352.27M661.93,352.27L654.43,352.27M661.93,352.27L665.68,358.76M665.68,358.76L661.93,365.26M661.93,365.26L654.43,365.26M661.93,365.26L665.68,371.76M665.68,371.76L661.93,378.26M661.93,378.26L654.43,378.26M661.93,378.26L665.68,384.75M665.68,384.75L661.93,391.25M661.93,391.25L654.43,391.25M661.93,391.25L665.68,397.75M665.68,397.75L661.93,404.25M661.93,404.25L654.43,404.25M661.93,404.25L665.68,410.74M665.68,410.74L661.93,417.24M661.93,417.24L654.43,417.24M661.93,417.24L665.68,423.74M665.68,423.74L661.93,430.24M661.93,430.24L654.43,430.24M661.93,430.24L665.68,436.73M665.68,436.73L661.93,443.23M661.93,443.23L654.43,443.23M661.93,443.23L665.68,449.73M665.68,449.73L661.93,456.23M661.93,456.23L654.43,456.23M654.43,469.22L661.93,469.22M661.93,469.22L665.68,475.72M665.68,475.72L661.93,482.22M661.93,482.22L654.43,482.22M661.93,482.22L665.68,488.71M665.68,488.71L661.93,495.21M661.93,495.21L654.43,495.21M661.93,495.21L665.68,501.71M665.68,501.71L661.93,508.21M661.93,508.21L654.43,508.21M661.93,508.21L665.68,514.7M665.68,514.7L661.93,521.2M661.93,521.2L654.43,521.2M661.93,521.2L665.68,527.7M665.68,527.7L661.93,534.2M661.93,534.2L654.43,534.2M661.93,534.2L665.68,540.69M665.68,540.69L661.93,547.19M661.93,547.19L654.43,547.19M661.93,547.19L665.68,553.69M665.68,553.69L661.93,560.19M661.93,560.19L654.43,560.19M661.93,560.19L665.68,566.68M665.68,566.68L661.93,573.18M661.93,573.18L654.43,573.18M661.93,573.18L665.68,579.68M665.68,579.68L661.93,586.18M661.93,586.18L654.43,586.18M661.93,586.18L665.68,592.67M665.68,592.67L661.93,599.17M661.93,599.17L654.43,599.17M661.93,599.17L665.68,605.67M665.68,605.67L661.93,612.17M661.93,612.17L654.43,612.17M654.43,612.17L650.68,605.67M665.68,124.85L673.18,124.85M673.18,124.85L676.93,131.35M676.93,131.35L673.18,137.85M673.18,137.85L665.68,137.85M673.18,137.85L676.93,144.35M676.93,144.35L673.18,150.84M673.18,150.84L665.68,150.84M673.18,150.84L676.93,157.34M676.93,157.34L673.18,163.84M673.18,163.84L665.68,163.84M673.18,163.84L676.93,170.34M676.93,170.34L673.18,176.84M673.18,176.84L665.68,176.84M673.18,176.84L676.93,183.33M676.93,183.33L673.18,189.83M673.18,189.83L665.68,189.83M673.18,189.83L676.93,196.33M676.93,196.33L673.18,202.82M673.18,202.82L665.68,202.82M673.18,202.82L676.93,209.32M676.93,209.32L673.18,215.82M673.18,215.82L665.68,215.82M673.18,215.82L676.93,222.32M676.93,222.32L673.18,228.81M673.18,228.81L665.68,228.81M673.18,228.81L676.93,235.31M676.93,235.31L673.18,241.81M673.18,241.81L665.68,241.81M673.18,241.81L676.93,248.31M676.93,248.31L673.18,254.81M673.18,254.81L665.68,254.81M673.18,254.8L676.93,261.3M676.93,261.3L673.18,267.8M673.18,267.8L665.68,267.8M673.18,267.8L676.93,274.3M676.93,274.3L673.18,280.79M673.18,280.79L665.68,280.79M673.18,280.79L676.93,287.29M676.93,287.29L673.18,293.79M673.18,293.79L665.68,293.79M673.18,293.79L676.93,300.29M676.93,300.29L673.18,306.78M673.18,306.78L665.68,306.78M673.18,306.78L676.93,313.28M676.93,313.28L673.18,319.78M673.18,319.78L665.68,319.78M673.18,319.78L676.93,326.28M676.93,326.28L673.18,332.77M673.18,332.77L665.68,332.77M673.18,332.77L676.93,339.27M676.93,339.27L673.18,345.77M673.18,345.77L665.68,345.77M673.18,345.77L676.93,352.27M676.93,352.27L673.18,358.76M673.18,358.76L665.68,358.76M673.18,358.76L676.93,365.26M676.93,365.26L673.18,371.76M673.18,371.76L665.68,371.76M673.18,371.76L676.93,378.26M676.93,378.26L673.18,384.75M673.18,384.75L665.68,384.75M673.18,384.75L676.93,391.25M676.93,391.25L673.18,397.75M673.18,397.75L665.68,397.75M673.18,397.75L676.93,404.25M676.93,404.25L673.18,410.74M673.18,410.74L665.68,410.74M673.18,410.74L676.93,417.24M676.93,417.24L673.18,423.74M673.18,423.74L665.68,423.74M673.18,423.74L676.93,430.24M676.93,430.24L673.18,436.73M673.18,436.73L665.68,436.73M673.18,436.73L676.93,443.23M676.93,443.23L673.18,449.73M673.18,449.73L665.68,449.73M665.68,488.71L673.18,488.71M673.18,488.71L676.93,495.21M676.93,495.21L673.18,501.71M673.18,501.71L665.68,501.71M673.18,501.71L676.93,508.21M676.93,508.21L673.18,514.7M673.18,514.7L665.68,514.7M673.18,514.7L676.93,521.2M676.93,521.2L673.18,527.7M673.18,527.7L665.68,527.7M673.18,527.7L676.93,534.2M676.93,534.2L673.18,540.69M673.18,540.69L665.68,540.69M673.18,540.69L676.93,547.19M676.93,547.19L673.18,553.69M673.18,553.69L665.68,553.69M673.18,553.69L676.93,560.19M676.93,560.19L673.18,566.68M673.18,566.68L665.68,566.68M673.18,566.68L676.93,573.18M676.93,573.18L673.18,579.68M673.18,579.68L665.68,579.68M673.18,579.68L676.93,586.18M676.93,586.18L673.18,592.67M673.18,592.67L665.68,592.67M673.18,592.67L676.93,599.17M676.93,599.17L673.18,605.67M673.18,605.67L665.68,605.67M673.18,124.86L676.93,118.36M676.93,118.36L684.43,118.36M684.43,118.36L688.18,124.86M688.18,124.86L684.43,131.35M684.43,131.35L676.93,131.35M684.43,131.35L688.18,137.85M688.18,137.85L684.43,144.35M684.43,144.35L676.93,144.35M684.43,144.35L688.18,150.84M688.18,150.84L684.43,157.34M684.43,157.34L676.93,157.34M684.43,157.34L688.18,163.84M688.18,163.84L684.43,170.34M684.43,170.34L676.93,170.34M684.43,170.34L688.18,176.84M688.18,176.84L684.43,183.33M684.43,183.33L676.93,183.33M684.43,183.33L688.18,189.83M688.18,189.83L684.43,196.33M684.43,196.33L676.93,196.33M684.43,196.33L688.18,202.82M688.18,202.82L684.43,209.32M684.43,209.32L676.93,209.32M684.43,209.32L688.18,215.82M688.18,215.82L684.43,222.32M684.43,222.32L676.93,222.32M684.43,222.32L688.18,228.81M688.18,228.81L684.43,235.31M684.43,235.31L676.93,235.31M684.43,235.31L688.18,241.81M688.18,241.81L684.43,248.31M684.43,248.31L676.93,248.31M684.43,248.31L688.18,254.8M688.18,254.8L684.43,261.3M684.43,261.3L676.93,261.3M684.43,261.3L688.18,267.8M688.18,267.8L684.43,274.3M684.43,274.3L676.93,274.3M684.43,274.3L688.18,280.79M688.18,280.79L684.43,287.29M684.43,287.29L676.93,287.29M684.43,287.29L688.18,293.79M688.18,293.79L684.43,300.29M684.43,300.29L676.93,300.29M684.43,300.29L688.18,306.78M688.18,306.78L684.43,313.28M684.43,313.28L676.93,313.28M684.43,313.28L688.18,319.78M688.18,319.78L684.43,326.28M684.43,326.28L676.93,326.28M684.43,326.28L688.18,332.77M688.18,332.77L684.43,339.27M684.43,339.27L676.93,339.27M684.43,339.27L688.18,345.77M688.18,345.77L684.43,352.27M684.43,352.27L676.93,352.27M684.43,352.27L688.18,358.76M688.18,358.76L684.43,365.26M684.43,365.26L676.93,365.26M684.43,365.26L688.18,371.76M688.18,371.76L684.43,378.26M684.43,378.26L676.93,378.26M684.43,378.26L688.18,384.75M688.18,384.75L684.43,391.25M684.43,391.25L676.93,391.25M684.43,391.25L688.18,397.75M688.18,397.75L684.43,404.25M684.43,404.25L676.93,404.25M684.43,404.25L688.18,410.74M688.18,410.74L684.43,417.24M684.43,417.24L676.93,417.24M684.43,417.24L688.18,423.74M688.18,423.74L684.43,430.24M684.43,430.24L676.93,430.24M684.43,430.24L688.18,436.73M688.18,436.73L684.43,443.23M684.43,443.23L676.93,443.23M676.93,495.21L684.43,495.21M684.43,495.21L688.18,501.71M688.18,501.71L684.43,508.21M684.43,508.21L676.93,508.21M684.43,508.21L688.18,514.7M688.18,514.7L684.43,521.2M684.43,521.2L676.93,521.2M684.43,521.2L688.18,527.7M688.18,527.7L684.43,534.2M684.43,534.2L676.93,534.2M684.43,534.2L688.18,540.69M688.18,540.69L684.43,547.19M684.43,547.19L676.93,547.19M684.43,547.19L688.18,553.69M688.18,553.69L684.43,560.19M684.43,560.19L676.93,560.19M684.43,560.19L688.18,566.68M688.18,566.68L684.43,573.18M684.43,573.18L676.93,573.18M684.43,573.18L688.18,579.68M688.18,579.68L684.43,586.18M684.43,586.18L676.93,586.18M684.43,586.18L688.18,592.67M688.18,592.67L684.43,599.17M684.43,599.17L676.93,599.17M688.18,124.85L695.68,124.85M695.68,124.85L699.43,131.35M699.43,131.35L695.68,137.85M695.68,137.85L688.18,137.85M695.68,137.85L699.43,144.35M699.43,144.35L695.68,150.84M695.68,150.84L688.18,150.84M695.68,150.84L699.43,157.34M699.43,157.34L695.68,163.84M695.68,163.84L688.18,163.84M695.68,163.84L699.43,170.34M699.43,170.34L695.68,176.84M695.68,176.84L688.18,176.84M695.68,176.84L699.43,183.33M699.43,183.33L695.68,189.83M695.68,189.83L688.18,189.83M695.68,189.83L699.43,196.33M699.43,196.33L695.68,202.82M695.68,202.82L688.18,202.82M695.68,202.82L699.43,209.32M699.43,209.32L695.68,215.82M695.68,215.82L688.18,215.82M695.68,215.82L699.43,222.32M699.43,222.32L695.68,228.81M695.68,228.81L688.18,228.81M695.68,228.81L699.43,235.31M699.43,235.31L695.68,241.81M695.68,241.81L688.18,241.81M695.68,241.81L699.43,248.31M699.43,248.31L695.68,254.81M695.68,254.81L688.18,254.81M695.68,254.8L699.43,261.3M699.43,261.3L695.68,267.8M695.68,267.8L688.18,267.8M695.68,267.8L699.43,274.3M699.43,274.3L695.68,280.79M695.68,280.79L688.18,280.79M695.68,280.79L699.43,287.29M699.43,287.29L695.68,293.79M695.68,293.79L688.18,293.79M695.68,293.79L699.43,300.29M699.43,300.29L695.68,306.78M695.68,306.78L688.18,306.78M695.68,306.78L699.43,313.28M699.43,313.28L695.68,319.78M695.68,319.78L688.18,319.78M695.68,319.78L699.43,326.28M699.43,326.28L695.68,332.77M695.68,332.77L688.18,332.77M695.68,332.77L699.43,339.27M699.43,339.27L695.68,345.77M695.68,345.77L688.18,345.77M695.68,345.77L699.43,352.27M699.43,352.27L695.68,358.76M695.68,358.76L688.18,358.76M695.68,358.76L699.43,365.26M699.43,365.26L695.68,371.76M695.68,371.76L688.18,371.76M695.68,371.76L699.43,378.26M699.43,378.26L695.68,384.75M695.68,384.75L688.18,384.75M695.68,384.75L699.43,391.25M699.43,391.25L695.68,397.75M695.68,397.75L688.18,397.75M695.68,397.75L699.43,404.25M699.43,404.25L695.68,410.74M695.68,410.74L688.18,410.74M695.68,410.74L699.43,417.24M699.43,417.24L695.68,423.74M695.68,423.74L688.18,423.74M695.68,423.74L699.43,430.24M699.43,430.24L695.68,436.73M695.68,436.73L688.18,436.73M688.18,501.71L695.68,501.71M695.68,501.71L699.43,508.21M699.43,508.21L695.68,514.7M695.68,514.7L688.18,514.7M695.68,514.7L699.43,521.2M699.43,521.2L695.68,527.7M695.68,527.7L688.18,527.7M695.68,527.7L699.43,534.2M699.43,534.2L695.68,540.69M695.68,540.69L688.18,540.69M695.68,540.69L699.43,547.19M699.43,547.19L695.68,553.69M695.68,553.69L688.18,553.69M695.68,553.69L699.43,560.19M699.43,560.19L695.68,566.68M695.68,566.68L688.18,566.68M695.68,566.68L699.43,573.18M699.43,573.18L695.68,579.68M695.68,579.68L688.18,579.68M699.43,144.35L706.93,144.35M706.93,144.35L710.68,150.84M710.68,150.84L706.93,157.34M706.93,157.34L699.43,157.34M706.93,157.34L710.68,163.84M710.68,163.84L706.93,170.34M706.93,170.34L699.43,170.34M706.93,170.34L710.68,176.84M710.68,176.84L706.93,183.33M706.93,183.33L699.43,183.33M706.93,183.33L710.68,189.83M710.68,189.83L706.93,196.33M706.93,196.33L699.43,196.33M706.93,196.33L710.68,202.82M710.68,202.82L706.93,209.32M706.93,209.32L699.43,209.32M706.93,209.32L710.68,215.82M710.68,215.82L706.93,222.32M706.93,222.32L699.43,222.32M706.93,222.32L710.68,228.81M710.68,228.81L706.93,235.31M706.93,235.31L699.43,235.31M706.93,235.31L710.68,241.81M710.68,241.81L706.93,248.31M706.93,248.31L699.43,248.31M706.93,248.31L710.68,254.8M710.68,254.8L706.93,261.3M706.93,261.3L699.43,261.3M706.93,261.3L710.68,267.8M710.68,267.8L706.93,274.3M706.93,274.3L699.43,274.3M706.93,274.3L710.68,280.79M710.68,280.79L706.93,287.29M706.93,287.29L699.43,287.29M706.93,287.29L710.68,293.79M710.68,293.79L706.93,300.29M706.93,300.29L699.43,300.29M706.93,300.29L710.68,306.78M710.68,306.78L706.93,313.28M706.93,313.28L699.43,313.28M706.93,313.28L710.68,319.78M710.68,319.78L706.93,326.28M706.93,326.28L699.43,326.28M706.93,326.28L710.68,332.77M710.68,332.77L706.93,339.27M706.93,339.27L699.43,339.27M706.93,339.27L710.68,345.77M710.68,345.77L706.93,352.27M706.93,352.27L699.43,352.27M706.93,352.27L710.68,358.76M710.68,358.76L706.93,365.26M706.93,365.26L699.43,365.26M706.93,365.26L710.68,371.76M710.68,371.76L706.93,378.26M706.93,378.26L699.43,378.26M706.93,378.26L710.68,384.75M710.68,384.75L706.93,391.25M706.93,391.25L699.43,391.25M706.93,391.25L710.68,397.75M710.68,397.75L706.93,404.25M706.93,404.25L699.43,404.25M706.93,404.25L710.68,410.74M710.68,410.74L706.93,417.24M706.93,417.24L699.43,417.24M706.93,417.24L710.68,423.74M710.68,423.74L706.93,430.24M706.93,430.24L699.43,430.24M706.93,430.24L710.68,436.73M710.68,436.73L706.93,443.23M706.93,443.23L699.43,443.23M699.43,443.23L695.68,436.73M695.68,501.71L699.43,495.21M699.43,495.21L706.93,495.21M706.93,495.21L710.68,501.71M710.68,501.71L706.93,508.21M706.93,508.21L699.43,508.21M706.93,508.21L710.68,514.7M710.68,514.7L706.93,521.2M706.93,521.2L699.43,521.2M706.93,521.2L710.68,527.7M710.68,527.7L706.93,534.2M706.93,534.2L699.43,534.2M706.93,534.2L710.68,540.69M710.68,540.69L706.93,547.19M706.93,547.19L699.43,547.19M706.93,547.19L710.68,553.69M710.68,553.69L706.93,560.19M706.93,560.19L699.43,560.19M706.93,560.19L710.68,566.68M710.68,566.68L706.93,573.18M706.93,573.18L699.43,573.18M706.93,573.18L710.68,579.68M710.68,579.68L706.93,586.18M706.93,586.18L699.43,586.18M699.43,586.18L695.68,579.68M710.68,150.84L718.18,150.84M718.18,150.84L721.93,157.34M721.93,157.34L718.18,163.84M718.18,163.84L710.68,163.84M718.18,163.84L721.93,170.34M721.93,170.34L718.18,176.84M718.18,176.84L710.68,176.84M718.18,176.84L721.93,183.33M721.93,183.33L718.18,189.83M718.18,189.83L710.68,189.83M718.18,189.83L721.93,196.33M721.93,196.33L718.18,202.82M718.18,202.82L710.68,202.82M718.18,202.82L721.93,209.32M721.93,209.32L718.18,215.82M718.18,215.82L710.68,215.82M718.18,215.82L721.93,222.32M721.93,222.32L718.18,228.81M718.18,228.81L710.68,228.81M718.18,228.81L721.93,235.31M721.93,235.31L718.18,241.81M718.18,241.81L710.68,241.81M718.18,241.81L721.93,248.31M721.93,248.31L718.18,254.81M718.18,254.81L710.68,254.81M718.18,254.8L721.93,261.3M721.93,261.3L718.18,267.8M718.18,267.8L710.68,267.8M718.18,267.8L721.93,274.3M721.93,274.3L718.18,280.79M718.18,280.79L710.68,280.79M718.18,280.79L721.93,287.29M721.93,287.29L718.18,293.79M718.18,293.79L710.68,293.79M718.18,293.79L721.93,300.29M721.93,300.29L718.18,306.78M718.18,306.78L710.68,306.78M718.18,306.78L721.93,313.28M721.93,313.28L718.18,319.78M718.18,319.78L710.68,319.78M718.18,319.78L721.93,326.28M721.93,326.28L718.18,332.77M718.18,332.77L710.68,332.77M718.18,332.77L721.93,339.27M721.93,339.27L718.18,345.77M718.18,345.77L710.68,345.77M718.18,345.77L721.93,352.27M721.93,352.27L718.18,358.76M718.18,358.76L710.68,358.76M718.18,358.76L721.93,365.26M721.93,365.26L718.18,371.76M718.18,371.76L710.68,371.76M718.18,371.76L721.93,378.26M721.93,378.26L718.18,384.75M718.18,384.75L710.68,384.75M718.18,384.75L721.93,391.25M721.93,391.25L718.18,397.75M718.18,397.75L710.68,397.75M718.18,397.75L721.93,404.25M721.93,404.25L718.18,410.74M718.18,410.74L710.68,410.74M718.18,410.74L721.93,417.24M721.93,417.24L718.18,423.74M718.18,423.74L710.68,423.74M718.18,423.74L721.93,430.24M721.93,430.24L718.18,436.73M718.18,436.73L710.68,436.73M710.68,514.7L718.18,514.7M718.18,514.7L721.93,521.2M721.93,521.2L718.18,527.7M718.18,527.7L710.68,527.7M718.18,527.7L721.93,534.2M721.93,534.2L718.18,540.69M718.18,540.69L710.68,540.69M721.93,170.34L729.43,170.34M729.43,170.34L733.18,176.84M733.18,176.84L729.43,183.33M729.43,183.33L721.93,183.33M729.43,183.33L733.18,189.83M733.18,189.83L729.43,196.33M729.43,196.33L721.93,196.33M729.43,196.33L733.18,202.82M733.18,202.82L729.43,209.32M729.43,209.32L721.93,209.32M729.43,209.32L733.18,215.82M733.18,215.82L729.43,222.32M729.43,222.32L721.93,222.32M729.43,222.32L733.18,228.81M733.18,228.81L729.43,235.31M729.43,235.31L721.93,235.31M729.43,235.31L733.18,241.81M733.18,241.81L729.43,248.31M729.43,248.31L721.93,248.31M729.43,248.31L733.18,254.8M733.18,254.8L729.43,261.3M729.43,261.3L721.93,261.3M729.43,261.3L733.18,267.8M733.18,267.8L729.43,274.3M729.43,274.3L721.93,274.3M729.43,274.3L733.18,280.79M733.18,280.79L729.43,287.29M729.43,287.29L721.93,287.29M729.43,287.29L733.18,293.79M733.18,293.79L729.43,300.29M729.43,300.29L721.93,300.29M729.43,300.29L733.18,306.78M733.18,306.78L729.43,313.28M729.43,313.28L721.93,313.28M729.43,313.28L733.18,319.78M733.18,319.78L729.43,326.28M729.43,326.28L721.93,326.28M729.43,326.28L733.18,332.77M733.18,332.77L729.43,339.27M729.43,339.27L721.93,339.27M729.43,339.27L733.18,345.77M733.18,345.77L729.43,352.27M729.43,352.27L721.93,352.27M729.43,352.27L733.18,358.76M733.18,358.76L729.43,365.26M729.43,365.26L721.93,365.26M729.43,365.26L733.18,371.76M733.18,371.76L729.43,378.26M729.43,378.26L721.93,378.26M729.43,378.26L733.18,384.75M733.18,384.75L729.43,391.25M729.43,391.25L721.93,391.25M729.43,391.25L733.18,397.75M733.18,397.75L729.43,404.25M729.43,404.25L721.93,404.25M729.43,404.25L733.18,410.74M733.18,410.74L729.43,417.24M729.43,417.24L721.93,417.24M729.43,417.24L733.18,423.74M733.18,423.74L729.43,430.24M729.43,430.24L721.93,430.24M729.43,430.24L733.18,436.73M733.18,436.73L729.43,443.23M729.43,443.23L721.93,443.23M721.93,443.23L718.18,436.73M733.18,176.84L740.68,176.84M740.68,176.84L744.43,183.33M744.43,183.33L740.68,189.83M740.68,189.83L733.18,189.83M740.68,189.83L744.43,196.33M744.43,196.33L740.68,202.82M740.68,202.82L733.18,202.82M740.68,202.82L744.43,209.32M744.43,209.32L740.68,215.82M740.68,215.82L733.18,215.82M740.68,215.82L744.43,222.32M744.43,222.32L740.68,228.81M740.68,228.81L733.18,228.81M740.68,228.81L744.43,235.31M744.43,235.31L740.68,241.81M740.68,241.81L733.18,241.81M740.68,241.81L744.43,248.31M744.43,248.31L740.68,254.81M740.68,254.81L733.18,254.81M740.68,254.8L744.43,261.3M744.43,261.3L740.68,267.8M740.68,267.8L733.18,267.8M740.68,267.8L744.43,274.3M744.43,274.3L740.68,280.79M740.68,280.79L733.18,280.79M740.68,280.79L744.43,287.29M744.43,287.29L740.68,293.79M740.68,293.79L733.18,293.79M740.68,293.79L744.43,300.29M744.43,300.29L740.68,306.78M740.68,306.78L733.18,306.78M740.68,306.78L744.43,313.28M744.43,313.28L740.68,319.78M740.68,319.78L733.18,319.78M740.68,319.78L744.43,326.28M744.43,326.28L740.68,332.77M740.68,332.77L733.18,332.77M740.68,332.77L744.43,339.27M744.43,339.27L740.68,345.77M740.68,345.77L733.18,345.77M740.68,345.77L744.43,352.27M744.43,352.27L740.68,358.76M740.68,358.76L733.18,358.76M740.68,358.76L744.43,365.26M744.43,365.26L740.68,371.76M740.68,371.76L733.18,371.76M740.68,371.76L744.43,378.26M744.43,378.26L740.68,384.75M740.68,384.75L733.18,384.75M740.68,384.75L744.43,391.25M744.43,391.25L740.68,397.75M740.68,397.75L733.18,397.75M740.68,397.75L744.43,404.25M744.43,404.25L740.68,410.74M740.68,410.74L733.18,410.74M740.68,410.74L744.43,417.24M744.43,417.24L740.68,423.74M740.68,423.74L733.18,423.74M740.68,423.74L744.43,430.24M744.43,430.24L740.68,436.73M740.68,436.73L733.18,436.73M740.68,436.73L744.43,443.23M744.43,443.23L740.68,449.73M740.68,449.73L733.18,449.73M733.18,449.73L729.43,443.23M744.43,183.33L751.93,183.33M751.93,183.33L755.68,189.83M755.68,189.83L751.93,196.33M751.93,196.33L744.43,196.33M751.93,196.33L755.68,202.82M755.68,202.82L751.93,209.32M751.93,209.32L744.43,209.32M751.93,209.32L755.68,215.82M755.68,215.82L751.93,222.32M751.93,222.32L744.43,222.32M751.93,222.32L755.68,228.81M755.68,228.81L751.93,235.31M751.93,235.31L744.43,235.31M751.93,235.31L755.68,241.81M755.68,241.81L751.93,248.31M751.93,248.31L744.43,248.31M751.93,248.31L755.68,254.8M755.68,254.8L751.93,261.3M751.93,261.3L744.43,261.3M751.93,261.3L755.68,267.8M755.68,267.8L751.93,274.3M751.93,274.3L744.43,274.3M751.93,274.3L755.68,280.79M755.68,280.79L751.93,287.29M751.93,287.29L744.43,287.29M751.93,287.29L755.68,293.79M755.68,293.79L751.93,300.29M751.93,300.29L744.43,300.29M751.93,300.29L755.68,306.78M755.68,306.78L751.93,313.28M751.93,313.28L744.43,313.28M751.93,313.28L755.68,319.78M755.68,319.78L751.93,326.28M751.93,326.28L744.43,326.28M751.93,326.28L755.68,332.77M755.68,332.77L751.93,339.27M751.93,339.27L744.43,339.27M751.93,339.27L755.68,345.77M755.68,345.77L751.93,352.27M751.93,352.27L744.43,352.27M751.93,352.27L755.68,358.76M755.68,358.76L751.93,365.26M751.93,365.26L744.43,365.26M751.93,365.26L755.68,371.76M755.68,371.76L751.93,378.26M751.93,378.26L744.43,378.26M751.93,378.26L755.68,384.75M755.68,384.75L751.93,391.25M751.93,391.25L744.43,391.25M751.93,391.25L755.68,397.75M755.68,397.75L751.93,404.25M751.93,404.25L744.43,404.25M751.93,404.25L755.68,410.74M755.68,410.74L751.93,417.24M751.93,417.24L744.43,417.24M751.93,417.24L755.68,423.74M755.68,423.74L751.93,430.24M751.93,430.24L744.43,430.24M751.93,430.24L755.68,436.73M755.68,436.73L751.93,443.23M751.93,443.23L744.43,443.23M751.93,183.33L755.68,176.84M755.68,176.84L763.18,176.84M763.18,176.84L766.93,183.33M766.93,183.33L763.18,189.83M763.18,189.83L755.68,189.83M763.18,189.83L766.93,196.33M766.93,196.33L763.18,202.82M763.18,202.82L755.68,202.82M763.18,202.82L766.93,209.32M766.93,209.32L763.18,215.82M763.18,215.82L755.68,215.82M763.18,215.82L766.93,222.32M766.93,222.32L763.18,228.81M763.18,228.81L755.68,228.81M763.18,228.81L766.93,235.31M766.93,235.31L763.18,241.81M763.18,241.81L755.68,241.81M763.18,241.81L766.93,248.31M766.93,248.31L763.18,254.81M763.18,254.81L755.68,254.81M763.18,254.8L766.93,261.3M766.93,261.3L763.18,267.8M763.18,267.8L755.68,267.8M763.18,267.8L766.93,274.3M766.93,274.3L763.18,280.79M763.18,280.79L755.68,280.79M763.18,280.79L766.93,287.29M766.93,287.29L763.18,293.79M763.18,293.79L755.68,293.79M763.18,293.79L766.93,300.29M766.93,300.29L763.18,306.78M763.18,306.78L755.68,306.78M763.18,306.78L766.93,313.28M766.93,313.28L763.18,319.78M763.18,319.78L755.68,319.78M763.18,319.78L766.93,326.28M766.93,326.28L763.18,332.77M763.18,332.77L755.68,332.77M763.18,332.77L766.93,339.27M766.93,339.27L763.18,345.77M763.18,345.77L755.68,345.77M763.18,345.77L766.93,352.27M766.93,352.27L763.18,358.76M763.18,358.76L755.68,358.76M763.18,358.76L766.93,365.26M766.93,365.26L763.18,371.76M763.18,371.76L755.68,371.76M763.18,371.76L766.93,378.26M766.93,378.26L763.18,384.75M763.18,384.75L755.68,384.75M763.18,384.75L766.93,391.25M766.93,391.25L763.18,397.75M763.18,397.75L755.68,397.75M763.18,397.75L766.93,404.25M766.93,404.25L763.18,410.74M763.18,410.74L755.68,410.74M763.18,410.74L766.93,417.24M766.93,417.24L763.18,423.74M763.18,423.74L755.68,423.74M763.18,423.74L766.93,430.24M766.93,430.24L763.18,436.73M763.18,436.73L755.68,436.73M763.18,176.84L766.93,170.34M766.93,170.34L774.43,170.34M774.43,170.34L778.18,176.84M778.18,176.84L774.43,183.33M774.43,183.33L766.93,183.33M774.43,183.33L778.18,189.83M778.18,189.83L774.43,196.33M774.43,196.33L766.93,196.33M774.43,196.33L778.18,202.82M778.18,202.82L774.43,209.32M774.43,209.32L766.93,209.32M774.43,209.32L778.18,215.82M778.18,215.82L774.43,222.32M774.43,222.32L766.93,222.32M774.43,222.32L778.18,228.81M778.18,228.81L774.43,235.31M774.43,235.31L766.93,235.31M774.43,235.31L778.18,241.81M778.18,241.81L774.43,248.31M774.43,248.31L766.93,248.31M774.43,248.31L778.18,254.8M778.18,254.8L774.43,261.3M774.43,261.3L766.93,261.3M774.43,261.3L778.18,267.8M778.18,267.8L774.43,274.3M774.43,274.3L766.93,274.3M774.43,274.3L778.18,280.79M778.18,280.79L774.43,287.29M774.43,287.29L766.93,287.29M774.43,287.29L778.18,293.79M778.18,293.79L774.43,300.29M774.43,300.29L766.93,300.29M774.43,300.29L778.18,306.78M778.18,306.78L774.43,313.28M774.43,313.28L766.93,313.28M774.43,313.28L778.18,319.78M778.18,319.78L774.43,326.28M774.43,326.28L766.93,326.28M774.43,326.28L778.18,332.77M778.18,332.77L774.43,339.27M774.43,339.27L766.93,339.27M774.43,339.27L778.18,345.77M778.18,345.77L774.43,352.27M774.43,352.27L766.93,352.27M774.43,352.27L778.18,358.76M778.18,358.76L774.43,365.26M774.43,365.26L766.93,365.26M774.43,365.26L778.18,371.76M778.18,371.76L774.43,378.26M774.43,378.26L766.93,378.26M774.43,378.26L778.18,384.75M778.18,384.75L774.43,391.25M774.43,391.25L766.93,391.25M774.43,391.25L778.18,397.75M778.18,397.75L774.43,404.25M774.43,404.25L766.93,404.25M774.43,404.25L778.18,410.74M778.18,410.74L774.43,417.24M774.43,417.24L766.93,417.24M774.43,417.24L778.18,423.74M778.18,423.74L774.43,430.24M774.43,430.24L766.93,430.24M778.18,176.84L785.68,176.84M785.68,176.84L789.43,183.33M789.43,183.33L785.68,189.83M785.68,189.83L778.18,189.83M785.68,189.83L789.43,196.33M789.43,196.33L785.68,202.82M785.68,202.82L778.18,202.82M785.68,202.82L789.43,209.32M789.43,209.32L785.68,215.82M785.68,215.82L778.18,215.82M785.68,215.82L789.43,222.32M789.43,222.32L785.68,228.81M785.68,228.81L778.18,228.81M785.68,228.81L789.43,235.31M789.43,235.31L785.68,241.81M785.68,241.81L778.18,241.81M785.68,241.81L789.43,248.31M789.43,248.31L785.68,254.81M785.68,254.81L778.18,254.81M785.68,254.8L789.43,261.3M789.43,261.3L785.68,267.8M785.68,267.8L778.18,267.8M785.68,267.8L789.43,274.3M789.43,274.3L785.68,280.79M785.68,280.79L778.18,280.79M785.68,280.79L789.43,287.29M789.43,287.29L785.68,293.79M785.68,293.79L778.18,293.79M785.68,293.79L789.43,300.29M789.43,300.29L785.68,306.78M785.68,306.78L778.18,306.78M785.68,306.78L789.43,313.28M789.43,313.28L785.68,319.78M785.68,319.78L778.18,319.78M785.68,319.78L789.43,326.28M789.43,326.28L785.68,332.77M785.68,332.77L778.18,332.77M785.68,332.77L789.43,339.27M789.43,339.27L785.68,345.77M785.68,345.77L778.18,345.77M785.68,345.77L789.43,352.27M789.43,352.27L785.68,358.76M785.68,358.76L778.18,358.76M785.68,358.76L789.43,365.26M789.43,365.26L785.68,371.76M785.68,371.76L778.18,371.76M785.68,371.76L789.43,378.26M789.43,378.26L785.68,384.75M785.68,384.75L778.18,384.75M785.68,384.75L789.43,391.25M789.43,391.25L785.68,397.75M785.68,397.75L778.18,397.75M785.68,397.75L789.43,404.25M789.43,404.25L785.68,410.74M785.68,410.74L778.18,410.74M785.68,410.74L789.43,417.24M789.43,417.24L785.68,423.74M785.68,423.74L778.18,423.74M785.68,423.74L789.43,430.24M789.43,430.24L785.68,436.73M785.68,436.73L778.18,436.73M778.18,436.73L774.43,430.24M789.43,183.33L796.93,183.33M796.93,183.33L800.68,189.83M800.68,189.83L796.93,196.33M796.93,196.33L789.43,196.33M796.93,196.33L800.68,202.82M800.68,202.82L796.93,209.32M796.93,209.32L789.43,209.32M796.93,209.32L800.68,215.82M800.68,215.82L796.93,222.32M796.93,222.32L789.43,222.32M796.93,222.32L800.68,228.81M800.68,228.81L796.93,235.31M796.93,235.31L789.43,235.31M796.93,235.31L800.68,241.81M800.68,241.81L796.93,248.31M796.93,248.31L789.43,248.31M796.93,248.31L800.68,254.8M800.68,254.8L796.93,261.3M796.93,261.3L789.43,261.3M796.93,261.3L800.68,267.8M800.68,267.8L796.93,274.3M796.93,274.3L789.43,274.3M796.93,274.3L800.68,280.79M800.68,280.79L796.93,287.29M796.93,287.29L789.43,287.29M796.93,287.29L800.68,293.79M800.68,293.79L796.93,300.29M796.93,300.29L789.43,300.29M796.93,300.29L800.68,306.78M800.68,306.78L796.93,313.28M796.93,313.28L789.43,313.28M796.93,313.28L800.68,319.78M800.68,319.78L796.93,326.28M796.93,326.28L789.43,326.28M796.93,326.28L800.68,332.77M800.68,332.77L796.93,339.27M796.93,339.27L789.43,339.27M796.93,339.27L800.68,345.77M800.68,345.77L796.93,352.27M796.93,352.27L789.43,352.27M796.93,352.27L800.68,358.76M800.68,358.76L796.93,365.26M796.93,365.26L789.43,365.26M796.93,365.26L800.68,371.76M800.68,371.76L796.93,378.26M796.93,378.26L789.43,378.26M796.93,378.26L800.68,384.75M800.68,384.75L796.93,391.25M796.93,391.25L789.43,391.25M796.93,391.25L800.68,397.75M800.68,397.75L796.93,404.25M796.93,404.25L789.43,404.25M796.93,404.25L800.68,410.74M800.68,410.74L796.93,417.24M796.93,417.24L789.43,417.24M796.93,417.24L800.68,423.74M800.68,423.74L796.93,430.24M796.93,430.24L789.43,430.24M796.93,183.33L800.68,176.84M800.68,176.84L808.18,176.84M808.18,176.84L811.93,183.33M811.93,183.33L808.18,189.83M808.18,189.83L800.68,189.83M808.18,189.83L811.93,196.33M811.93,196.33L808.18,202.82M808.18,202.82L800.68,202.82M808.18,202.82L811.93,209.32M811.93,209.32L808.18,215.82M808.18,215.82L800.68,215.82M808.18,215.82L811.93,222.32M811.93,222.32L808.18,228.81M808.18,228.81L800.68,228.81M808.18,228.81L811.93,235.31M811.93,235.31L808.18,241.81M808.18,241.81L800.68,241.81M808.18,241.81L811.93,248.31M811.93,248.31L808.18,254.81M808.18,254.81L800.68,254.81M808.18,254.8L811.93,261.3M811.93,261.3L808.18,267.8M808.18,267.8L800.68,267.8M808.18,267.8L811.93,274.3M811.93,274.3L808.18,280.79M808.18,280.79L800.68,280.79M808.18,280.79L811.93,287.29M811.93,287.29L808.18,293.79M808.18,293.79L800.68,293.79M808.18,293.79L811.93,300.29M811.93,300.29L808.18,306.78M808.18,306.78L800.68,306.78M808.18,306.78L811.93,313.28M811.93,313.28L808.18,319.78M808.18,319.78L800.68,319.78M808.18,319.78L811.93,326.28M811.93,326.28L808.18,332.77M808.18,332.77L800.68,332.77M808.18,332.77L811.93,339.27M811.93,339.27L808.18,345.77M808.18,345.77L800.68,345.77M808.18,345.77L811.93,352.27M811.93,352.27L808.18,358.76M808.18,358.76L800.68,358.76M808.18,358.76L811.93,365.26M811.93,365.26L808.18,371.76M808.18,371.76L800.68,371.76M808.18,371.76L811.93,378.26M811.93,378.26L808.18,384.75M808.18,384.75L800.68,384.75M808.18,384.75L811.93,391.25M811.93,391.25L808.18,397.75M808.18,397.75L800.68,397.75M808.18,397.75L811.93,404.25M811.93,404.25L808.18,410.74M808.18,410.74L800.68,410.74M808.18,410.74L811.93,417.24M811.93,417.24L808.18,423.74M808.18,423.74L800.68,423.74M811.93,183.33L819.43,183.33M819.43,183.33L823.18,189.83M823.18,189.83L819.43,196.33M819.43,196.33L811.93,196.33M819.43,196.33L823.18,202.82M823.18,202.82L819.43,209.32M819.43,209.32L811.93,209.32M819.43,209.32L823.18,215.82M823.18,215.82L819.43,222.32M819.43,222.32L811.93,222.32M819.43,222.32L823.18,228.81M823.18,228.81L819.43,235.31M819.43,235.31L811.93,235.31M819.43,235.31L823.18,241.81M823.18,241.81L819.43,248.31M819.43,248.31L811.93,248.31M819.43,248.31L823.18,254.8M823.18,254.8L819.43,261.3M819.43,261.3L811.93,261.3M819.43,261.3L823.18,267.8M823.18,267.8L819.43,274.3M819.43,274.3L811.93,274.3M819.43,274.3L823.18,280.79M823.18,280.79L819.43,287.29M819.43,287.29L811.93,287.29M819.43,287.29L823.18,293.79M823.18,293.79L819.43,300.29M819.43,300.29L811.93,300.29M819.43,300.29L823.18,306.78M823.18,306.78L819.43,313.28M819.43,313.28L811.93,313.28M819.43,313.28L823.18,319.78M823.18,319.78L819.43,326.28M819.43,326.28L811.93,326.28M819.43,326.28L823.18,332.77M823.18,332.77L819.43,339.27M819.43,339.27L811.93,339.27M819.43,339.27L823.18,345.77M823.18,345.77L819.43,352.27M819.43,352.27L811.93,352.27M819.43,352.27L823.18,358.76M823.18,358.76L819.43,365.26M819.43,365.26L811.93,365.26M819.43,365.26L823.18,371.76M823.18,371.76L819.43,378.26M819.43,378.26L811.93,378.26M819.43,378.26L823.18,384.75M823.18,384.75L819.43,391.25M819.43,391.25L811.93,391.25M819.43,391.25L823.18,397.75M823.18,397.75L819.43,404.25M819.43,404.25L811.93,404.25M819.43,404.25L823.18,410.74M823.18,410.74L819.43,417.24M819.43,417.24L811.93,417.24M819.43,417.24L823.18,423.74M823.18,423.74L819.43,430.24M819.43,430.24L811.93,430.24M811.93,430.24L808.18,423.74M819.43,183.33L823.18,176.84M823.18,176.84L830.68,176.84M830.68,176.84L834.43,183.33M834.43,183.33L830.68,189.83M830.68,189.83L823.18,189.83M830.68,189.83L834.43,196.33M834.43,196.33L830.68,202.82M830.68,202.82L823.18,202.82M830.68,202.82L834.43,209.32M834.43,209.32L830.68,215.82M830.68,215.82L823.18,215.82M830.68,215.82L834.43,222.32M834.43,222.32L830.68,228.81M830.68,228.81L823.18,228.81M830.68,228.81L834.43,235.31M834.43,235.31L830.68,241.81M830.68,241.81L823.18,241.81M830.68,241.81L834.43,248.31M834.43,248.31L830.68,254.81M830.68,254.81L823.18,254.81M830.68,254.8L834.43,261.3M834.43,261.3L830.68,267.8M830.68,267.8L823.18,267.8M830.68,267.8L834.43,274.3M834.43,274.3L830.68,280.79M830.68,280.79L823.18,280.79M830.68,280.79L834.43,287.29M834.43,287.29L830.68,293.79M830.68,293.79L823.18,293.79M830.68,293.79L834.43,300.29M834.43,300.29L830.68,306.78M830.68,306.78L823.18,306.78M830.68,306.78L834.43,313.28M834.43,313.28L830.68,319.78M830.68,319.78L823.18,319.78M830.68,319.78L834.43,326.28M834.43,326.28L830.68,332.77M830.68,332.77L823.18,332.77M830.68,332.77L834.43,339.27M834.43,339.27L830.68,345.77M830.68,345.77L823.18,345.77M830.68,345.77L834.43,352.27M834.43,352.27L830.68,358.76M830.68,358.76L823.18,358.76M830.68,358.76L834.43,365.26M834.43,365.26L830.68,371.76M830.68,371.76L823.18,371.76M830.68,371.76L834.43,378.26M834.43,378.26L830.68,384.75M830.68,384.75L823.18,384.75M830.68,384.75L834.43,391.25M834.43,391.25L830.68,397.75M830.68,397.75L823.18,397.75M830.68,397.75L834.43,404.25M834.43,404.25L830.68,410.74M830.68,410.74L823.18,410.74M830.68,410.74L834.43,417.24M834.43,417.24L830.68,423.74M830.68,423.74L823.18,423.74M834.43,183.33L841.93,183.33M841.93,183.33L845.68,189.83M845.68,189.83L841.93,196.33M841.93,196.33L834.43,196.33M841.93,196.33L845.68,202.82M845.68,202.82L841.93,209.32M841.93,209.32L834.43,209.32M841.93,209.32L845.68,215.82M845.68,215.82L841.93,222.32M841.93,222.32L834.43,222.32M841.93,222.32L845.68,228.81M845.68,228.81L841.93,235.31M841.93,235.31L834.43,235.31M841.93,235.31L845.68,241.81M845.68,241.81L841.93,248.31M841.93,248.31L834.43,248.31M841.93,248.31L845.68,254.8M845.68,254.8L841.93,261.3M841.93,261.3L834.43,261.3M834.43,274.3L841.93,274.3M841.93,274.3L845.68,280.79M845.68,280.79L841.93,287.29M841.93,287.29L834.43,287.29M834.43,313.28L841.93,313.28M841.93,313.28L845.68,319.78M845.68,319.78L841.93,326.28M841.93,326.28L834.43,326.28M841.93,326.28L845.68,332.77M845.68,332.77L841.93,339.27M841.93,339.27L834.43,339.27M841.93,339.27L845.68,345.77M845.68,345.77L841.93,352.27M841.93,352.27L834.43,352.27M841.93,352.27L845.68,358.76M845.68,358.76L841.93,365.26M841.93,365.26L834.43,365.26M841.93,365.26L845.68,371.76M845.68,371.76L841.93,378.26M841.93,378.26L834.43,378.26M841.93,378.26L845.68,384.75M845.68,384.75L841.93,391.25M841.93,391.25L834.43,391.25M841.93,391.25L845.68,397.75M845.68,397.75L841.93,404.25M841.93,404.25L834.43,404.25M841.93,404.25L845.68,410.74M845.68,410.74L841.93,417.24M841.93,417.24L834.43,417.24M845.68,189.83L853.18,189.83M853.18,189.83L856.93,196.33M856.93,196.33L853.18,202.82M853.18,202.82L845.68,202.82M853.18,202.82L856.93,209.32M856.93,209.32L853.18,215.82M853.18,215.82L845.68,215.82M853.18,215.82L856.93,222.32M856.93,222.32L853.18,228.81M853.18,228.81L845.68,228.81M853.18,228.81L856.93,235.31M856.93,235.31L853.18,241.81M853.18,241.81L845.68,241.81M845.68,332.77L853.18,332.77M853.18,332.77L856.93,339.27M856.93,339.27L853.18,345.77M853.18,345.77L845.68,345.77M853.18,345.77L856.93,352.27M856.93,352.27L853.18,358.76M853.18,358.76L845.68,358.76M853.18,358.76L856.93,365.26M856.93,365.26L853.18,371.76M853.18,371.76L845.68,371.76M853.18,371.76L856.93,378.26M856.93,378.26L853.18,384.75M853.18,384.75L845.68,384.75M853.18,384.75L856.93,391.25M856.93,391.25L853.18,397.75M853.18,397.75L845.68,397.75M853.18,397.75L856.93,404.25M856.93,404.25L853.18,410.74M853.18,410.74L845.68,410.74M856.93,196.33L864.43,196.33M864.43,196.33L868.18,202.82M868.18,202.82L864.43,209.32M864.43,209.32L856.93,209.32M864.43,209.32L868.18,215.82M868.18,215.82L864.43,222.32M864.43,222.32L856.93,222.32M864.43,222.32L868.18,228.81M868.18,228.81L864.43,235.31M864.43,235.31L856.93,235.31M856.93,339.27L864.43,339.27M864.43,339.27L868.18,345.77M868.18,345.77L864.43,352.27M864.43,352.27L856.93,352.27M864.43,352.27L868.18,358.76M868.18,358.76L864.43,365.26M864.43,365.26L856.93,365.26M864.43,365.26L868.18,371.76M868.18,371.76L864.43,378.26M864.43,378.26L856.93,378.26M864.43,378.26L868.18,384.75M868.18,384.75L864.43,391.25M864.43,391.25L856.93,391.25M864.43,391.25L868.18,397.75M868.18,397.75L864.43,404.25M864.43,404.25L856.93,404.25M864.43,196.33L868.18,189.83M868.18,189.83L875.68,189.83M875.68,189.83L879.43,196.33M879.43,196.33L875.68,202.82M875.68,202.82L868.18,202.82M875.68,202.82L879.43,209.32M879.43,209.32L875.68,215.82M875.68,215.82L868.18,215.82M875.68,215.82L879.43,222.32M879.43,222.32L875.68,228.81M875.68,228.81L868.18,228.81M875.68,228.81L879.43,235.31M879.43,235.31L875.68,241.81M875.68,241.81L868.18,241.81M868.18,241.81L864.43,235.31M868.18,345.77L875.68,345.77M875.68,345.77L879.43,352.27M879.43,352.27L875.68,358.76M875.68,358.76L868.18,358.76M875.68,358.76L879.43,365.26M879.43,365.26L875.68,371.76M875.68,371.76L868.18,371.76M875.68,371.76L879.43,378.26M879.43,378.26L875.68,384.75M875.68,384.75L868.18,384.75M875.68,384.75L879.43,391.25M879.43,391.25L875.68,397.75M875.68,397.75L868.18,397.75M875.68,189.83L879.43,183.33M879.43,183.33L886.93,183.33M886.93,183.33L890.68,189.83M890.68,189.83L886.93,196.33M886.93,196.33L879.43,196.33M886.93,196.33L890.68,202.82M890.68,202.82L886.93,209.32M886.93,209.32L879.43,209.32M886.93,209.32L890.68,215.82M890.68,215.82L886.93,222.32M886.93,222.32L879.43,222.32M886.93,222.32L890.68,228.81M890.68,228.81L886.93,235.31M886.93,235.31L879.43,235.31M879.43,352.27L886.93,352.27M886.93,352.27L890.68,358.76M890.68,358.76L886.93,365.26M886.93,365.26L879.43,365.26M886.93,365.26L890.68,371.76M890.68,371.76L886.93,378.26M886.93,378.26L879.43,378.26M886.93,378.26L890.68,384.75M890.68,384.75L886.93,391.25M886.93,391.25L879.43,391.25M886.93,183.33L890.68,176.84M890.68,176.84L898.18,176.84M898.18,176.84L901.93,183.33M901.93,183.33L898.18,189.83M898.18,189.83L890.68,189.83M898.18,189.83L901.93,196.33M901.93,196.33L898.18,202.82M898.18,202.82L890.68,202.82M898.18,202.82L901.93,209.32M901.93,209.32L898.18,215.82M898.18,215.82L890.68,215.82M898.18,215.82L901.93,222.32M901.93,222.32L898.18,228.81M898.18,228.81L890.68,228.81M898.18,228.81L901.93,235.31M901.93,235.31L898.18,241.81M898.18,241.81L890.68,241.81M890.68,241.81L886.93,235.31M890.68,371.76L898.18,371.76M898.18,371.76L901.93,378.26M901.93,378.26L898.18,384.75M898.18,384.75L890.68,384.75M901.93,183.33L909.43,183.33M909.43,183.33L913.18,189.83M913.18,189.83L909.43,196.33M909.43,196.33L901.93,196.33M909.43,196.33L913.18,202.82M913.18,202.82L909.43,209.32M909.43,209.32L901.93,209.32M901.93,222.32L909.43,222.32M909.43,222.32L913.18,228.81M913.18,228.81L909.43,235.31M909.43,235.31L901.93,235.31M913.18,189.83L920.68,189.83M920.68,189.83L924.43,196.33M924.43,196.33L920.68,202.82M920.68,202.82L913.18,202.82M920.68,202.82L924.43,209.32M924.43,209.32L920.68,215.82M920.68,215.82L913.18,215.82M913.18,215.82L909.43,209.32M920.68,189.83L924.43,183.33M924.43,183.33L931.93,183.33M931.93,183.33L935.68,189.83M935.68,189.83L931.93,196.33M931.93,196.33L924.43,196.33M931.93,196.33L935.68,202.82M935.68,202.82L931.93,209.32M931.93,209.32L924.43,209.32M935.68,189.83L943.18,189.83M943.18,189.83L946.93,196.33M946.93,196.33L943.18,202.82M943.18,202.82L935.68,202.82" fill="none" stroke="#000" stroke-width="1" shape-rendering="crispEdges"/>
<g id="bounds"><path d="M540,75.57 547.12,77.35 552.47,76.63 556.49,74.16 561.37,72 566.71,73.07 572.06,70.22 578.29,73.43 582.5,74.59 585.95,77.35 590.76,73.43 591.65,66.66 593.43,60.07 591.65,53.84 591.11,48.5 596.99,45.82 603.22,46.36 610.35,49.39 616.58,52.06 620.14,55.62 621.92,60.96 618.36,64.52 616.94,69.87 618.36,73.43 616.58,78.77 620.14,85.89 624.27,88.52 627.27,93.02 629.94,98.36 629.05,101.03 632.61,104.59 639.73,107.27 645.08,111.72 649.24,113.51 653.98,116.17 661.1,119.73 662.89,125.08 664.67,127.75 671.79,126.86 676.55,128.03 680.69,130.06 684.67,132.88 687.82,135.76 692.8,137.54 693.16,143.78 698.5,147.34 697.61,152.68 702.41,153.82 707.41,153.93 708.3,158.02 709.19,161.05M692.8,144.67 687.82,145.56 686.04,150.01 682.24,152.8 677.13,154.46 674.46,158.02 673.57,161.05M708.9,163.15 712.55,165.16 716.03,168.5 718.93,172.52 723.15,175.62 726.46,178.53 730.28,180.96 734.24,180.85 738.46,182.91 742.74,183.63 747.17,183.18 751.65,182.74 756.28,182.89 760.55,182.39 765.92,182.55 771.24,181.85 776.58,180.61 781.92,181.32 787.27,182.74 791.51,183.98 796.17,183.63 801.39,182.71 806.86,182.74 812.24,182.19 817.54,183.63 824.67,187.2 831.79,190.76 836.34,192.88 840.69,194.32 847.82,196.99 852.05,198.26 856.72,197.88 863.85,196.99 867.41,192.54 872.83,192.23 878.09,191.65 883.13,190.41 887,188.09 891,188.24 896.08,188.01 900,187.2M900,229.05 894.36,230.46 888.78,230.83 881.66,233.5 876.31,229.05 871.83,229.64 867.41,229.05 861.77,230.39 856.72,229.94 849.6,233.5 842.48,236.17 835.35,239.73 831.79,243.29 835.35,248.64 838.91,253.09 831.79,253.98 827.27,255.44 822.89,255.76 821.1,261.1 826.45,266.45 830.01,271.79M900.61,189.23 907.02,191.37 911.29,192.44 915.57,192.97 920.91,191.37 926.25,192.97 930.53,195.11 933.73,197.25 934.27,199.92 930.53,200.99 929.99,204.19 927.32,206.87 923.05,207.4 919.84,205.26 916.63,202.59 912.36,200.99 909.69,201.52 912.36,203.13 910.22,206.33 909.69,209 905.95,209.75 901.89,211.14 899.75,213.28 896.87,215.95 897.93,220.22 900.39,226.63 902.21,229.31 899.54,231.44M828.64,275.34 833.98,278.01 837.54,281.58 833.98,286.03 828.64,289.59 830.42,294.93 828.64,300.28 825.08,303.84 826.86,306.51 831.31,308.29 833.98,313.63 836.65,319.87 841.1,323.43 842.89,328.77 848.23,334.11 850.01,340.35 851.79,343.91 856.1,343.17 860.69,341.24 865.15,340.35 866.04,346.58 866.93,353.7 871.38,359.94 876.11,361.61 880.28,362.61 887.41,365.28 883.85,368.84 884.74,373.29 889.19,375.97 893.64,378.64 889.19,381.31 883.85,383.98 878.5,385.76 876.72,391.1 874.94,394.67 867.82,397.34 860.69,400.01 855.35,402.68 848.23,405.35 841.1,407.13M826.86,306.51 819.73,306.51 814.18,306.05 809.05,307.04 804.94,308.28 800.14,308.29 795.66,310.44 791.24,311.85 786.03,314.16 780.55,315.41 774.92,317.1 769.87,318.09 764.63,320.01 759.18,320.76 753.82,320.95 748.5,321.65 743.15,325.21 741.37,330.55 737.81,335.89 730.69,339.46 726.58,342.19 723.56,344.8 720,348.36 720,351.92 725.34,354.59 727.12,357.27 721.78,360.83 720,361.72M840,406.66 834.12,407.2 827,410.76 821.66,415.21 816.31,419.66 809.19,418.77 804.85,420.32 800.28,422.33 795.77,422.65 791.38,423.22 786.6,422.19 782.48,422.33 777.73,422.55 773.57,421.98 768.91,423.55 764.67,424.11 757.54,427.68 752.2,433.02 746.86,438.36 739.73,436.58 732.61,435.69 728.56,433.69 725.49,431.24M718.36,376.92 721.92,383.15 724.11,387.67 727.27,392.06 725.49,399.18 728.16,406.3 729.05,413.43 732.61,420.55 727.27,425.89 725.49,431.24M725.22,431.17 719.88,432.06 715.21,431.5 710.97,430.28 706.07,432.66 700.28,432.95 695.83,433.57 691.38,434.73 686.48,432.95 682.48,430.28 677.58,430.66 673.57,432.95 669.54,434.69 666.45,438.29 661.62,438.24 657.54,438.29 650.42,440.07 646.26,439.37 641.51,440.07 637.04,441.12 632.61,441.85 628.23,441.14 623.7,440.96 619.12,442.84 614.8,443.63 607.68,442.74 600.55,441.85 593.43,442.74 586.3,440.07 580.96,440.96 575.62,435.62 578.29,428.5 582.35,425.75 584.52,421.37 582.74,414.25 578.29,412.47M650.42,440.07 650.94,444.85 652.2,449.87 650.27,453.63 649.24,458.32 646.86,462.33 652.2,467.68 653.12,472.15 653.98,476.58 654.49,481.55 655.76,485.49 658.42,489.59 661.1,494.39 668.23,492.61 671.79,499.73 676.29,502.04 680.69,505.08 684.1,508.31 687.82,510.42 692.25,509.77 696.5,509.74 700.28,508.64 702.07,514.87 709.19,517.54 710.97,524.67 716.31,526.45M598.77,442.74 597.42,446.85 596.99,451.65 597.24,456.44 598.77,460.55 598.75,465.09 600.55,469.46 596.99,476.58 593.43,483.7 591.93,487.74 591.65,492.61 593.43,499.73 589.87,506.86 584.52,510.42 580.14,513.99 575.62,515.76 570.99,514.59 566.71,513.98 561.37,516.65 557.81,513.98 552.47,517.54 547.12,521.1 540,522.89M716.31,525.34 719.88,530.69 720.77,535.14 715.77,535.52 710.97,537.81 703.85,539.59 700.28,542.26 705.63,546.71 706.52,552.06 700.28,554.73 694.94,557.4 696.72,564.52 695.83,568.98 702.07,570.76 700.28,573.43 695.51,574.29 691.38,576.1 684.26,577.88 680.69,582.33 677.13,585 673.57,588.57 676.24,594.8 671.79,597.47 664.67,598.36 659.32,601.03 655.76,605.49 650.42,600.14 645.08,596.94 637.95,598.36 632.61,598.36 629.05,603.7 632.61,606.38 627.27,605.49 623.7,598.36 618.36,600.14 611.24,602.81 605.89,603.7 598.77,601.92 593.43,602.81 591.52,599.17 588.09,596.58 582.74,593.91M632.61,598.36 629.05,591.24 630.83,589.46 624.59,586.79 625.49,580.55 622.38,577.15 618.36,574.32 611.24,573.43 605.89,568.09 602.33,561.85 599.88,558.15 596.99,555.62 589.87,555.62 582.74,558.29 578.16,559.62 573.84,560.07 569.29,559.94 564.93,559.54 558.7,558.29 559.59,552.06 562.26,546.71 564.93,539.59 569.54,538.46 573.84,536.03 580.96,534.25 575.62,528.9 568.5,527.12 563.15,521.78 561.37,520 557.81,515.73M580,593.43 574.12,595.21 572.34,600.55 565.22,603.22 558.09,605.89 556.31,613.02 550.97,616.58 543.85,620.14 536.72,621.03 538.5,625.49 533.16,629.05 526.04,630.83 522.48,637.06 517.13,632.61 511.79,630.83 509.12,634.39 513.57,639.73 517.13,645.08 513.57,647.75 520.69,650.42 527.82,650.42 528.71,657.54 522.48,661.1 515.35,662.89 508.23,661.1 501.1,659.32 493.98,658.43 486.86,657.54 481.51,653.98 476.17,650.42 472.61,645.97 465.49,643.29 458.36,641.51 453.02,637.95 450.35,632.61 449.46,625.49 447.68,618.36 442.33,614.8 438.77,610.35 433.43,607.68 426.3,607.32 420.96,608.57 413.84,611.24 406.71,613.02 399.59,614.8 392.47,612.13M438.77,610.35 439.69,606.29 439.66,602.33 439.97,597.83 438.77,593.43 437.98,588.92 437.88,584.52 438.27,580.15 440.55,575.62 442.33,568.5 444.04,564.8 446.79,561.37 449.46,554.25 450.35,547.12 452.13,540M390,613.02 385.14,613.11 380.56,613.37 376.34,612.78 371.66,613.02 366.31,612.13 365.42,608.57 359.19,608.57 353.85,611.24 352.07,605.89 347.61,606.25 344.94,613.02 339.6,617.47 335.15,614.8 330.69,611.24 327.13,606.79 323.57,604.11 320.9,605 321.79,611.24 317.34,613.91 314.67,615.69 313.78,621.03 309.54,621.64 305.76,622.81 300.42,621.92 295.08,624.59 289.73,629.05 287.95,632.61 289.73,637.6 282.61,637.95 278.18,637.33 273.7,637.6 266.58,636.17 259.46,635.28 257.68,629.05 255,625.49 248.77,622.81 245.21,618.36 239.87,618.01 238.09,611.24M143.84,470 150.96,473.56 158.09,477.12 161.65,481.58 168.77,484.25 171.44,487.81 169.66,494.93 173.22,497.6 175,501.17 171.44,503.84 167.88,508.29 170.55,512.74 174.7,514.91 178.57,516.3 184.8,518.98 191.03,521.65 188.36,526.1 181.24,527.88 176.73,529.03 172.33,530.55 166.99,532.33 161.65,529.66 157.2,528.77 150.96,531.44 143.84,533.22 137.6,534.47 134.93,536.79 134.04,541.24 136.71,544.8 138.5,540.35 141.17,544.8 148.29,548.36 153.09,549.62 158.09,550.14 160.76,553.7 160.76,560.83 163.43,566.17 161.65,569.73 158.98,573.29 156.3,577.75 158.09,583.98 162.89,584.55 166.99,584.87 171.44,589.32 172.33,594.67 169.66,597.34 169.79,601.23 170.55,605.35 175.89,601.79 181.24,597.34 188.36,600.9 193.7,606.24 198.53,605.73 202.61,604.46 209.73,601.79 215.08,602.68 220.42,601.79 227.54,600.01 234.67,601.79 237.34,607.13 238.23,611.05M191.03,521.65 194.6,520.07 199.05,519.87 200.9,515.5 204.39,512.74 207.53,509.68 209.73,505.62 215.08,500.28 219.38,497.2 223.98,494.93 228.5,492.93 232.89,491.37 237.51,489.04 241.79,487.81 246.63,486.72 250.69,485.14 254.87,482.8 259.6,481.58 266.72,479.8 273.85,480.69 280.97,482.47 288.09,486.03 295.22,487.81 299.4,486.93 304.12,486.92 310,485.14M143.84,469.53 136.71,466.86 134.04,461.51 135.82,456.17 142.95,452.61 144.73,448.16 142.95,443.7 147.4,438.36 150.82,436.05 154.52,433.02 161.65,429.46 164.77,427 168.77,425 175.89,421.44 183.02,417.88 188.36,414.32 193.7,412.54 200.83,410.76 202.61,406.3 209.73,404.52 216.86,405.41 219.53,401.85 225.76,400.07 232.89,398.29 238.23,400.07 245.35,398.29 252.48,394.73 259.6,394.73 261.38,388.5 266.72,386.71 273.85,384.93 277.41,388.5 283.64,391.17 289.88,390.28 295.22,386.71M280,291.78 283.44,294.28 287.12,297.12 290.34,301.27 294.25,303.36 298.09,305.57 301.37,309.59 308.5,312.26 313.16,312.91 318.29,313.15 324.52,314.93 326.3,321.17 328.09,327.4 333.43,331.85 336.99,332.74 340.55,338.09 345.89,343.43 348.57,345.21 342.33,349.66 335.21,353.22 328.09,355.89 320.96,357.68 314.73,361.24 312.06,368.36 307.6,373.7 306.71,379.05 301.37,379.05 297.81,382.61 299.59,387.95 295.14,386.71M336.99,333.63 344.11,330.07 346.79,328.29 350.35,333.63 348.57,326.51 354.8,323.84 360.14,322.06 365.49,325.62 372.61,328.29 376.41,325.32 379.73,322.06 386.86,321.17 393.98,323.84 401.1,324.73 407.34,328.29M295.14,386.71 297.81,390.09 301.37,390.62 306.54,391.87 312.06,393.29 316.64,393.98 320.96,395.08 326.3,400.42 331.65,405.76 336.99,411.1 341.44,412.89 340.55,417.34 345.89,421.79 350.65,421.84 354.8,423.57 360.43,422.47 365.49,422.68 372.61,420.9 377.06,425.35 381.51,431.05M372.61,420.9 377.06,418.23 380.2,416.25 383.29,412.89 390.42,409.32 397.54,405.76 404.67,403.98 411.79,402.2 418.91,398.64 424.26,393.29 429.6,390.62 436.72,392.4 440.99,393.93 443.85,396.86 449.19,399.53 450.41,403.81 450.97,407.54 455.42,408.43M279.87,288.64 275.76,286.32 272.74,283.29 268.29,279.73 269.18,274.39 267.4,269.05 270.96,262.81 265.62,261.03 260.28,258.36 254.93,259.25 254.04,255.69 256.71,251.24 260.28,246.79 265.62,242.33 270.96,236.99 278.09,236.1 285.21,235.21 288.77,228.98 292.33,224.52 299.46,222.74 303.6,222 308.36,222.74 315.49,220.07 319.05,215.62 326.17,214.73 333.29,216.51 340.42,217.4 343.98,220.96 347.54,225.41 351.1,228.09 356.45,227.2 361.79,222.74 365.35,220.07 372.48,218.29 379.6,215.62 386.72,212.06 392.07,209.39 397.41,206.71 400.97,203.15 405.42,197.81 408.09,195.14 415.22,196.03 418.78,190.69M418.29,191.1 420.96,183.98 424.52,176.86 429.87,171.51 436.99,167.95 441.44,162.61 444.11,155.49 446.79,149.25 450.35,148.36 456.58,151.92 459.25,157.27 465.49,159.05 472.61,162.61 474.39,157.27 481.51,155.49 485.73,154.53 490.42,155.49 497.54,153.7 504.67,151.92 511.79,152.81 517.13,156.38 524.26,157.27 531.38,155.49 527.82,148.36 525.07,144.84 522.48,141.24 517.13,135.89 511.79,130.55 508.86,126.87 506.45,123.43 501.1,118.09 496.82,115.72 493.98,112.74 488.64,108.29 484.19,103.84 484.19,96.71 488.64,93.15 495.76,89.59 501.1,93.15 504.67,98.5 508.05,100.83 511.79,102.95 516.6,103.92 520.69,105.62 525.04,106.63 529.6,106.51 536.72,106.51 538.5,102.06 534.94,96.71 531.38,91.37 528.71,86.03 527.82,78.9 531.38,74.45 535.69,75.5 540.28,75.34M673.52,161.04 667.82,161.58 660.69,164.25 655.35,161.58 657.13,167.81 658.02,174.93 655.35,179.39 648.23,181.17 641.1,183.84 637.75,185.65 633.98,188.29 628.64,192.74 626.86,199.87 625.08,206.99 622.4,212.33 625.08,215.89 626.86,221.24 626.86,226.58 621.51,231.92 616.17,237.27 611.72,238.16 617.95,240.83 623.29,244.39 626.86,248.84 623.29,255.08 620.62,260.42 621.51,266.65 625.97,271.1 627.85,275.09 630.42,278.23 632.2,284.46 635.76,291.05M531.4,155.52 536.26,154.9 541.37,155.34 546.71,160.69 548.5,167.81 550.28,174.93 546.71,181.17 541.37,185.62 543.15,190.96 550.28,193.63 554.58,194.52 559.18,196.3 563.64,199.19 568.09,203.43 573.43,207.88 566.3,210.55 561.85,215 560.07,221.24 555.62,226.58 552.75,229.91 550.28,233.7 546.74,236.52 543.15,239.05 537.81,244.39 533.36,249.73 536.03,254.19 541.12,255.41 546.71,256.86 552.95,260.42 552.06,263.98 547.97,264.78 543.15,263.98 538.48,265.16 534.25,265.76 529.71,266.15 525.34,266.65 520,267.54M520.04,267.5 515.76,266.79 511.33,267.89 506.86,268.57 501.51,265.89 499.73,261.44 492.61,258.77 488.21,259.36 483.7,259.66 476.58,260.55 471.24,263.22 467.68,265.89 471.24,271.24 470.35,276.58 467.68,281.92 468.57,287.27 466.79,294.39 465.89,299.73 466.79,304.19 469.46,301.51 476.58,300.62 481.92,302.4 487.27,305.97 492.61,308.64 489.05,312.2 495.28,313.98 497.06,321.1 503.29,321.1 510.42,322.89 517.54,323.78 524.67,325.56 529.12,330.01M466.79,304.19 460.55,305.08 453.43,304.19 446.3,305.97 439.18,305.08 432.06,306.86 424.93,307.75 417.81,308.64 413.36,313.98 410.69,321.1 407.12,326.45 403.56,329.12 400,327.34M635.76,291.02 637.54,292.26 632.2,294.04 628.64,298.5 626.86,303.84 630.42,309.18 633.98,314.52 635.76,320.76 641.1,323.43 646.45,328.77 650.01,330.55 644.67,334.11 641.1,338.57 637.54,342.13 633.98,346.58 628.64,351.03 623.29,355.49 619.73,359.05 614.39,359.94 611.72,356.38 609.05,351.92 604.22,351.82 600.14,351.03 593.02,353.7 587.68,352.81 584.11,348.36 576.99,346.58 572.32,348.12 568.09,348.36 560.96,347.47 553.84,349.25 546.71,351.03 540.48,348.36 539.59,343.02 536.03,339.46 528.9,337.68 527.12,332.33 525.34,326.99 520,323.43M637.54,342.13 644.67,344.8 651.79,346.58 655.35,342.13 662.48,340.35 667.82,339.46 670.17,335.63 673.16,332.33 680.28,331.44 683.85,337.68 686.28,341.68 689.19,344.8 691.23,348.63 694.53,351.92 696.23,356.19 699.88,359.05 705.22,364.39 710.56,367.95 714.12,374.19 716.51,377.75 720,380.42M710.56,367.95 714.12,362.61 720,359.05M540.48,348.36 539.59,355.49 537.81,362.61 536.92,369.73 541.37,375.08 542.26,382.2 539.59,387.54 543.15,392.89 543,397.59 544.04,401.79 542.75,406.39 543.15,411.05M543.06,411.03 541.1,408.36 537.81,410.82 533.98,412.81 530.42,419.05 526.86,426.17 519.73,429.73 512.61,430.62 509.94,434.19 503.7,429.73 498.36,427.06 494.8,429.73 487.68,426.17 480.55,422.61 473.43,420.83 469.26,418.82 464.52,417.27 461.78,414.13 458.29,411.92 455.44,408.36M541.1,408.36 545.43,408.31 550.01,410.14 557.13,408.36 564.26,411.03 571.38,410.14 578.33,412.46M420,391.44 427.12,390.55 434.25,391.44 439.59,395.89 446.71,397.68 450.28,403.02 454.73,408.36M360,425.34 364.26,427.49 367.12,430.69 371.59,432.82 376.03,434.25 383.15,432.47 386.71,437.81 389.89,440.7 393.84,443.15 400.96,446.71 408.09,449.39 412.45,450.74 416.99,451.17 422.33,454.73 418.77,458.29 411.65,455.62 404.52,456.51 399.18,459.18 395.62,464.52 393.84,471.65 397.4,478.77 404.52,482.33 408.66,482.36 413.43,481.44 420.55,484.11 418.77,491.24 420.55,496.58M360,505.49 364.02,503.97 368.9,503.7 373.04,505.19 377.81,505.49 382.42,505.34 386.71,503.7 391.29,501.21 395.62,498.36 400.23,497.34 404.52,496.58 408.9,497.04 413.43,498.36 420.55,496.58M386.71,503.7 387.12,507.77 386.71,512.61 390.28,519.73 393.4,522.96 395.62,526.86 398.15,530.46 400.96,533.98 404.52,537.54 408.95,536.65 413.43,535.76 420.55,533.98 427.68,530.42 431.24,526.86 438.36,528.64 445.49,526.86 450.83,525.08 452.61,532.2 453.16,536.48 451.72,541.1M450.83,525.08 455.46,526.42 459.73,526.86 466.86,530.42 473.98,533.98 481.1,530.42 488.23,526.86 495.35,525.08 502.48,526.86 509.6,523.29 514.94,519.73 516.72,514.39 523.85,510.83 530.97,507.27 534.53,505.49M452.61,478.77 456.17,485.89 459.73,491.24 466.86,494.8 471.58,495.99 475.76,496.58 480.01,495.37 484.67,494.8 491.79,498.36 496.17,498.32 500.69,496.58 507.82,499.25 512.1,497.66 516.72,496.58 523.85,493.02 529.19,491.24 527.41,484.11 523.85,478.77 526.52,471.65 523.85,464.52 516.72,462.74 512.28,461.58 507.82,459.18 504.84,455.74 500.69,453.84 498.58,449.47 495.35,446.71 491.96,443.65 490.01,439.59M420.55,496.58 427.68,494.8 434.8,491.24 441.92,487.68 444.98,484.59 449.05,482.33 452.61,478.77 456.17,471.65 459.73,464.52 466.86,460.96 470.49,457.63 473.98,455.62 478.08,453 481.1,450.28 484.83,447.53 486.65,442.82 490.01,439.59M310.07,484.85 314.52,482.54 319.05,483.32 323.43,482.54 327.69,481.6 332.33,481.65 334.11,485.21 328.77,490.55 332.33,495.89 337.26,496.37 341.24,498.57 345.57,498.71 350.14,497.68 353.7,501.24 351.92,506.58 357.27,509.25 359.94,505.51" fill="none" stroke="#000" stroke-width="1" stroke-linejoin="round" shape-rendering="crispEdges"/></g>
<g id="labels"><text x="592.8" y="196.1" text-anchor="middle" class="dl">怀柔区</text><text x="723.7" y="256.3" text-anchor="middle" class="dl">密云区</text><text x="370.5" y="260.3" text-anchor="middle" class="dl">延庆区</text><text x="429.7" y="374" text-anchor="middle" class="dl">昌平区</text><text x="632" y="399" text-anchor="middle" class="dl">顺义区</text><text x="797.4" y="377.6" text-anchor="middle" class="dl">平谷区</text><text x="455" y="448.8" text-anchor="middle" class="dl">海淀区</text><text x="271.5" y="461" text-anchor="middle" class="dl">门头沟区</text><text x="419.7" y="482.1" text-anchor="middle" class="dl">石景山区</text><text x="498.5" y="470.8" text-anchor="middle" class="dl">东城区</text><text x="495.5" y="491.3" text-anchor="middle" class="dl">西城区</text><text x="560.4" y="477.5" text-anchor="middle" class="dl">朝阳区</text><text x="451.4" y="512.8" text-anchor="middle" class="dl">丰台区</text><text x="642.5" y="534.3" text-anchor="middle" class="dl">通州区</text><text x="302" y="562.3" text-anchor="middle" class="dl">房山区</text><text x="525.5" y="589.5" text-anchor="middle" class="dl">大兴区</text></g>
<g id="legend">
<text x="853" y="443.3" class="lt" font-size="21.5" textLength="256" lengthAdjust="spacing">夜光值&lt;微博签到耦合关系</text>
<text x="853" y="472" class="lt" font-size="19" textLength="172.5" lengthAdjust="spacing">夜光遥感-微博签到</text>
<rect x="852.5" y="484.5" width="48" height="24" fill="#fff" stroke="#000" stroke-width="1" shape-rendering="crispEdges"/><text x="910" y="501.5" class="ll">中,</text><text x="944.5" y="501.5" class="ll">中</text><rect x="852.5" y="517.5" width="48" height="24" fill="#fff" stroke="#000" stroke-width="1" shape-rendering="crispEdges"/><text x="910" y="534.5" class="ll">中,</text><text x="944.5" y="534.5" class="ll">低</text><rect x="852.5" y="550.5" width="48" height="24" fill="#9a18e8" stroke="#000" stroke-width="1" shape-rendering="crispEdges"/><text x="910" y="567.5" class="ll">中,</text><text x="944.5" y="567.5" class="ll">高</text><rect x="852.5" y="583.5" width="48" height="24" fill="#55ff00" stroke="#000" stroke-width="1" shape-rendering="crispEdges"/><text x="910" y="600.5" class="ll">低,</text><text x="944.5" y="600.5" class="ll">中</text><rect x="852.5" y="616.5" width="48" height="24" fill="#fff" stroke="#000" stroke-width="1" shape-rendering="crispEdges"/><text x="910" y="633.5" class="ll">低,</text><text x="944.5" y="633.5" class="ll">低</text><rect x="852.5" y="648.5" width="48" height="24" fill="#ffa500" stroke="#000" stroke-width="1" shape-rendering="crispEdges"/><text x="910" y="665.5" class="ll">低,</text><text x="944.5" y="665.5" class="ll">高</text><rect x="852.5" y="681.5" width="48" height="24" fill="#fff" stroke="#000" stroke-width="1" shape-rendering="crispEdges"/><text x="910" y="698.5" class="ll">高,</text><text x="944.5" y="698.5" class="ll">中</text><rect x="852.5" y="714.5" width="48" height="24" fill="#fff" stroke="#000" stroke-width="1" shape-rendering="crispEdges"/><text x="910" y="731.5" class="ll">高,</text><text x="944.5" y="731.5" class="ll">低</text><rect x="852.5" y="747.5" width="48" height="24" fill="#fff" stroke="#000" stroke-width="1" shape-rendering="crispEdges"/><text x="910" y="764.5" class="ll">高,</text><text x="944.5" y="764.5" class="ll">高</text>
</g>
<g id="scalebar"><path d="M59.5,745L334.5,745M59.5,723.5L59.5,745M93.88,729.5L93.88,745M128.25,729.5L128.25,745M162.62,729.5L162.62,745M197,723.5L197,745M231.38,729.5L231.38,745M265.75,729.5L265.75,745M300.12,729.5L300.12,745M334.5,723.5L334.5,745" stroke="#000" stroke-width="1" fill="none" shape-rendering="crispEdges"/><text x="58" y="706" text-anchor="middle" class="sb">0</text><text x="126" y="706" text-anchor="middle" class="sb">20</text><text x="195" y="706" text-anchor="middle" class="sb">40</text><text x="334" y="706" text-anchor="middle" class="sb">80</text><text x="361.5" y="708" class="km">千米</text></g>
<g id="north"><text x="1025.3" y="110.5" text-anchor="middle" font-family="Liberation Sans, sans-serif" font-size="23">N</text>
<path d="M1025.2,116.1L1008.5,170.5L1025.2,149.3Z" fill="#000" stroke="#000" stroke-width="0.8"/>
<path d="M1025.2,116.1L1040.7,169.7L1025.2,149.3Z" fill="#fff" stroke="#000" stroke-width="1.3" stroke-linejoin="miter"/></g>
<g id="watermark">
<text x="855.6" y="760.2" class="wm" fill="#888" opacity="0.85" style="filter:blur(0.7px)">知乎 @淡烟流水</text>
<text x="854" y="758.5" class="wm" fill="#fff">知乎 @淡烟流水</text>
</g>
</svg>
</body></html>
